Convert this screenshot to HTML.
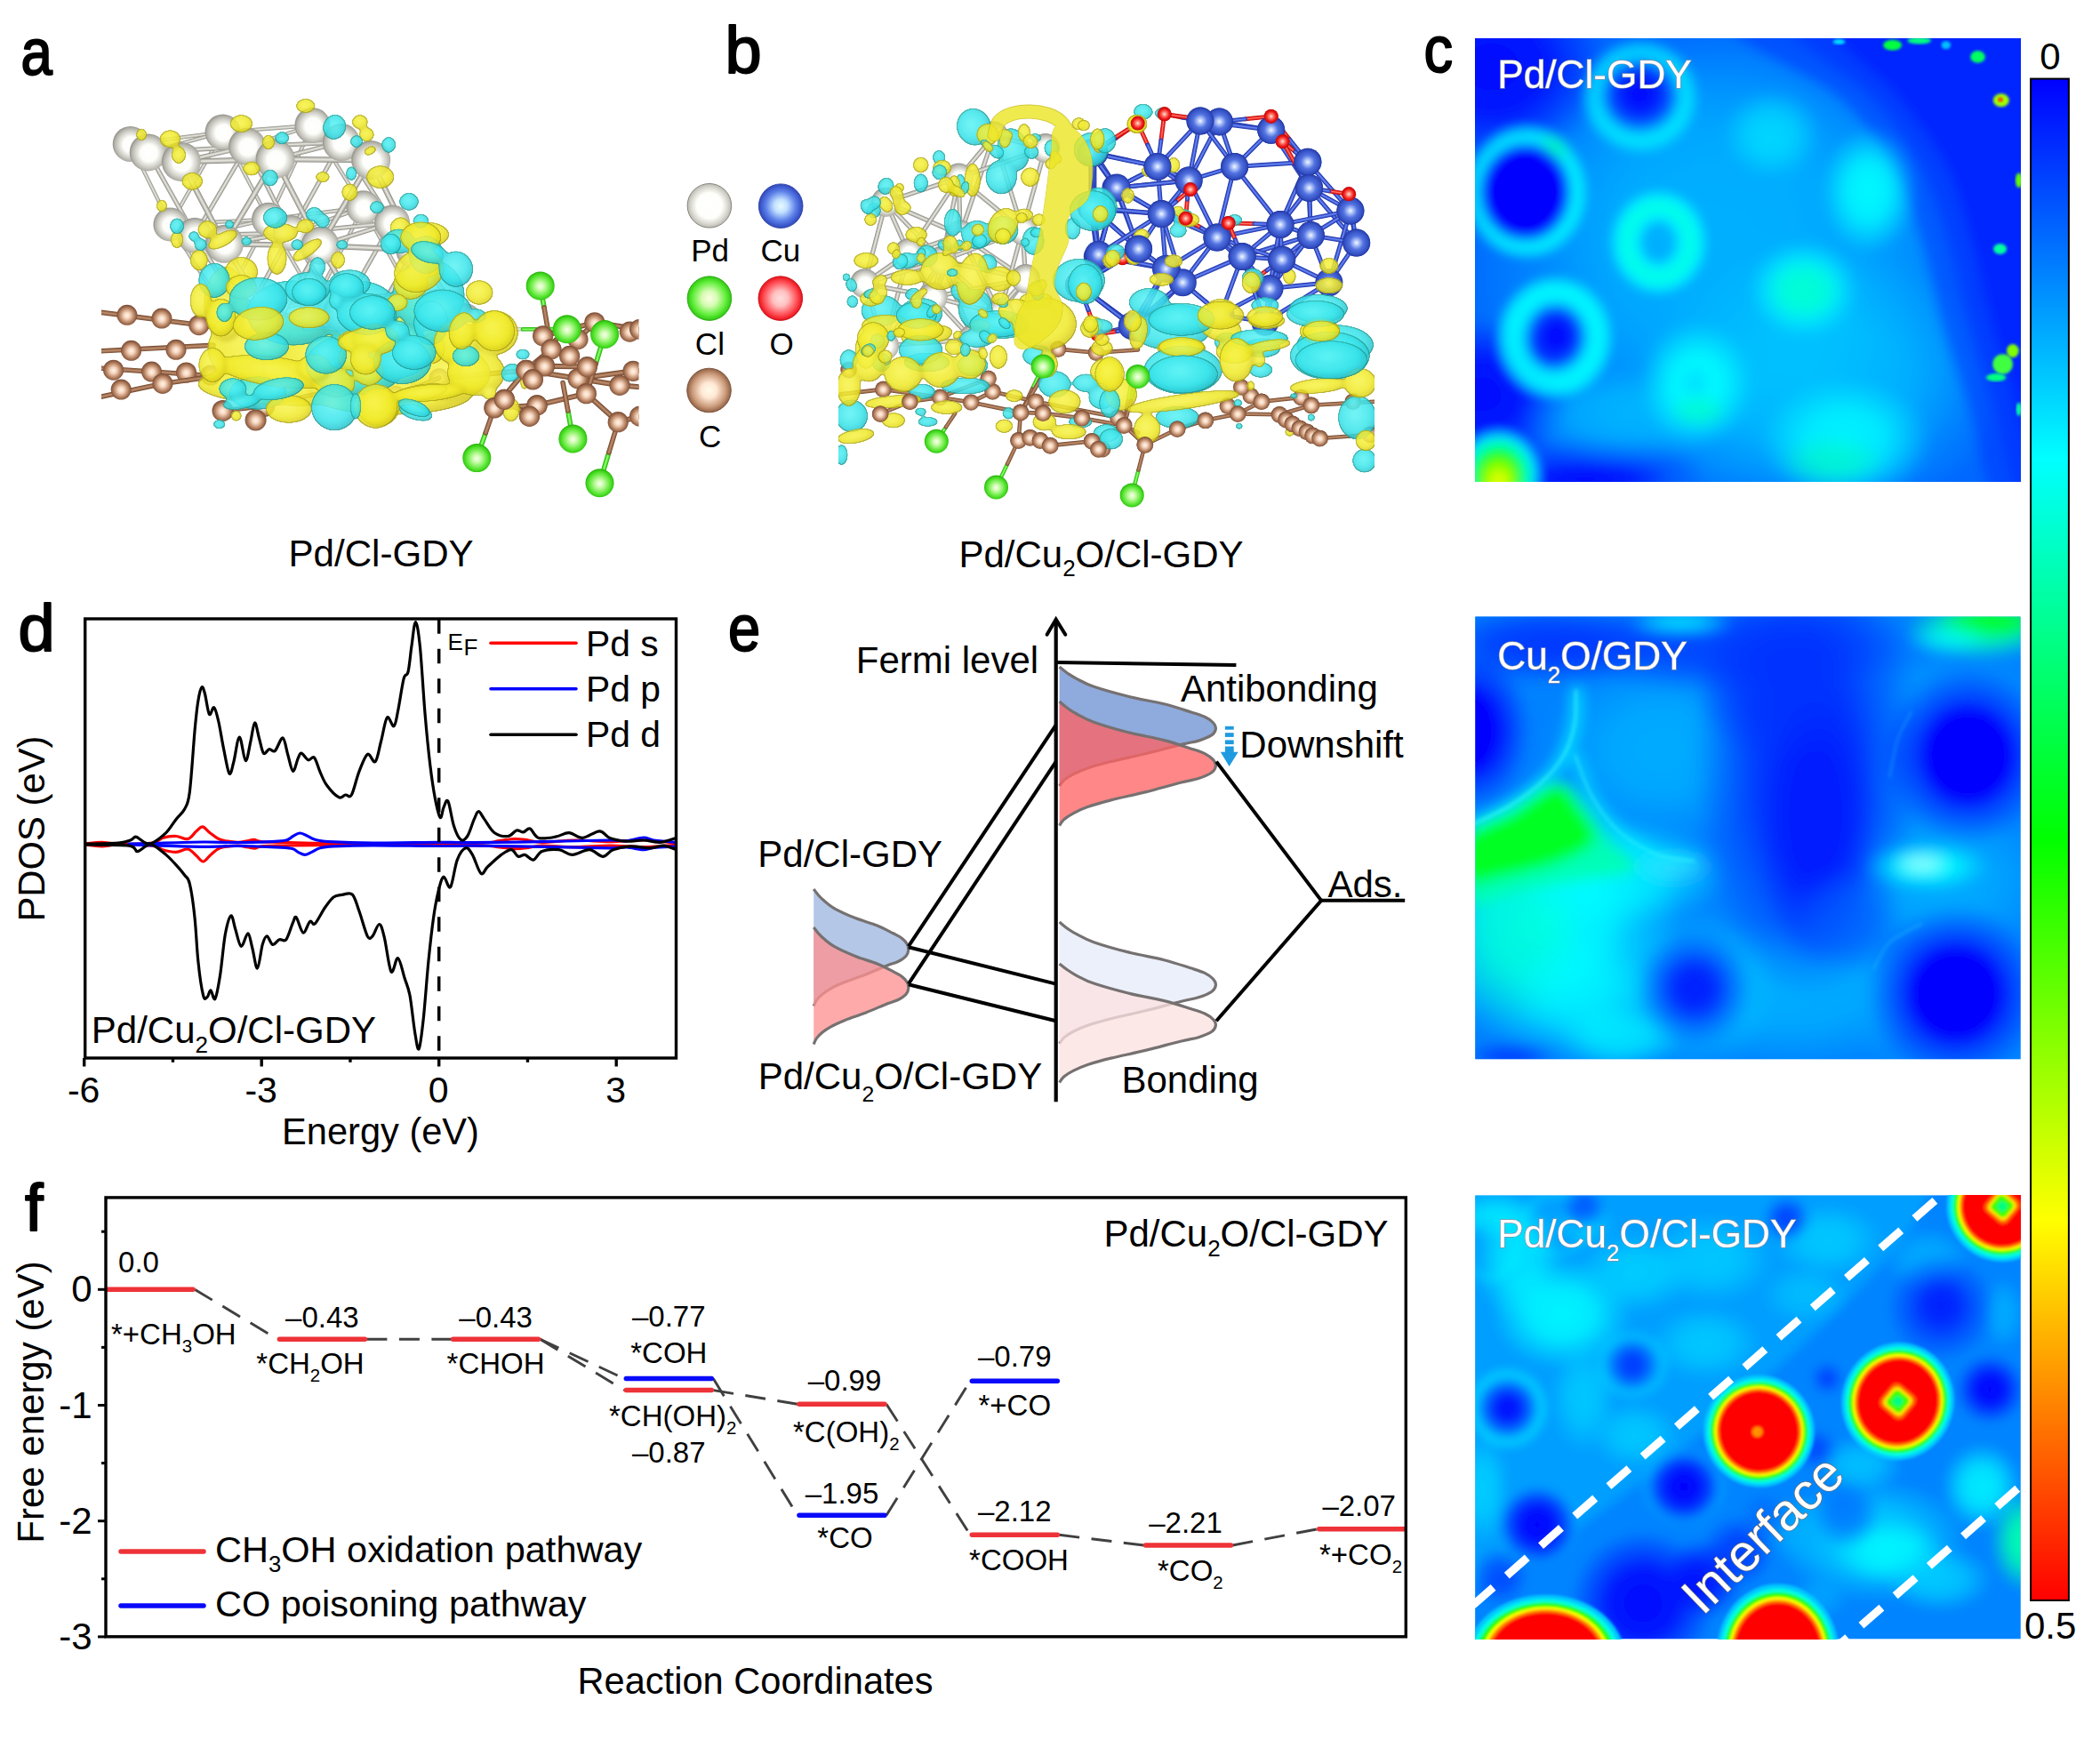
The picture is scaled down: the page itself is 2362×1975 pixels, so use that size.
<!DOCTYPE html>
<html><head><meta charset="utf-8"><title>figure</title>
<style>html,body{margin:0;padding:0;background:#fff}svg{display:block}text{font-family:"Liberation Sans",sans-serif}</style>
</head><body>
<svg width="2362" height="1975" viewBox="0 0 2362 1975">
<rect width="2362" height="1975" fill="#fff"/>
<g id="misc">
<text transform="translate(23.5,83.5) scale(0.86,1)" font-size="74" stroke="#000" stroke-width="2" stroke-linejoin="round">a</text>
<text transform="translate(815.5,82) scale(1,1)" font-size="74" stroke="#000" stroke-width="2" stroke-linejoin="round">b</text>
<text transform="translate(1601.6,80.8) scale(0.88,1)" font-size="74" stroke="#000" stroke-width="2" stroke-linejoin="round">c</text>
<text transform="translate(20.5,732.3) scale(1,1)" font-size="74" stroke="#000" stroke-width="2" stroke-linejoin="round">d</text>
<text transform="translate(819,732) scale(0.88,1)" font-size="74" stroke="#000" stroke-width="2" stroke-linejoin="round">e</text>
<text transform="translate(28,1384) scale(1,1)" font-size="74" stroke="#000" stroke-width="2" stroke-linejoin="round">f</text>
<text x="428.6" y="637.4" font-size="42.1" text-anchor="middle" font-weight="normal" fill="#000" >Pd/Cl-GDY</text>
<text x="1078.4" y="637.5" font-size="42" text-anchor="start" font-weight="normal" fill="#000" >Pd/Cu<tspan dy="10.9" font-size="26.04">2</tspan><tspan dy="-10.9">O/Cl-GDY</tspan></text>
<defs>
<radialGradient id="gPd" cx="0.5" cy="0.5" r="0.5"><stop offset="0" stop-color="#fff"/><stop offset="0.58" stop-color="#fefefb"/><stop offset="0.8" stop-color="#deded6"/><stop offset="1" stop-color="#babab2"/></radialGradient>
<radialGradient id="gCu" cx="0.5" cy="0.5" r="0.5"><stop offset="0" stop-color="#e8fbff"/><stop offset="0.3" stop-color="#c2e0ff"/><stop offset="0.68" stop-color="#5c80e8"/><stop offset="0.9" stop-color="#3c58cc"/><stop offset="1" stop-color="#3048b4"/></radialGradient>
<radialGradient id="gCl" cx="0.5" cy="0.5" r="0.5"><stop offset="0" stop-color="#fbffe4"/><stop offset="0.35" stop-color="#d6fcb2"/><stop offset="0.75" stop-color="#62ee3c"/><stop offset="0.95" stop-color="#38d018"/><stop offset="1" stop-color="#2cb810"/></radialGradient>
<radialGradient id="gO" cx="0.5" cy="0.5" r="0.5"><stop offset="0" stop-color="#ffdede"/><stop offset="0.35" stop-color="#ffc0c0"/><stop offset="0.75" stop-color="#ff5058"/><stop offset="0.95" stop-color="#ee1c24"/><stop offset="1" stop-color="#d41018"/></radialGradient>
<radialGradient id="gC" cx="0.5" cy="0.5" r="0.5"><stop offset="0" stop-color="#fffbea"/><stop offset="0.35" stop-color="#ffe8d4"/><stop offset="0.75" stop-color="#cc9c7c"/><stop offset="0.95" stop-color="#9c6c50"/><stop offset="1" stop-color="#865a40"/></radialGradient>
</defs>
<circle cx="797.9" cy="231.3" r="24.8" fill="url(#gPd)" stroke="#7c7c74" stroke-width="0.9"/>
<circle cx="878.2" cy="231.7" r="24.8" fill="url(#gCu)" stroke="#2c40a8" stroke-width="0.9"/>
<circle cx="797.9" cy="335.6" r="24.8" fill="url(#gCl)" stroke="#2aa810" stroke-width="0.9"/>
<circle cx="877.8" cy="335.6" r="24.8" fill="url(#gO)" stroke="#c81018" stroke-width="0.9"/>
<circle cx="797.5" cy="439" r="24.8" fill="url(#gC)" stroke="#7a5038" stroke-width="0.9"/>
<text x="798.6" y="294.3" font-size="35" text-anchor="middle" font-weight="normal" fill="#000" >Pd</text>
<text x="877.8" y="294.3" font-size="35" text-anchor="middle" font-weight="normal" fill="#000" >Cu</text>
<text x="798.4" y="399.1" font-size="35" text-anchor="middle" font-weight="normal" fill="#000" >Cl</text>
<text x="879.0" y="399.1" font-size="35" text-anchor="middle" font-weight="normal" fill="#000" >O</text>
<text x="798.6" y="502.5" font-size="35" text-anchor="middle" font-weight="normal" fill="#000" >C</text>
<defs><linearGradient id="jet" x1="0" y1="0" x2="0" y2="1"><stop offset="0" stop-color="#0000ff"/><stop offset="0.25" stop-color="#00ffff"/><stop offset="0.5" stop-color="#00ff00"/><stop offset="0.75" stop-color="#ffff00"/><stop offset="1" stop-color="#ff0000"/></linearGradient></defs>
<rect x="2284.1" y="88.6" width="42.8" height="1711.4" fill="url(#jet)" stroke="#000" stroke-width="2"/>
<text x="2305.9" y="77.6" font-size="42" text-anchor="middle" font-weight="normal" fill="#000" >0</text>
<text x="2277.0" y="1842.8" font-size="42" text-anchor="start" font-weight="normal" fill="#000" >0.5</text>
</g>
<g id="molA">
<defs>
<radialGradient id="aPd" cx="0.52" cy="0.52" r="0.5"><stop offset="0" stop-color="#ffffff"/><stop offset="0.45" stop-color="#fdfdfa"/><stop offset="0.72" stop-color="#d6d6cf"/><stop offset="0.92" stop-color="#b4b4ac"/><stop offset="1" stop-color="#9c9c95"/></radialGradient>
<radialGradient id="aC" cx="0.5" cy="0.52" r="0.5"><stop offset="0" stop-color="#fff4ea"/><stop offset="0.3" stop-color="#f6d6bf"/><stop offset="0.7" stop-color="#b98565"/><stop offset="1" stop-color="#7d4f36"/></radialGradient>
<radialGradient id="aCl" cx="0.5" cy="0.52" r="0.5"><stop offset="0" stop-color="#fbfff0"/><stop offset="0.3" stop-color="#c4fba4"/><stop offset="0.72" stop-color="#5ee838"/><stop offset="0.92" stop-color="#3ad018"/><stop offset="1" stop-color="#2cb40e"/></radialGradient>
<radialGradient id="aCu" cx="0.5" cy="0.5" r="0.5"><stop offset="0" stop-color="#f4f8ff"/><stop offset="0.18" stop-color="#b4c8fa"/><stop offset="0.5" stop-color="#5272e0"/><stop offset="0.85" stop-color="#3450c4"/><stop offset="1" stop-color="#2238a4"/></radialGradient>
<radialGradient id="aO" cx="0.5" cy="0.5" r="0.5"><stop offset="0" stop-color="#ffe8e0"/><stop offset="0.3" stop-color="#ff8070"/><stop offset="0.7" stop-color="#f01818"/><stop offset="1" stop-color="#c00808"/></radialGradient>
<radialGradient id="bY" cx="0.45" cy="0.42" r="0.6"><stop offset="0" stop-color="#f8f450"/><stop offset="0.7" stop-color="#f0ea28"/><stop offset="1" stop-color="#d4c818"/></radialGradient>
<radialGradient id="bC" cx="0.45" cy="0.42" r="0.6"><stop offset="0" stop-color="#60f4f6"/><stop offset="0.7" stop-color="#38e4ea"/><stop offset="1" stop-color="#28bcc8"/></radialGradient>
</defs>
<clipPath id="cpA"><rect x="114" y="100" width="604.5" height="470"/></clipPath><g clip-path="url(#cpA)">
<line x1="110.0" y1="350.8" x2="240.0" y2="367.5" stroke="#7a4e34" stroke-width="5.6" stroke-linecap="round"/><line x1="110.0" y1="350.8" x2="240.0" y2="367.5" stroke="#9a6a4c" stroke-width="3.8" stroke-linecap="round"/><line x1="110.0" y1="350.8" x2="240.0" y2="367.5" stroke="#b98a6a" stroke-width="1.7" stroke-linecap="round"/>
<circle cx="142.9" cy="354.3" r="11.5" fill="url(#aC)"/>
<circle cx="181.9" cy="358.1" r="11.5" fill="url(#aC)"/>
<circle cx="223.8" cy="365.7" r="11.5" fill="url(#aC)"/>
<line x1="110.0" y1="395.0" x2="240.0" y2="388.3" stroke="#7a4e34" stroke-width="5.6" stroke-linecap="round"/><line x1="110.0" y1="395.0" x2="240.0" y2="388.3" stroke="#9a6a4c" stroke-width="3.8" stroke-linecap="round"/><line x1="110.0" y1="395.0" x2="240.0" y2="388.3" stroke="#b98a6a" stroke-width="1.7" stroke-linecap="round"/>
<circle cx="147.6" cy="394.3" r="11.5" fill="url(#aC)"/>
<circle cx="198.0" cy="393.3" r="11.5" fill="url(#aC)"/>
<line x1="110.0" y1="414.0" x2="245.0" y2="423.0" stroke="#7a4e34" stroke-width="5.6" stroke-linecap="round"/><line x1="110.0" y1="414.0" x2="245.0" y2="423.0" stroke="#9a6a4c" stroke-width="3.8" stroke-linecap="round"/><line x1="110.0" y1="414.0" x2="245.0" y2="423.0" stroke="#b98a6a" stroke-width="1.7" stroke-linecap="round"/>
<circle cx="127.6" cy="416.2" r="11.5" fill="url(#aC)"/>
<circle cx="170.5" cy="418.1" r="11.5" fill="url(#aC)"/>
<circle cx="209.5" cy="419.0" r="11.5" fill="url(#aC)"/>
<circle cx="237.0" cy="422.0" r="11.5" fill="url(#aC)"/>
<line x1="110.0" y1="447.0" x2="183.0" y2="431.4" stroke="#7a4e34" stroke-width="5.6" stroke-linecap="round"/><line x1="110.0" y1="447.0" x2="183.0" y2="431.4" stroke="#9a6a4c" stroke-width="3.8" stroke-linecap="round"/><line x1="110.0" y1="447.0" x2="183.0" y2="431.4" stroke="#b98a6a" stroke-width="1.7" stroke-linecap="round"/>
<line x1="183.0" y1="431.4" x2="240.0" y2="423.5" stroke="#7a4e34" stroke-width="5.6" stroke-linecap="round"/><line x1="183.0" y1="431.4" x2="240.0" y2="423.5" stroke="#9a6a4c" stroke-width="3.8" stroke-linecap="round"/><line x1="183.0" y1="431.4" x2="240.0" y2="423.5" stroke="#b98a6a" stroke-width="1.7" stroke-linecap="round"/>
<circle cx="136.2" cy="438.1" r="11.5" fill="url(#aC)"/>
<circle cx="182.9" cy="431.4" r="11.5" fill="url(#aC)"/>
<line x1="250.0" y1="345.0" x2="355.0" y2="338.0" stroke="#96968e" stroke-width="4.4" stroke-linecap="round"/><line x1="250.0" y1="345.0" x2="355.0" y2="338.0" stroke="#bcbcb4" stroke-width="3.0" stroke-linecap="round"/><line x1="250.0" y1="345.0" x2="355.0" y2="338.0" stroke="#e2e2da" stroke-width="1.3" stroke-linecap="round"/>
<line x1="355.0" y1="338.0" x2="462.0" y2="330.0" stroke="#96968e" stroke-width="4.4" stroke-linecap="round"/><line x1="355.0" y1="338.0" x2="462.0" y2="330.0" stroke="#bcbcb4" stroke-width="3.0" stroke-linecap="round"/><line x1="355.0" y1="338.0" x2="462.0" y2="330.0" stroke="#e2e2da" stroke-width="1.3" stroke-linecap="round"/>
<line x1="276.0" y1="356.0" x2="383.0" y2="352.0" stroke="#96968e" stroke-width="5.2" stroke-linecap="round"/><line x1="276.0" y1="356.0" x2="383.0" y2="352.0" stroke="#bcbcb4" stroke-width="3.5" stroke-linecap="round"/><line x1="276.0" y1="356.0" x2="383.0" y2="352.0" stroke="#e2e2da" stroke-width="1.6" stroke-linecap="round"/>
<line x1="383.0" y1="352.0" x2="492.0" y2="345.0" stroke="#96968e" stroke-width="5.2" stroke-linecap="round"/><line x1="383.0" y1="352.0" x2="492.0" y2="345.0" stroke="#bcbcb4" stroke-width="3.5" stroke-linecap="round"/><line x1="383.0" y1="352.0" x2="492.0" y2="345.0" stroke="#e2e2da" stroke-width="1.6" stroke-linecap="round"/>
<line x1="309.0" y1="368.7" x2="414.5" y2="370.7" stroke="#96968e" stroke-width="6.4" stroke-linecap="round"/><line x1="309.0" y1="368.7" x2="414.5" y2="370.7" stroke="#bcbcb4" stroke-width="4.4" stroke-linecap="round"/><line x1="309.0" y1="368.7" x2="414.5" y2="370.7" stroke="#e2e2da" stroke-width="1.9" stroke-linecap="round"/>
<line x1="414.5" y1="370.7" x2="522.0" y2="362.0" stroke="#96968e" stroke-width="6.4" stroke-linecap="round"/><line x1="414.5" y1="370.7" x2="522.0" y2="362.0" stroke="#bcbcb4" stroke-width="4.4" stroke-linecap="round"/><line x1="414.5" y1="370.7" x2="522.0" y2="362.0" stroke="#e2e2da" stroke-width="1.9" stroke-linecap="round"/>
<line x1="250.0" y1="345.0" x2="276.0" y2="356.0" stroke="#96968e" stroke-width="4.4" stroke-linecap="round"/><line x1="250.0" y1="345.0" x2="276.0" y2="356.0" stroke="#bcbcb4" stroke-width="3.0" stroke-linecap="round"/><line x1="250.0" y1="345.0" x2="276.0" y2="356.0" stroke="#e2e2da" stroke-width="1.3" stroke-linecap="round"/>
<line x1="276.0" y1="356.0" x2="309.0" y2="368.7" stroke="#96968e" stroke-width="5.2" stroke-linecap="round"/><line x1="276.0" y1="356.0" x2="309.0" y2="368.7" stroke="#bcbcb4" stroke-width="3.5" stroke-linecap="round"/><line x1="276.0" y1="356.0" x2="309.0" y2="368.7" stroke="#e2e2da" stroke-width="1.6" stroke-linecap="round"/>
<line x1="355.0" y1="338.0" x2="383.0" y2="352.0" stroke="#96968e" stroke-width="4.4" stroke-linecap="round"/><line x1="355.0" y1="338.0" x2="383.0" y2="352.0" stroke="#bcbcb4" stroke-width="3.0" stroke-linecap="round"/><line x1="355.0" y1="338.0" x2="383.0" y2="352.0" stroke="#e2e2da" stroke-width="1.3" stroke-linecap="round"/>
<line x1="383.0" y1="352.0" x2="414.5" y2="370.7" stroke="#96968e" stroke-width="5.2" stroke-linecap="round"/><line x1="383.0" y1="352.0" x2="414.5" y2="370.7" stroke="#bcbcb4" stroke-width="3.5" stroke-linecap="round"/><line x1="383.0" y1="352.0" x2="414.5" y2="370.7" stroke="#e2e2da" stroke-width="1.6" stroke-linecap="round"/>
<line x1="462.0" y1="330.0" x2="492.0" y2="345.0" stroke="#96968e" stroke-width="4.4" stroke-linecap="round"/><line x1="462.0" y1="330.0" x2="492.0" y2="345.0" stroke="#bcbcb4" stroke-width="3.0" stroke-linecap="round"/><line x1="462.0" y1="330.0" x2="492.0" y2="345.0" stroke="#e2e2da" stroke-width="1.3" stroke-linecap="round"/>
<line x1="492.0" y1="345.0" x2="522.0" y2="362.0" stroke="#96968e" stroke-width="5.2" stroke-linecap="round"/><line x1="492.0" y1="345.0" x2="522.0" y2="362.0" stroke="#bcbcb4" stroke-width="3.5" stroke-linecap="round"/><line x1="492.0" y1="345.0" x2="522.0" y2="362.0" stroke="#e2e2da" stroke-width="1.6" stroke-linecap="round"/>
<line x1="276.0" y1="356.0" x2="355.0" y2="338.0" stroke="#96968e" stroke-width="4.4" stroke-linecap="round"/><line x1="276.0" y1="356.0" x2="355.0" y2="338.0" stroke="#bcbcb4" stroke-width="3.0" stroke-linecap="round"/><line x1="276.0" y1="356.0" x2="355.0" y2="338.0" stroke="#e2e2da" stroke-width="1.3" stroke-linecap="round"/>
<line x1="309.0" y1="368.7" x2="383.0" y2="352.0" stroke="#96968e" stroke-width="5.2" stroke-linecap="round"/><line x1="309.0" y1="368.7" x2="383.0" y2="352.0" stroke="#bcbcb4" stroke-width="3.5" stroke-linecap="round"/><line x1="309.0" y1="368.7" x2="383.0" y2="352.0" stroke="#e2e2da" stroke-width="1.6" stroke-linecap="round"/>
<line x1="383.0" y1="352.0" x2="462.0" y2="330.0" stroke="#96968e" stroke-width="4.4" stroke-linecap="round"/><line x1="383.0" y1="352.0" x2="462.0" y2="330.0" stroke="#bcbcb4" stroke-width="3.0" stroke-linecap="round"/><line x1="383.0" y1="352.0" x2="462.0" y2="330.0" stroke="#e2e2da" stroke-width="1.3" stroke-linecap="round"/>
<line x1="414.5" y1="370.7" x2="492.0" y2="345.0" stroke="#96968e" stroke-width="5.2" stroke-linecap="round"/><line x1="414.5" y1="370.7" x2="492.0" y2="345.0" stroke="#bcbcb4" stroke-width="3.5" stroke-linecap="round"/><line x1="414.5" y1="370.7" x2="492.0" y2="345.0" stroke="#e2e2da" stroke-width="1.6" stroke-linecap="round"/>
<line x1="191.4" y1="252.4" x2="250.0" y2="345.0" stroke="#96968e" stroke-width="4.4" stroke-linecap="round"/><line x1="191.4" y1="252.4" x2="250.0" y2="345.0" stroke="#bcbcb4" stroke-width="3.0" stroke-linecap="round"/><line x1="191.4" y1="252.4" x2="250.0" y2="345.0" stroke="#e2e2da" stroke-width="1.3" stroke-linecap="round"/>
<line x1="302.0" y1="246.7" x2="355.0" y2="338.0" stroke="#96968e" stroke-width="4.4" stroke-linecap="round"/><line x1="302.0" y1="246.7" x2="355.0" y2="338.0" stroke="#bcbcb4" stroke-width="3.0" stroke-linecap="round"/><line x1="302.0" y1="246.7" x2="355.0" y2="338.0" stroke="#e2e2da" stroke-width="1.3" stroke-linecap="round"/>
<line x1="302.0" y1="246.7" x2="250.0" y2="345.0" stroke="#96968e" stroke-width="4.4" stroke-linecap="round"/><line x1="302.0" y1="246.7" x2="250.0" y2="345.0" stroke="#bcbcb4" stroke-width="3.0" stroke-linecap="round"/><line x1="302.0" y1="246.7" x2="250.0" y2="345.0" stroke="#e2e2da" stroke-width="1.3" stroke-linecap="round"/>
<line x1="408.6" y1="233.3" x2="462.0" y2="330.0" stroke="#96968e" stroke-width="4.4" stroke-linecap="round"/><line x1="408.6" y1="233.3" x2="462.0" y2="330.0" stroke="#bcbcb4" stroke-width="3.0" stroke-linecap="round"/><line x1="408.6" y1="233.3" x2="462.0" y2="330.0" stroke="#e2e2da" stroke-width="1.3" stroke-linecap="round"/>
<line x1="408.6" y1="233.3" x2="355.0" y2="338.0" stroke="#96968e" stroke-width="4.4" stroke-linecap="round"/><line x1="408.6" y1="233.3" x2="355.0" y2="338.0" stroke="#bcbcb4" stroke-width="3.0" stroke-linecap="round"/><line x1="408.6" y1="233.3" x2="355.0" y2="338.0" stroke="#e2e2da" stroke-width="1.3" stroke-linecap="round"/>
<line x1="219.0" y1="264.8" x2="276.0" y2="356.0" stroke="#96968e" stroke-width="5.2" stroke-linecap="round"/><line x1="219.0" y1="264.8" x2="276.0" y2="356.0" stroke="#bcbcb4" stroke-width="3.5" stroke-linecap="round"/><line x1="219.0" y1="264.8" x2="276.0" y2="356.0" stroke="#e2e2da" stroke-width="1.6" stroke-linecap="round"/>
<line x1="327.0" y1="262.0" x2="383.0" y2="352.0" stroke="#96968e" stroke-width="5.2" stroke-linecap="round"/><line x1="327.0" y1="262.0" x2="383.0" y2="352.0" stroke="#bcbcb4" stroke-width="3.5" stroke-linecap="round"/><line x1="327.0" y1="262.0" x2="383.0" y2="352.0" stroke="#e2e2da" stroke-width="1.6" stroke-linecap="round"/>
<line x1="327.0" y1="262.0" x2="276.0" y2="356.0" stroke="#96968e" stroke-width="5.2" stroke-linecap="round"/><line x1="327.0" y1="262.0" x2="276.0" y2="356.0" stroke="#bcbcb4" stroke-width="3.5" stroke-linecap="round"/><line x1="327.0" y1="262.0" x2="276.0" y2="356.0" stroke="#e2e2da" stroke-width="1.6" stroke-linecap="round"/>
<line x1="441.0" y1="250.5" x2="492.0" y2="345.0" stroke="#96968e" stroke-width="5.2" stroke-linecap="round"/><line x1="441.0" y1="250.5" x2="492.0" y2="345.0" stroke="#bcbcb4" stroke-width="3.5" stroke-linecap="round"/><line x1="441.0" y1="250.5" x2="492.0" y2="345.0" stroke="#e2e2da" stroke-width="1.6" stroke-linecap="round"/>
<line x1="441.0" y1="250.5" x2="383.0" y2="352.0" stroke="#96968e" stroke-width="5.2" stroke-linecap="round"/><line x1="441.0" y1="250.5" x2="383.0" y2="352.0" stroke="#bcbcb4" stroke-width="3.5" stroke-linecap="round"/><line x1="441.0" y1="250.5" x2="383.0" y2="352.0" stroke="#e2e2da" stroke-width="1.6" stroke-linecap="round"/>
<line x1="252.4" y1="274.3" x2="309.0" y2="368.7" stroke="#96968e" stroke-width="6.4" stroke-linecap="round"/><line x1="252.4" y1="274.3" x2="309.0" y2="368.7" stroke="#bcbcb4" stroke-width="4.4" stroke-linecap="round"/><line x1="252.4" y1="274.3" x2="309.0" y2="368.7" stroke="#e2e2da" stroke-width="1.9" stroke-linecap="round"/>
<line x1="360.0" y1="276.2" x2="414.5" y2="370.7" stroke="#96968e" stroke-width="6.4" stroke-linecap="round"/><line x1="360.0" y1="276.2" x2="414.5" y2="370.7" stroke="#bcbcb4" stroke-width="4.4" stroke-linecap="round"/><line x1="360.0" y1="276.2" x2="414.5" y2="370.7" stroke="#e2e2da" stroke-width="1.9" stroke-linecap="round"/>
<line x1="360.0" y1="276.2" x2="309.0" y2="368.7" stroke="#96968e" stroke-width="6.4" stroke-linecap="round"/><line x1="360.0" y1="276.2" x2="309.0" y2="368.7" stroke="#bcbcb4" stroke-width="4.4" stroke-linecap="round"/><line x1="360.0" y1="276.2" x2="309.0" y2="368.7" stroke="#e2e2da" stroke-width="1.9" stroke-linecap="round"/>
<line x1="466.7" y1="281.0" x2="522.0" y2="362.0" stroke="#96968e" stroke-width="6.4" stroke-linecap="round"/><line x1="466.7" y1="281.0" x2="522.0" y2="362.0" stroke="#bcbcb4" stroke-width="4.4" stroke-linecap="round"/><line x1="466.7" y1="281.0" x2="522.0" y2="362.0" stroke="#e2e2da" stroke-width="1.9" stroke-linecap="round"/>
<line x1="466.7" y1="281.0" x2="414.5" y2="370.7" stroke="#96968e" stroke-width="6.4" stroke-linecap="round"/><line x1="466.7" y1="281.0" x2="414.5" y2="370.7" stroke="#bcbcb4" stroke-width="4.4" stroke-linecap="round"/><line x1="466.7" y1="281.0" x2="414.5" y2="370.7" stroke="#e2e2da" stroke-width="1.9" stroke-linecap="round"/>
<line x1="191.4" y1="252.4" x2="302.0" y2="246.7" stroke="#96968e" stroke-width="4.4" stroke-linecap="round"/><line x1="191.4" y1="252.4" x2="302.0" y2="246.7" stroke="#bcbcb4" stroke-width="3.0" stroke-linecap="round"/><line x1="191.4" y1="252.4" x2="302.0" y2="246.7" stroke="#e2e2da" stroke-width="1.3" stroke-linecap="round"/>
<line x1="302.0" y1="246.7" x2="408.6" y2="233.3" stroke="#96968e" stroke-width="4.4" stroke-linecap="round"/><line x1="302.0" y1="246.7" x2="408.6" y2="233.3" stroke="#bcbcb4" stroke-width="3.0" stroke-linecap="round"/><line x1="302.0" y1="246.7" x2="408.6" y2="233.3" stroke="#e2e2da" stroke-width="1.3" stroke-linecap="round"/>
<line x1="219.0" y1="264.8" x2="327.0" y2="262.0" stroke="#96968e" stroke-width="5.2" stroke-linecap="round"/><line x1="219.0" y1="264.8" x2="327.0" y2="262.0" stroke="#bcbcb4" stroke-width="3.5" stroke-linecap="round"/><line x1="219.0" y1="264.8" x2="327.0" y2="262.0" stroke="#e2e2da" stroke-width="1.6" stroke-linecap="round"/>
<line x1="327.0" y1="262.0" x2="441.0" y2="250.5" stroke="#96968e" stroke-width="5.2" stroke-linecap="round"/><line x1="327.0" y1="262.0" x2="441.0" y2="250.5" stroke="#bcbcb4" stroke-width="3.5" stroke-linecap="round"/><line x1="327.0" y1="262.0" x2="441.0" y2="250.5" stroke="#e2e2da" stroke-width="1.6" stroke-linecap="round"/>
<line x1="252.4" y1="274.3" x2="360.0" y2="276.2" stroke="#96968e" stroke-width="6.4" stroke-linecap="round"/><line x1="252.4" y1="274.3" x2="360.0" y2="276.2" stroke="#bcbcb4" stroke-width="4.4" stroke-linecap="round"/><line x1="252.4" y1="274.3" x2="360.0" y2="276.2" stroke="#e2e2da" stroke-width="1.9" stroke-linecap="round"/>
<line x1="360.0" y1="276.2" x2="466.7" y2="281.0" stroke="#96968e" stroke-width="6.4" stroke-linecap="round"/><line x1="360.0" y1="276.2" x2="466.7" y2="281.0" stroke="#bcbcb4" stroke-width="4.4" stroke-linecap="round"/><line x1="360.0" y1="276.2" x2="466.7" y2="281.0" stroke="#e2e2da" stroke-width="1.9" stroke-linecap="round"/>
<line x1="191.4" y1="252.4" x2="219.0" y2="264.8" stroke="#96968e" stroke-width="4.4" stroke-linecap="round"/><line x1="191.4" y1="252.4" x2="219.0" y2="264.8" stroke="#bcbcb4" stroke-width="3.0" stroke-linecap="round"/><line x1="191.4" y1="252.4" x2="219.0" y2="264.8" stroke="#e2e2da" stroke-width="1.3" stroke-linecap="round"/>
<line x1="219.0" y1="264.8" x2="252.4" y2="274.3" stroke="#96968e" stroke-width="5.2" stroke-linecap="round"/><line x1="219.0" y1="264.8" x2="252.4" y2="274.3" stroke="#bcbcb4" stroke-width="3.5" stroke-linecap="round"/><line x1="219.0" y1="264.8" x2="252.4" y2="274.3" stroke="#e2e2da" stroke-width="1.6" stroke-linecap="round"/>
<line x1="302.0" y1="246.7" x2="327.0" y2="262.0" stroke="#96968e" stroke-width="4.4" stroke-linecap="round"/><line x1="302.0" y1="246.7" x2="327.0" y2="262.0" stroke="#bcbcb4" stroke-width="3.0" stroke-linecap="round"/><line x1="302.0" y1="246.7" x2="327.0" y2="262.0" stroke="#e2e2da" stroke-width="1.3" stroke-linecap="round"/>
<line x1="327.0" y1="262.0" x2="360.0" y2="276.2" stroke="#96968e" stroke-width="5.2" stroke-linecap="round"/><line x1="327.0" y1="262.0" x2="360.0" y2="276.2" stroke="#bcbcb4" stroke-width="3.5" stroke-linecap="round"/><line x1="327.0" y1="262.0" x2="360.0" y2="276.2" stroke="#e2e2da" stroke-width="1.6" stroke-linecap="round"/>
<line x1="408.6" y1="233.3" x2="441.0" y2="250.5" stroke="#96968e" stroke-width="4.4" stroke-linecap="round"/><line x1="408.6" y1="233.3" x2="441.0" y2="250.5" stroke="#bcbcb4" stroke-width="3.0" stroke-linecap="round"/><line x1="408.6" y1="233.3" x2="441.0" y2="250.5" stroke="#e2e2da" stroke-width="1.3" stroke-linecap="round"/>
<line x1="441.0" y1="250.5" x2="466.7" y2="281.0" stroke="#96968e" stroke-width="5.2" stroke-linecap="round"/><line x1="441.0" y1="250.5" x2="466.7" y2="281.0" stroke="#bcbcb4" stroke-width="3.5" stroke-linecap="round"/><line x1="441.0" y1="250.5" x2="466.7" y2="281.0" stroke="#e2e2da" stroke-width="1.6" stroke-linecap="round"/>
<line x1="219.0" y1="264.8" x2="302.0" y2="246.7" stroke="#96968e" stroke-width="4.4" stroke-linecap="round"/><line x1="219.0" y1="264.8" x2="302.0" y2="246.7" stroke="#bcbcb4" stroke-width="3.0" stroke-linecap="round"/><line x1="219.0" y1="264.8" x2="302.0" y2="246.7" stroke="#e2e2da" stroke-width="1.3" stroke-linecap="round"/>
<line x1="252.4" y1="274.3" x2="327.0" y2="262.0" stroke="#96968e" stroke-width="5.2" stroke-linecap="round"/><line x1="252.4" y1="274.3" x2="327.0" y2="262.0" stroke="#bcbcb4" stroke-width="3.5" stroke-linecap="round"/><line x1="252.4" y1="274.3" x2="327.0" y2="262.0" stroke="#e2e2da" stroke-width="1.6" stroke-linecap="round"/>
<line x1="327.0" y1="262.0" x2="408.6" y2="233.3" stroke="#96968e" stroke-width="4.4" stroke-linecap="round"/><line x1="327.0" y1="262.0" x2="408.6" y2="233.3" stroke="#bcbcb4" stroke-width="3.0" stroke-linecap="round"/><line x1="327.0" y1="262.0" x2="408.6" y2="233.3" stroke="#e2e2da" stroke-width="1.3" stroke-linecap="round"/>
<line x1="360.0" y1="276.2" x2="441.0" y2="250.5" stroke="#96968e" stroke-width="5.2" stroke-linecap="round"/><line x1="360.0" y1="276.2" x2="441.0" y2="250.5" stroke="#bcbcb4" stroke-width="3.5" stroke-linecap="round"/><line x1="360.0" y1="276.2" x2="441.0" y2="250.5" stroke="#e2e2da" stroke-width="1.6" stroke-linecap="round"/>
<line x1="146.7" y1="161.9" x2="191.4" y2="252.4" stroke="#96968e" stroke-width="4.4" stroke-linecap="round"/><line x1="146.7" y1="161.9" x2="191.4" y2="252.4" stroke="#bcbcb4" stroke-width="3.0" stroke-linecap="round"/><line x1="146.7" y1="161.9" x2="191.4" y2="252.4" stroke="#e2e2da" stroke-width="1.3" stroke-linecap="round"/>
<line x1="250.5" y1="148.6" x2="302.0" y2="246.7" stroke="#96968e" stroke-width="4.4" stroke-linecap="round"/><line x1="250.5" y1="148.6" x2="302.0" y2="246.7" stroke="#bcbcb4" stroke-width="3.0" stroke-linecap="round"/><line x1="250.5" y1="148.6" x2="302.0" y2="246.7" stroke="#e2e2da" stroke-width="1.3" stroke-linecap="round"/>
<line x1="250.5" y1="148.6" x2="191.4" y2="252.4" stroke="#96968e" stroke-width="4.4" stroke-linecap="round"/><line x1="250.5" y1="148.6" x2="191.4" y2="252.4" stroke="#bcbcb4" stroke-width="3.0" stroke-linecap="round"/><line x1="250.5" y1="148.6" x2="191.4" y2="252.4" stroke="#e2e2da" stroke-width="1.3" stroke-linecap="round"/>
<line x1="351.4" y1="141.0" x2="408.6" y2="233.3" stroke="#96968e" stroke-width="4.4" stroke-linecap="round"/><line x1="351.4" y1="141.0" x2="408.6" y2="233.3" stroke="#bcbcb4" stroke-width="3.0" stroke-linecap="round"/><line x1="351.4" y1="141.0" x2="408.6" y2="233.3" stroke="#e2e2da" stroke-width="1.3" stroke-linecap="round"/>
<line x1="351.4" y1="141.0" x2="302.0" y2="246.7" stroke="#96968e" stroke-width="4.4" stroke-linecap="round"/><line x1="351.4" y1="141.0" x2="302.0" y2="246.7" stroke="#bcbcb4" stroke-width="3.0" stroke-linecap="round"/><line x1="351.4" y1="141.0" x2="302.0" y2="246.7" stroke="#e2e2da" stroke-width="1.3" stroke-linecap="round"/>
<line x1="166.7" y1="171.4" x2="219.0" y2="264.8" stroke="#96968e" stroke-width="5.2" stroke-linecap="round"/><line x1="166.7" y1="171.4" x2="219.0" y2="264.8" stroke="#bcbcb4" stroke-width="3.5" stroke-linecap="round"/><line x1="166.7" y1="171.4" x2="219.0" y2="264.8" stroke="#e2e2da" stroke-width="1.6" stroke-linecap="round"/>
<line x1="278.0" y1="164.8" x2="327.0" y2="262.0" stroke="#96968e" stroke-width="5.2" stroke-linecap="round"/><line x1="278.0" y1="164.8" x2="327.0" y2="262.0" stroke="#bcbcb4" stroke-width="3.5" stroke-linecap="round"/><line x1="278.0" y1="164.8" x2="327.0" y2="262.0" stroke="#e2e2da" stroke-width="1.6" stroke-linecap="round"/>
<line x1="278.0" y1="164.8" x2="219.0" y2="264.8" stroke="#96968e" stroke-width="5.2" stroke-linecap="round"/><line x1="278.0" y1="164.8" x2="219.0" y2="264.8" stroke="#bcbcb4" stroke-width="3.5" stroke-linecap="round"/><line x1="278.0" y1="164.8" x2="219.0" y2="264.8" stroke="#e2e2da" stroke-width="1.6" stroke-linecap="round"/>
<line x1="383.8" y1="160.0" x2="441.0" y2="250.5" stroke="#96968e" stroke-width="5.2" stroke-linecap="round"/><line x1="383.8" y1="160.0" x2="441.0" y2="250.5" stroke="#bcbcb4" stroke-width="3.5" stroke-linecap="round"/><line x1="383.8" y1="160.0" x2="441.0" y2="250.5" stroke="#e2e2da" stroke-width="1.6" stroke-linecap="round"/>
<line x1="383.8" y1="160.0" x2="327.0" y2="262.0" stroke="#96968e" stroke-width="5.2" stroke-linecap="round"/><line x1="383.8" y1="160.0" x2="327.0" y2="262.0" stroke="#bcbcb4" stroke-width="3.5" stroke-linecap="round"/><line x1="383.8" y1="160.0" x2="327.0" y2="262.0" stroke="#e2e2da" stroke-width="1.6" stroke-linecap="round"/>
<line x1="203.8" y1="181.9" x2="252.4" y2="274.3" stroke="#96968e" stroke-width="6.4" stroke-linecap="round"/><line x1="203.8" y1="181.9" x2="252.4" y2="274.3" stroke="#bcbcb4" stroke-width="4.4" stroke-linecap="round"/><line x1="203.8" y1="181.9" x2="252.4" y2="274.3" stroke="#e2e2da" stroke-width="1.9" stroke-linecap="round"/>
<line x1="309.5" y1="179.0" x2="360.0" y2="276.2" stroke="#96968e" stroke-width="6.4" stroke-linecap="round"/><line x1="309.5" y1="179.0" x2="360.0" y2="276.2" stroke="#bcbcb4" stroke-width="4.4" stroke-linecap="round"/><line x1="309.5" y1="179.0" x2="360.0" y2="276.2" stroke="#e2e2da" stroke-width="1.9" stroke-linecap="round"/>
<line x1="309.5" y1="179.0" x2="252.4" y2="274.3" stroke="#96968e" stroke-width="6.4" stroke-linecap="round"/><line x1="309.5" y1="179.0" x2="252.4" y2="274.3" stroke="#bcbcb4" stroke-width="4.4" stroke-linecap="round"/><line x1="309.5" y1="179.0" x2="252.4" y2="274.3" stroke="#e2e2da" stroke-width="1.9" stroke-linecap="round"/>
<line x1="417.2" y1="180.0" x2="466.7" y2="281.0" stroke="#96968e" stroke-width="6.4" stroke-linecap="round"/><line x1="417.2" y1="180.0" x2="466.7" y2="281.0" stroke="#bcbcb4" stroke-width="4.4" stroke-linecap="round"/><line x1="417.2" y1="180.0" x2="466.7" y2="281.0" stroke="#e2e2da" stroke-width="1.9" stroke-linecap="round"/>
<line x1="417.2" y1="180.0" x2="360.0" y2="276.2" stroke="#96968e" stroke-width="6.4" stroke-linecap="round"/><line x1="417.2" y1="180.0" x2="360.0" y2="276.2" stroke="#bcbcb4" stroke-width="4.4" stroke-linecap="round"/><line x1="417.2" y1="180.0" x2="360.0" y2="276.2" stroke="#e2e2da" stroke-width="1.9" stroke-linecap="round"/>
<line x1="146.7" y1="161.9" x2="250.5" y2="148.6" stroke="#96968e" stroke-width="4.4" stroke-linecap="round"/><line x1="146.7" y1="161.9" x2="250.5" y2="148.6" stroke="#bcbcb4" stroke-width="3.0" stroke-linecap="round"/><line x1="146.7" y1="161.9" x2="250.5" y2="148.6" stroke="#e2e2da" stroke-width="1.3" stroke-linecap="round"/>
<line x1="250.5" y1="148.6" x2="351.4" y2="141.0" stroke="#96968e" stroke-width="4.4" stroke-linecap="round"/><line x1="250.5" y1="148.6" x2="351.4" y2="141.0" stroke="#bcbcb4" stroke-width="3.0" stroke-linecap="round"/><line x1="250.5" y1="148.6" x2="351.4" y2="141.0" stroke="#e2e2da" stroke-width="1.3" stroke-linecap="round"/>
<line x1="166.7" y1="171.4" x2="278.0" y2="164.8" stroke="#96968e" stroke-width="5.2" stroke-linecap="round"/><line x1="166.7" y1="171.4" x2="278.0" y2="164.8" stroke="#bcbcb4" stroke-width="3.5" stroke-linecap="round"/><line x1="166.7" y1="171.4" x2="278.0" y2="164.8" stroke="#e2e2da" stroke-width="1.6" stroke-linecap="round"/>
<line x1="278.0" y1="164.8" x2="383.8" y2="160.0" stroke="#96968e" stroke-width="5.2" stroke-linecap="round"/><line x1="278.0" y1="164.8" x2="383.8" y2="160.0" stroke="#bcbcb4" stroke-width="3.5" stroke-linecap="round"/><line x1="278.0" y1="164.8" x2="383.8" y2="160.0" stroke="#e2e2da" stroke-width="1.6" stroke-linecap="round"/>
<line x1="203.8" y1="181.9" x2="309.5" y2="179.0" stroke="#96968e" stroke-width="6.4" stroke-linecap="round"/><line x1="203.8" y1="181.9" x2="309.5" y2="179.0" stroke="#bcbcb4" stroke-width="4.4" stroke-linecap="round"/><line x1="203.8" y1="181.9" x2="309.5" y2="179.0" stroke="#e2e2da" stroke-width="1.9" stroke-linecap="round"/>
<line x1="309.5" y1="179.0" x2="417.2" y2="180.0" stroke="#96968e" stroke-width="6.4" stroke-linecap="round"/><line x1="309.5" y1="179.0" x2="417.2" y2="180.0" stroke="#bcbcb4" stroke-width="4.4" stroke-linecap="round"/><line x1="309.5" y1="179.0" x2="417.2" y2="180.0" stroke="#e2e2da" stroke-width="1.9" stroke-linecap="round"/>
<line x1="146.7" y1="161.9" x2="166.7" y2="171.4" stroke="#96968e" stroke-width="4.4" stroke-linecap="round"/><line x1="146.7" y1="161.9" x2="166.7" y2="171.4" stroke="#bcbcb4" stroke-width="3.0" stroke-linecap="round"/><line x1="146.7" y1="161.9" x2="166.7" y2="171.4" stroke="#e2e2da" stroke-width="1.3" stroke-linecap="round"/>
<line x1="166.7" y1="171.4" x2="203.8" y2="181.9" stroke="#96968e" stroke-width="5.2" stroke-linecap="round"/><line x1="166.7" y1="171.4" x2="203.8" y2="181.9" stroke="#bcbcb4" stroke-width="3.5" stroke-linecap="round"/><line x1="166.7" y1="171.4" x2="203.8" y2="181.9" stroke="#e2e2da" stroke-width="1.6" stroke-linecap="round"/>
<line x1="250.5" y1="148.6" x2="278.0" y2="164.8" stroke="#96968e" stroke-width="4.4" stroke-linecap="round"/><line x1="250.5" y1="148.6" x2="278.0" y2="164.8" stroke="#bcbcb4" stroke-width="3.0" stroke-linecap="round"/><line x1="250.5" y1="148.6" x2="278.0" y2="164.8" stroke="#e2e2da" stroke-width="1.3" stroke-linecap="round"/>
<line x1="278.0" y1="164.8" x2="309.5" y2="179.0" stroke="#96968e" stroke-width="5.2" stroke-linecap="round"/><line x1="278.0" y1="164.8" x2="309.5" y2="179.0" stroke="#bcbcb4" stroke-width="3.5" stroke-linecap="round"/><line x1="278.0" y1="164.8" x2="309.5" y2="179.0" stroke="#e2e2da" stroke-width="1.6" stroke-linecap="round"/>
<line x1="351.4" y1="141.0" x2="383.8" y2="160.0" stroke="#96968e" stroke-width="4.4" stroke-linecap="round"/><line x1="351.4" y1="141.0" x2="383.8" y2="160.0" stroke="#bcbcb4" stroke-width="3.0" stroke-linecap="round"/><line x1="351.4" y1="141.0" x2="383.8" y2="160.0" stroke="#e2e2da" stroke-width="1.3" stroke-linecap="round"/>
<line x1="383.8" y1="160.0" x2="417.2" y2="180.0" stroke="#96968e" stroke-width="5.2" stroke-linecap="round"/><line x1="383.8" y1="160.0" x2="417.2" y2="180.0" stroke="#bcbcb4" stroke-width="3.5" stroke-linecap="round"/><line x1="383.8" y1="160.0" x2="417.2" y2="180.0" stroke="#e2e2da" stroke-width="1.6" stroke-linecap="round"/>
<line x1="166.7" y1="171.4" x2="250.5" y2="148.6" stroke="#96968e" stroke-width="4.4" stroke-linecap="round"/><line x1="166.7" y1="171.4" x2="250.5" y2="148.6" stroke="#bcbcb4" stroke-width="3.0" stroke-linecap="round"/><line x1="166.7" y1="171.4" x2="250.5" y2="148.6" stroke="#e2e2da" stroke-width="1.3" stroke-linecap="round"/>
<line x1="203.8" y1="181.9" x2="278.0" y2="164.8" stroke="#96968e" stroke-width="5.2" stroke-linecap="round"/><line x1="203.8" y1="181.9" x2="278.0" y2="164.8" stroke="#bcbcb4" stroke-width="3.5" stroke-linecap="round"/><line x1="203.8" y1="181.9" x2="278.0" y2="164.8" stroke="#e2e2da" stroke-width="1.6" stroke-linecap="round"/>
<line x1="278.0" y1="164.8" x2="351.4" y2="141.0" stroke="#96968e" stroke-width="4.4" stroke-linecap="round"/><line x1="278.0" y1="164.8" x2="351.4" y2="141.0" stroke="#bcbcb4" stroke-width="3.0" stroke-linecap="round"/><line x1="278.0" y1="164.8" x2="351.4" y2="141.0" stroke="#e2e2da" stroke-width="1.3" stroke-linecap="round"/>
<line x1="309.5" y1="179.0" x2="383.8" y2="160.0" stroke="#96968e" stroke-width="5.2" stroke-linecap="round"/><line x1="309.5" y1="179.0" x2="383.8" y2="160.0" stroke="#bcbcb4" stroke-width="3.5" stroke-linecap="round"/><line x1="309.5" y1="179.0" x2="383.8" y2="160.0" stroke="#e2e2da" stroke-width="1.6" stroke-linecap="round"/>
<circle cx="250.0" cy="345.0" r="19.0" fill="url(#aPd)"/>
<circle cx="355.0" cy="338.0" r="19.0" fill="url(#aPd)"/>
<circle cx="462.0" cy="330.0" r="19.0" fill="url(#aPd)"/>
<circle cx="276.0" cy="356.0" r="20.0" fill="url(#aPd)"/>
<circle cx="383.0" cy="352.0" r="20.0" fill="url(#aPd)"/>
<circle cx="492.0" cy="345.0" r="20.0" fill="url(#aPd)"/>
<circle cx="309.0" cy="368.7" r="21.0" fill="url(#aPd)"/>
<circle cx="414.5" cy="370.7" r="21.0" fill="url(#aPd)"/>
<circle cx="522.0" cy="362.0" r="21.0" fill="url(#aPd)"/>
<circle cx="191.4" cy="252.4" r="19.0" fill="url(#aPd)"/>
<circle cx="302.0" cy="246.7" r="19.0" fill="url(#aPd)"/>
<circle cx="408.6" cy="233.3" r="19.0" fill="url(#aPd)"/>
<circle cx="219.0" cy="264.8" r="20.0" fill="url(#aPd)"/>
<circle cx="327.0" cy="262.0" r="20.0" fill="url(#aPd)"/>
<circle cx="441.0" cy="250.5" r="20.0" fill="url(#aPd)"/>
<circle cx="252.4" cy="274.3" r="21.5" fill="url(#aPd)"/>
<circle cx="360.0" cy="276.2" r="21.5" fill="url(#aPd)"/>
<circle cx="466.7" cy="281.0" r="21.5" fill="url(#aPd)"/>
<circle cx="146.7" cy="161.9" r="20.0" fill="url(#aPd)"/>
<circle cx="250.5" cy="148.6" r="20.0" fill="url(#aPd)"/>
<circle cx="351.4" cy="141.0" r="20.0" fill="url(#aPd)"/>
<circle cx="166.7" cy="171.4" r="21.0" fill="url(#aPd)"/>
<circle cx="278.0" cy="164.8" r="21.0" fill="url(#aPd)"/>
<circle cx="383.8" cy="160.0" r="21.0" fill="url(#aPd)"/>
<circle cx="203.8" cy="181.9" r="22.0" fill="url(#aPd)"/>
<circle cx="309.5" cy="179.0" r="22.0" fill="url(#aPd)"/>
<circle cx="417.2" cy="180.0" r="22.0" fill="url(#aPd)"/>
<line x1="446.1" y1="447.4" x2="494.0" y2="425.8" stroke="#7a4e34" stroke-width="6.0" stroke-linecap="round"/><line x1="446.1" y1="447.4" x2="494.0" y2="425.8" stroke="#9a6a4c" stroke-width="4.1" stroke-linecap="round"/><line x1="446.1" y1="447.4" x2="494.0" y2="425.8" stroke="#b98a6a" stroke-width="1.8" stroke-linecap="round"/>
<line x1="494.0" y1="425.8" x2="591.8" y2="416.4" stroke="#7a4e34" stroke-width="6.0" stroke-linecap="round"/><line x1="494.0" y1="425.8" x2="591.8" y2="416.4" stroke="#9a6a4c" stroke-width="4.1" stroke-linecap="round"/><line x1="494.0" y1="425.8" x2="591.8" y2="416.4" stroke="#b98a6a" stroke-width="1.8" stroke-linecap="round"/>
<line x1="591.8" y1="416.4" x2="620.0" y2="392.9" stroke="#7a4e34" stroke-width="6.0" stroke-linecap="round"/><line x1="591.8" y1="416.4" x2="620.0" y2="392.9" stroke="#9a6a4c" stroke-width="4.1" stroke-linecap="round"/><line x1="591.8" y1="416.4" x2="620.0" y2="392.9" stroke="#b98a6a" stroke-width="1.8" stroke-linecap="round"/>
<line x1="620.0" y1="392.9" x2="610.6" y2="377.8" stroke="#7a4e34" stroke-width="6.0" stroke-linecap="round"/><line x1="620.0" y1="392.9" x2="610.6" y2="377.8" stroke="#9a6a4c" stroke-width="4.1" stroke-linecap="round"/><line x1="620.0" y1="392.9" x2="610.6" y2="377.8" stroke="#b98a6a" stroke-width="1.8" stroke-linecap="round"/>
<line x1="610.6" y1="377.8" x2="668.8" y2="362.8" stroke="#7a4e34" stroke-width="6.0" stroke-linecap="round"/><line x1="610.6" y1="377.8" x2="668.8" y2="362.8" stroke="#9a6a4c" stroke-width="4.1" stroke-linecap="round"/><line x1="610.6" y1="377.8" x2="668.8" y2="362.8" stroke="#b98a6a" stroke-width="1.8" stroke-linecap="round"/>
<line x1="668.8" y1="362.8" x2="719.6" y2="370.3" stroke="#7a4e34" stroke-width="6.0" stroke-linecap="round"/><line x1="668.8" y1="362.8" x2="719.6" y2="370.3" stroke="#9a6a4c" stroke-width="4.1" stroke-linecap="round"/><line x1="668.8" y1="362.8" x2="719.6" y2="370.3" stroke="#b98a6a" stroke-width="1.8" stroke-linecap="round"/>
<line x1="591.8" y1="416.4" x2="650.0" y2="425.8" stroke="#7a4e34" stroke-width="6.0" stroke-linecap="round"/><line x1="591.8" y1="416.4" x2="650.0" y2="425.8" stroke="#9a6a4c" stroke-width="4.1" stroke-linecap="round"/><line x1="591.8" y1="416.4" x2="650.0" y2="425.8" stroke="#b98a6a" stroke-width="1.8" stroke-linecap="round"/>
<line x1="650.0" y1="425.8" x2="712.1" y2="417.3" stroke="#7a4e34" stroke-width="6.0" stroke-linecap="round"/><line x1="650.0" y1="425.8" x2="712.1" y2="417.3" stroke="#9a6a4c" stroke-width="4.1" stroke-linecap="round"/><line x1="650.0" y1="425.8" x2="712.1" y2="417.3" stroke="#b98a6a" stroke-width="1.8" stroke-linecap="round"/>
<line x1="712.1" y1="417.3" x2="729.0" y2="416.4" stroke="#7a4e34" stroke-width="6.0" stroke-linecap="round"/><line x1="712.1" y1="417.3" x2="729.0" y2="416.4" stroke="#9a6a4c" stroke-width="4.1" stroke-linecap="round"/><line x1="712.1" y1="417.3" x2="729.0" y2="416.4" stroke="#b98a6a" stroke-width="1.8" stroke-linecap="round"/>
<line x1="650.0" y1="425.8" x2="697.0" y2="433.3" stroke="#7a4e34" stroke-width="6.0" stroke-linecap="round"/><line x1="650.0" y1="425.8" x2="697.0" y2="433.3" stroke="#9a6a4c" stroke-width="4.1" stroke-linecap="round"/><line x1="650.0" y1="425.8" x2="697.0" y2="433.3" stroke="#b98a6a" stroke-width="1.8" stroke-linecap="round"/>
<line x1="697.0" y1="433.3" x2="729.0" y2="436.1" stroke="#7a4e34" stroke-width="6.0" stroke-linecap="round"/><line x1="697.0" y1="433.3" x2="729.0" y2="436.1" stroke="#9a6a4c" stroke-width="4.1" stroke-linecap="round"/><line x1="697.0" y1="433.3" x2="729.0" y2="436.1" stroke="#b98a6a" stroke-width="1.8" stroke-linecap="round"/>
<line x1="612.4" y1="411.7" x2="660.4" y2="412.6" stroke="#7a4e34" stroke-width="6.0" stroke-linecap="round"/><line x1="612.4" y1="411.7" x2="660.4" y2="412.6" stroke="#9a6a4c" stroke-width="4.1" stroke-linecap="round"/><line x1="612.4" y1="411.7" x2="660.4" y2="412.6" stroke="#b98a6a" stroke-width="1.8" stroke-linecap="round"/>
<line x1="591.8" y1="416.4" x2="556.0" y2="458.7" stroke="#7a4e34" stroke-width="6.0" stroke-linecap="round"/><line x1="591.8" y1="416.4" x2="556.0" y2="458.7" stroke="#9a6a4c" stroke-width="4.1" stroke-linecap="round"/><line x1="591.8" y1="416.4" x2="556.0" y2="458.7" stroke="#b98a6a" stroke-width="1.8" stroke-linecap="round"/>
<line x1="556.0" y1="458.7" x2="604.0" y2="455.9" stroke="#7a4e34" stroke-width="6.0" stroke-linecap="round"/><line x1="556.0" y1="458.7" x2="604.0" y2="455.9" stroke="#9a6a4c" stroke-width="4.1" stroke-linecap="round"/><line x1="556.0" y1="458.7" x2="604.0" y2="455.9" stroke="#b98a6a" stroke-width="1.8" stroke-linecap="round"/>
<line x1="604.0" y1="455.9" x2="659.4" y2="442.7" stroke="#7a4e34" stroke-width="6.0" stroke-linecap="round"/><line x1="604.0" y1="455.9" x2="659.4" y2="442.7" stroke="#9a6a4c" stroke-width="4.1" stroke-linecap="round"/><line x1="604.0" y1="455.9" x2="659.4" y2="442.7" stroke="#b98a6a" stroke-width="1.8" stroke-linecap="round"/>
<line x1="659.4" y1="442.7" x2="695.2" y2="474.7" stroke="#7a4e34" stroke-width="6.0" stroke-linecap="round"/><line x1="659.4" y1="442.7" x2="695.2" y2="474.7" stroke="#9a6a4c" stroke-width="4.1" stroke-linecap="round"/><line x1="659.4" y1="442.7" x2="695.2" y2="474.7" stroke="#b98a6a" stroke-width="1.8" stroke-linecap="round"/>
<line x1="695.2" y1="474.7" x2="729.0" y2="466.2" stroke="#7a4e34" stroke-width="6.0" stroke-linecap="round"/><line x1="695.2" y1="474.7" x2="729.0" y2="466.2" stroke="#9a6a4c" stroke-width="4.1" stroke-linecap="round"/><line x1="695.2" y1="474.7" x2="729.0" y2="466.2" stroke="#b98a6a" stroke-width="1.8" stroke-linecap="round"/>
<line x1="567.3" y1="449.3" x2="595.5" y2="468.1" stroke="#7a4e34" stroke-width="6.0" stroke-linecap="round"/><line x1="567.3" y1="449.3" x2="595.5" y2="468.1" stroke="#9a6a4c" stroke-width="4.1" stroke-linecap="round"/><line x1="567.3" y1="449.3" x2="595.5" y2="468.1" stroke="#b98a6a" stroke-width="1.8" stroke-linecap="round"/>
<line x1="659.4" y1="442.7" x2="650.0" y2="425.8" stroke="#7a4e34" stroke-width="6.0" stroke-linecap="round"/><line x1="659.4" y1="442.7" x2="650.0" y2="425.8" stroke="#9a6a4c" stroke-width="4.1" stroke-linecap="round"/><line x1="659.4" y1="442.7" x2="650.0" y2="425.8" stroke="#b98a6a" stroke-width="1.8" stroke-linecap="round"/>
<line x1="640.6" y1="400.4" x2="620.0" y2="392.9" stroke="#7a4e34" stroke-width="6.0" stroke-linecap="round"/><line x1="640.6" y1="400.4" x2="620.0" y2="392.9" stroke="#9a6a4c" stroke-width="4.1" stroke-linecap="round"/><line x1="640.6" y1="400.4" x2="620.0" y2="392.9" stroke="#b98a6a" stroke-width="1.8" stroke-linecap="round"/>
<line x1="640.6" y1="400.4" x2="650.0" y2="381.6" stroke="#7a4e34" stroke-width="6.0" stroke-linecap="round"/><line x1="640.6" y1="400.4" x2="650.0" y2="381.6" stroke="#9a6a4c" stroke-width="4.1" stroke-linecap="round"/><line x1="640.6" y1="400.4" x2="650.0" y2="381.6" stroke="#b98a6a" stroke-width="1.8" stroke-linecap="round"/>
<line x1="650.0" y1="381.6" x2="668.8" y2="362.8" stroke="#7a4e34" stroke-width="6.0" stroke-linecap="round"/><line x1="650.0" y1="381.6" x2="668.8" y2="362.8" stroke="#9a6a4c" stroke-width="4.1" stroke-linecap="round"/><line x1="650.0" y1="381.6" x2="668.8" y2="362.8" stroke="#b98a6a" stroke-width="1.8" stroke-linecap="round"/>
<line x1="599.3" y1="426.7" x2="612.4" y2="411.7" stroke="#7a4e34" stroke-width="6.0" stroke-linecap="round"/><line x1="599.3" y1="426.7" x2="612.4" y2="411.7" stroke="#9a6a4c" stroke-width="4.1" stroke-linecap="round"/><line x1="599.3" y1="426.7" x2="612.4" y2="411.7" stroke="#b98a6a" stroke-width="1.8" stroke-linecap="round"/>
<line x1="446.1" y1="447.4" x2="400.0" y2="430.5" stroke="#7a4e34" stroke-width="6.0" stroke-linecap="round"/><line x1="446.1" y1="447.4" x2="400.0" y2="430.5" stroke="#9a6a4c" stroke-width="4.1" stroke-linecap="round"/><line x1="446.1" y1="447.4" x2="400.0" y2="430.5" stroke="#b98a6a" stroke-width="1.8" stroke-linecap="round"/>
<line x1="607.7" y1="321.4" x2="612.0" y2="345.9" stroke="#28b810" stroke-width="5.6" stroke-linecap="round"/><line x1="607.7" y1="321.4" x2="612.0" y2="345.9" stroke="#48e028" stroke-width="3.8" stroke-linecap="round"/><line x1="607.7" y1="321.4" x2="612.0" y2="345.9" stroke="#90f870" stroke-width="1.7" stroke-linecap="round"/><line x1="612.0" y1="345.9" x2="616.2" y2="370.3" stroke="#7a4e34" stroke-width="5.6" stroke-linecap="round"/><line x1="612.0" y1="345.9" x2="616.2" y2="370.3" stroke="#9a6a4c" stroke-width="3.8" stroke-linecap="round"/><line x1="612.0" y1="345.9" x2="616.2" y2="370.3" stroke="#b98a6a" stroke-width="1.7" stroke-linecap="round"/>
<line x1="637.8" y1="370.3" x2="625.1" y2="382.5" stroke="#28b810" stroke-width="5.6" stroke-linecap="round"/><line x1="637.8" y1="370.3" x2="625.1" y2="382.5" stroke="#48e028" stroke-width="3.8" stroke-linecap="round"/><line x1="637.8" y1="370.3" x2="625.1" y2="382.5" stroke="#90f870" stroke-width="1.7" stroke-linecap="round"/><line x1="625.1" y1="382.5" x2="612.4" y2="394.8" stroke="#7a4e34" stroke-width="5.6" stroke-linecap="round"/><line x1="625.1" y1="382.5" x2="612.4" y2="394.8" stroke="#9a6a4c" stroke-width="3.8" stroke-linecap="round"/><line x1="625.1" y1="382.5" x2="612.4" y2="394.8" stroke="#b98a6a" stroke-width="1.7" stroke-linecap="round"/>
<line x1="680.1" y1="376.0" x2="670.2" y2="408.9" stroke="#28b810" stroke-width="5.6" stroke-linecap="round"/><line x1="680.1" y1="376.0" x2="670.2" y2="408.9" stroke="#48e028" stroke-width="3.8" stroke-linecap="round"/><line x1="680.1" y1="376.0" x2="670.2" y2="408.9" stroke="#90f870" stroke-width="1.7" stroke-linecap="round"/><line x1="670.2" y1="408.9" x2="660.4" y2="441.8" stroke="#7a4e34" stroke-width="5.6" stroke-linecap="round"/><line x1="670.2" y1="408.9" x2="660.4" y2="441.8" stroke="#9a6a4c" stroke-width="3.8" stroke-linecap="round"/><line x1="670.2" y1="408.9" x2="660.4" y2="441.8" stroke="#b98a6a" stroke-width="1.7" stroke-linecap="round"/>
<line x1="644.4" y1="493.5" x2="638.8" y2="462.0" stroke="#28b810" stroke-width="5.6" stroke-linecap="round"/><line x1="644.4" y1="493.5" x2="638.8" y2="462.0" stroke="#48e028" stroke-width="3.8" stroke-linecap="round"/><line x1="644.4" y1="493.5" x2="638.8" y2="462.0" stroke="#90f870" stroke-width="1.7" stroke-linecap="round"/><line x1="638.8" y1="462.0" x2="633.1" y2="430.5" stroke="#7a4e34" stroke-width="5.6" stroke-linecap="round"/><line x1="638.8" y1="462.0" x2="633.1" y2="430.5" stroke="#9a6a4c" stroke-width="3.8" stroke-linecap="round"/><line x1="638.8" y1="462.0" x2="633.1" y2="430.5" stroke="#b98a6a" stroke-width="1.7" stroke-linecap="round"/>
<line x1="536.3" y1="515.1" x2="546.2" y2="486.9" stroke="#28b810" stroke-width="5.6" stroke-linecap="round"/><line x1="536.3" y1="515.1" x2="546.2" y2="486.9" stroke="#48e028" stroke-width="3.8" stroke-linecap="round"/><line x1="536.3" y1="515.1" x2="546.2" y2="486.9" stroke="#90f870" stroke-width="1.7" stroke-linecap="round"/><line x1="546.2" y1="486.9" x2="556.0" y2="458.7" stroke="#7a4e34" stroke-width="5.6" stroke-linecap="round"/><line x1="546.2" y1="486.9" x2="556.0" y2="458.7" stroke="#9a6a4c" stroke-width="3.8" stroke-linecap="round"/><line x1="546.2" y1="486.9" x2="556.0" y2="458.7" stroke="#b98a6a" stroke-width="1.7" stroke-linecap="round"/>
<line x1="674.5" y1="543.3" x2="684.8" y2="509.0" stroke="#28b810" stroke-width="5.6" stroke-linecap="round"/><line x1="674.5" y1="543.3" x2="684.8" y2="509.0" stroke="#48e028" stroke-width="3.8" stroke-linecap="round"/><line x1="674.5" y1="543.3" x2="684.8" y2="509.0" stroke="#90f870" stroke-width="1.7" stroke-linecap="round"/><line x1="684.8" y1="509.0" x2="695.2" y2="474.7" stroke="#7a4e34" stroke-width="5.6" stroke-linecap="round"/><line x1="684.8" y1="509.0" x2="695.2" y2="474.7" stroke="#9a6a4c" stroke-width="3.8" stroke-linecap="round"/><line x1="684.8" y1="509.0" x2="695.2" y2="474.7" stroke="#b98a6a" stroke-width="1.7" stroke-linecap="round"/>
<line x1="522.2" y1="370.3" x2="588.0" y2="370.3" stroke="#b0b0a8" stroke-width="4.4" stroke-linecap="round"/><line x1="522.2" y1="370.3" x2="588.0" y2="370.3" stroke="#d8d8d0" stroke-width="3.0" stroke-linecap="round"/><line x1="522.2" y1="370.3" x2="588.0" y2="370.3" stroke="#f0f0ea" stroke-width="1.3" stroke-linecap="round"/>
<line x1="588.0" y1="370.3" x2="637.8" y2="370.3" stroke="#28b810" stroke-width="4.4" stroke-linecap="round"/><line x1="588.0" y1="370.3" x2="637.8" y2="370.3" stroke="#48e028" stroke-width="3.0" stroke-linecap="round"/><line x1="588.0" y1="370.3" x2="637.8" y2="370.3" stroke="#90f870" stroke-width="1.3" stroke-linecap="round"/>
<circle cx="668.8" cy="362.8" r="11.6" fill="url(#aC)"/>
<circle cx="708.3" cy="373.1" r="11.6" fill="url(#aC)"/>
<circle cx="610.6" cy="377.8" r="11.6" fill="url(#aC)"/>
<circle cx="650.0" cy="381.6" r="11.6" fill="url(#aC)"/>
<circle cx="620.0" cy="392.9" r="11.6" fill="url(#aC)"/>
<circle cx="640.6" cy="400.4" r="11.6" fill="url(#aC)"/>
<circle cx="591.8" cy="416.4" r="11.6" fill="url(#aC)"/>
<circle cx="612.4" cy="411.7" r="11.6" fill="url(#aC)"/>
<circle cx="650.0" cy="425.8" r="11.6" fill="url(#aC)"/>
<circle cx="660.4" cy="412.6" r="11.6" fill="url(#aC)"/>
<circle cx="712.1" cy="417.3" r="11.6" fill="url(#aC)"/>
<circle cx="697.0" cy="433.3" r="11.6" fill="url(#aC)"/>
<circle cx="599.3" cy="426.7" r="11.6" fill="url(#aC)"/>
<circle cx="659.4" cy="442.7" r="11.6" fill="url(#aC)"/>
<circle cx="556.0" cy="458.7" r="11.6" fill="url(#aC)"/>
<circle cx="567.3" cy="449.3" r="11.6" fill="url(#aC)"/>
<circle cx="604.0" cy="455.9" r="11.6" fill="url(#aC)"/>
<circle cx="595.5" cy="468.1" r="11.6" fill="url(#aC)"/>
<circle cx="695.2" cy="474.7" r="11.6" fill="url(#aC)"/>
<circle cx="494.0" cy="425.8" r="11.6" fill="url(#aC)"/>
<circle cx="446.1" cy="447.4" r="11.6" fill="url(#aC)"/>
<circle cx="719.6" cy="370.3" r="11.6" fill="url(#aC)"/>
<circle cx="719.6" cy="468.1" r="11.6" fill="url(#aC)"/>
<line x1="250.5" y1="462.0" x2="297.0" y2="457.0" stroke="#7a4e34" stroke-width="5.2" stroke-linecap="round"/><line x1="250.5" y1="462.0" x2="297.0" y2="457.0" stroke="#9a6a4c" stroke-width="3.5" stroke-linecap="round"/><line x1="250.5" y1="462.0" x2="297.0" y2="457.0" stroke="#b98a6a" stroke-width="1.6" stroke-linecap="round"/>
<line x1="297.0" y1="457.0" x2="398.0" y2="433.0" stroke="#7a4e34" stroke-width="5.2" stroke-linecap="round"/><line x1="297.0" y1="457.0" x2="398.0" y2="433.0" stroke="#9a6a4c" stroke-width="3.5" stroke-linecap="round"/><line x1="297.0" y1="457.0" x2="398.0" y2="433.0" stroke="#b98a6a" stroke-width="1.6" stroke-linecap="round"/>
<line x1="398.0" y1="433.0" x2="444.8" y2="445.7" stroke="#7a4e34" stroke-width="5.2" stroke-linecap="round"/><line x1="398.0" y1="433.0" x2="444.8" y2="445.7" stroke="#9a6a4c" stroke-width="3.5" stroke-linecap="round"/><line x1="398.0" y1="433.0" x2="444.8" y2="445.7" stroke="#b98a6a" stroke-width="1.6" stroke-linecap="round"/>
<line x1="444.8" y1="445.7" x2="494.0" y2="425.0" stroke="#7a4e34" stroke-width="5.2" stroke-linecap="round"/><line x1="444.8" y1="445.7" x2="494.0" y2="425.0" stroke="#9a6a4c" stroke-width="3.5" stroke-linecap="round"/><line x1="444.8" y1="445.7" x2="494.0" y2="425.0" stroke="#b98a6a" stroke-width="1.6" stroke-linecap="round"/>
<line x1="297.0" y1="457.0" x2="297.0" y2="395.0" stroke="#96968e" stroke-width="3.5" stroke-linecap="round"/><line x1="297.0" y1="457.0" x2="297.0" y2="395.0" stroke="#bcbcb4" stroke-width="2.4" stroke-linecap="round"/><line x1="297.0" y1="457.0" x2="297.0" y2="395.0" stroke="#e2e2da" stroke-width="1.1" stroke-linecap="round"/>
<circle cx="250.5" cy="462.0" r="12.0" fill="url(#aC)"/>
<circle cx="297.0" cy="457.0" r="12.0" fill="url(#aC)"/>
<circle cx="287.6" cy="472.4" r="12.0" fill="url(#aC)"/>
<circle cx="398.0" cy="433.0" r="12.0" fill="url(#aC)"/>
<circle cx="444.8" cy="445.7" r="12.0" fill="url(#aC)"/>
<filter id="gooA" x="-5%" y="-5%" width="110%" height="110%" color-interpolation-filters="sRGB"><feGaussianBlur stdDeviation="2.0" result="b"/><feColorMatrix in="b" mode="matrix" values="1 0 0 0 0  0 1 0 0 0  0 0 1 0 0  0 0 0 14 -5.5" result="g"/><feMorphology in="g" operator="erode" radius="1.1" result="e"/><feComposite in="g" in2="e" operator="out" result="rim"/><feColorMatrix in="rim" type="matrix" values="0.78 0 0 0 0  0 0.78 0 0 0  0 0 0.72 0 0  0 0 0 1 0" result="rimd"/><feGaussianBlur in="rimd" stdDeviation="0.5" result="rimb"/><feMerge><feMergeNode in="g"/><feMergeNode in="rimb"/></feMerge></filter>
<g filter="url(#gooA)" opacity="0.86"><ellipse cx="292.0" cy="392.0" rx="58.0" ry="42.0" fill="url(#bY)" stroke="#c8bc10" stroke-width="0.8" stroke-opacity="0.6" opacity="1"/><ellipse cx="335.0" cy="432.0" rx="112.0" ry="24.0" fill="url(#bY)" stroke="#c8bc10" stroke-width="0.8" stroke-opacity="0.6" opacity="1"/><ellipse cx="440.0" cy="442.0" rx="92.0" ry="24.0" fill="url(#bY)" stroke="#c8bc10" stroke-width="0.8" stroke-opacity="0.6" opacity="1"/><ellipse cx="254.0" cy="342.0" rx="24.0" ry="42.0" fill="url(#bY)" stroke="#c8bc10" stroke-width="0.8" stroke-opacity="0.6" opacity="1"/><ellipse cx="472.0" cy="372.0" rx="52.0" ry="40.0" fill="url(#bY)" stroke="#c8bc10" stroke-width="0.8" stroke-opacity="0.6" opacity="1"/><ellipse cx="505.0" cy="420.0" rx="46.0" ry="30.0" fill="url(#bY)" stroke="#c8bc10" stroke-width="0.8" stroke-opacity="0.6" opacity="1"/><ellipse cx="360.0" cy="400.0" rx="40.0" ry="30.0" fill="url(#bY)" stroke="#c8bc10" stroke-width="0.8" stroke-opacity="0.6" opacity="1"/></g>
<g filter="url(#gooA)" opacity="0.86"><ellipse cx="330.0" cy="352.0" rx="52.0" ry="36.0" fill="url(#bC)" stroke="#20b0bc" stroke-width="0.8" stroke-opacity="0.6" opacity="1"/><ellipse cx="402.0" cy="350.0" rx="46.0" ry="34.0" fill="url(#bC)" stroke="#20b0bc" stroke-width="0.8" stroke-opacity="0.6" opacity="1"/><ellipse cx="400.0" cy="410.0" rx="56.0" ry="34.0" fill="url(#bC)" stroke="#20b0bc" stroke-width="0.8" stroke-opacity="0.6" opacity="1"/><ellipse cx="482.0" cy="332.0" rx="40.0" ry="40.0" fill="url(#bC)" stroke="#20b0bc" stroke-width="0.8" stroke-opacity="0.6" opacity="1"/><ellipse cx="290.0" cy="442.0" rx="32.0" ry="18.0" fill="url(#bC)" stroke="#20b0bc" stroke-width="0.8" stroke-opacity="0.6" opacity="1"/><ellipse cx="445.0" cy="395.0" rx="40.0" ry="30.0" fill="url(#bC)" stroke="#20b0bc" stroke-width="0.8" stroke-opacity="0.6" opacity="1"/></g>
<g filter="url(#gooA)" opacity="0.86"><ellipse cx="343.8" cy="119.0" rx="10.5" ry="7.6" fill="url(#bY)" stroke="#c8bc10" stroke-width="0.8" stroke-opacity="0.6" opacity="1"/><ellipse cx="271.4" cy="139.1" rx="12.4" ry="9.5" fill="url(#bY)" stroke="#c8bc10" stroke-width="0.8" stroke-opacity="0.6" opacity="1"/><ellipse cx="159.1" cy="151.4" rx="5.7" ry="6.7" fill="url(#bY)" stroke="#c8bc10" stroke-width="0.8" stroke-opacity="0.6" opacity="1"/><ellipse cx="191.4" cy="156.2" rx="11.4" ry="9.5" fill="url(#bY)" stroke="#c8bc10" stroke-width="0.8" stroke-opacity="0.6" opacity="1"/><ellipse cx="201.0" cy="174.3" rx="7.6" ry="9.5" fill="url(#bY)" stroke="#c8bc10" stroke-width="0.8" stroke-opacity="0.6" opacity="1"/><ellipse cx="301.9" cy="160.0" rx="6.7" ry="8.0" fill="url(#bY)" stroke="#c8bc10" stroke-width="0.8" stroke-opacity="0.6" opacity="1"/><ellipse cx="404.8" cy="137.1" rx="8.6" ry="7.6" fill="url(#bY)" stroke="#c8bc10" stroke-width="0.8" stroke-opacity="0.6" opacity="1"/><ellipse cx="412.4" cy="151.4" rx="8.0" ry="7.6" fill="url(#bY)" stroke="#c8bc10" stroke-width="0.8" stroke-opacity="0.6" opacity="1"/><ellipse cx="416.2" cy="169.5" rx="7.2" ry="4.2" fill="url(#bY)" stroke="#c8bc10" stroke-width="0.8" stroke-opacity="0.6" opacity="1" transform="rotate(-25 416.2 169.5)"/><ellipse cx="427.7" cy="199.1" rx="15.2" ry="12.4" fill="url(#bY)" stroke="#c8bc10" stroke-width="0.8" stroke-opacity="0.6" opacity="1"/><ellipse cx="216.2" cy="203.8" rx="11.4" ry="9.5" fill="url(#bY)" stroke="#c8bc10" stroke-width="0.8" stroke-opacity="0.6" opacity="1"/><ellipse cx="393.4" cy="216.2" rx="8.6" ry="9.5" fill="url(#bY)" stroke="#c8bc10" stroke-width="0.8" stroke-opacity="0.6" opacity="1"/><ellipse cx="181.9" cy="231.4" rx="5.7" ry="6.7" fill="url(#bY)" stroke="#c8bc10" stroke-width="0.8" stroke-opacity="0.6" opacity="1"/><ellipse cx="233.3" cy="258.1" rx="10.5" ry="9.5" fill="url(#bY)" stroke="#c8bc10" stroke-width="0.8" stroke-opacity="0.6" opacity="1"/><ellipse cx="199.1" cy="269.5" rx="6.7" ry="9.5" fill="url(#bY)" stroke="#c8bc10" stroke-width="0.8" stroke-opacity="0.6" opacity="1"/><ellipse cx="250.5" cy="269.5" rx="18.1" ry="7.2" fill="url(#bY)" stroke="#c8bc10" stroke-width="0.8" stroke-opacity="0.6" opacity="1" transform="rotate(-28 250.5 269.5)"/><ellipse cx="315.3" cy="261.9" rx="19.1" ry="10.5" fill="url(#bY)" stroke="#c8bc10" stroke-width="0.8" stroke-opacity="0.6" opacity="1"/><ellipse cx="343.8" cy="254.3" rx="9.5" ry="7.6" fill="url(#bY)" stroke="#c8bc10" stroke-width="0.8" stroke-opacity="0.6" opacity="1"/><ellipse cx="311.5" cy="290.5" rx="10.5" ry="18.1" fill="url(#bY)" stroke="#c8bc10" stroke-width="0.8" stroke-opacity="0.6" opacity="1"/><ellipse cx="345.7" cy="281.0" rx="19.1" ry="6.7" fill="url(#bY)" stroke="#c8bc10" stroke-width="0.8" stroke-opacity="0.6" opacity="1" transform="rotate(-35 345.7 281.0)"/><ellipse cx="271.4" cy="305.7" rx="18.1" ry="16.2" fill="url(#bY)" stroke="#c8bc10" stroke-width="0.8" stroke-opacity="0.6" opacity="1"/><ellipse cx="380.0" cy="292.4" rx="7.6" ry="9.5" fill="url(#bY)" stroke="#c8bc10" stroke-width="0.8" stroke-opacity="0.6" opacity="1"/><ellipse cx="461.9" cy="319.1" rx="19.1" ry="17.1" fill="url(#bY)" stroke="#c8bc10" stroke-width="0.8" stroke-opacity="0.6" opacity="1"/><ellipse cx="479.1" cy="298.1" rx="18.1" ry="13.3" fill="url(#bY)" stroke="#c8bc10" stroke-width="0.8" stroke-opacity="0.6" opacity="1"/><ellipse cx="481.0" cy="263.8" rx="23.8" ry="13.3" fill="url(#bY)" stroke="#c8bc10" stroke-width="0.8" stroke-opacity="0.6" opacity="1"/><ellipse cx="450.5" cy="256.2" rx="11.4" ry="11.4" fill="url(#bY)" stroke="#c8bc10" stroke-width="0.8" stroke-opacity="0.6" opacity="1"/><ellipse cx="362.9" cy="199.1" rx="7.6" ry="5.7" fill="url(#bY)" stroke="#c8bc10" stroke-width="0.8" stroke-opacity="0.6" opacity="1"/><ellipse cx="282.9" cy="189.5" rx="9.5" ry="7.6" fill="url(#bY)" stroke="#c8bc10" stroke-width="0.8" stroke-opacity="0.6" opacity="1"/><ellipse cx="223.8" cy="292.4" rx="9.5" ry="11.4" fill="url(#bY)" stroke="#c8bc10" stroke-width="0.8" stroke-opacity="0.6" opacity="1"/></g>
<g filter="url(#gooA)" opacity="0.86"><ellipse cx="376.2" cy="142.9" rx="12.4" ry="13.7" fill="url(#bC)" stroke="#20b0bc" stroke-width="0.8" stroke-opacity="0.6" opacity="1" transform="rotate(20 376.2 142.9)"/><ellipse cx="317.2" cy="155.2" rx="7.6" ry="6.7" fill="url(#bC)" stroke="#20b0bc" stroke-width="0.8" stroke-opacity="0.6" opacity="1"/><ellipse cx="401.0" cy="159.1" rx="6.7" ry="6.7" fill="url(#bC)" stroke="#20b0bc" stroke-width="0.8" stroke-opacity="0.6" opacity="1"/><ellipse cx="437.2" cy="162.9" rx="7.6" ry="8.6" fill="url(#bC)" stroke="#20b0bc" stroke-width="0.8" stroke-opacity="0.6" opacity="1"/><ellipse cx="303.8" cy="200.0" rx="8.6" ry="9.1" fill="url(#bC)" stroke="#20b0bc" stroke-width="0.8" stroke-opacity="0.6" opacity="1"/><ellipse cx="395.3" cy="195.2" rx="5.7" ry="7.6" fill="url(#bC)" stroke="#20b0bc" stroke-width="0.8" stroke-opacity="0.6" opacity="1"/><ellipse cx="460.0" cy="226.7" rx="10.5" ry="9.5" fill="url(#bC)" stroke="#20b0bc" stroke-width="0.8" stroke-opacity="0.6" opacity="1"/><ellipse cx="423.9" cy="233.3" rx="7.6" ry="6.7" fill="url(#bC)" stroke="#20b0bc" stroke-width="0.8" stroke-opacity="0.6" opacity="1"/><ellipse cx="309.6" cy="244.8" rx="13.3" ry="11.4" fill="url(#bC)" stroke="#20b0bc" stroke-width="0.8" stroke-opacity="0.6" opacity="1"/><ellipse cx="353.4" cy="241.0" rx="9.5" ry="7.6" fill="url(#bC)" stroke="#20b0bc" stroke-width="0.8" stroke-opacity="0.6" opacity="1"/><ellipse cx="362.9" cy="248.6" rx="7.6" ry="7.6" fill="url(#bC)" stroke="#20b0bc" stroke-width="0.8" stroke-opacity="0.6" opacity="1"/><ellipse cx="199.1" cy="254.3" rx="7.6" ry="8.6" fill="url(#bC)" stroke="#20b0bc" stroke-width="0.8" stroke-opacity="0.6" opacity="1"/><ellipse cx="218.1" cy="265.7" rx="5.7" ry="5.3" fill="url(#bC)" stroke="#20b0bc" stroke-width="0.8" stroke-opacity="0.6" opacity="1"/><ellipse cx="225.7" cy="275.3" rx="6.7" ry="6.7" fill="url(#bC)" stroke="#20b0bc" stroke-width="0.8" stroke-opacity="0.6" opacity="1"/><ellipse cx="258.1" cy="252.4" rx="4.8" ry="4.8" fill="url(#bC)" stroke="#20b0bc" stroke-width="0.8" stroke-opacity="0.6" opacity="1"/><ellipse cx="334.3" cy="275.3" rx="6.7" ry="5.7" fill="url(#bC)" stroke="#20b0bc" stroke-width="0.8" stroke-opacity="0.6" opacity="1"/><ellipse cx="384.8" cy="275.3" rx="6.7" ry="4.8" fill="url(#bC)" stroke="#20b0bc" stroke-width="0.8" stroke-opacity="0.6" opacity="1"/><ellipse cx="357.2" cy="300.0" rx="8.6" ry="10.5" fill="url(#bC)" stroke="#20b0bc" stroke-width="0.8" stroke-opacity="0.6" opacity="1"/><ellipse cx="277.2" cy="271.4" rx="5.7" ry="4.8" fill="url(#bC)" stroke="#20b0bc" stroke-width="0.8" stroke-opacity="0.6" opacity="1"/><ellipse cx="473.4" cy="248.6" rx="8.6" ry="7.6" fill="url(#bC)" stroke="#20b0bc" stroke-width="0.8" stroke-opacity="0.6" opacity="1"/><ellipse cx="448.6" cy="271.4" rx="17.1" ry="13.3" fill="url(#bC)" stroke="#20b0bc" stroke-width="0.8" stroke-opacity="0.6" opacity="1"/><ellipse cx="479.1" cy="286.7" rx="19.1" ry="21.0" fill="url(#bC)" stroke="#20b0bc" stroke-width="0.8" stroke-opacity="0.6" opacity="1"/><ellipse cx="241.0" cy="315.3" rx="17.1" ry="19.1" fill="url(#bC)" stroke="#20b0bc" stroke-width="0.8" stroke-opacity="0.6" opacity="1"/><ellipse cx="345.7" cy="324.8" rx="24.8" ry="18.1" fill="url(#bC)" stroke="#20b0bc" stroke-width="0.8" stroke-opacity="0.6" opacity="1"/><ellipse cx="393.4" cy="319.1" rx="22.9" ry="15.2" fill="url(#bC)" stroke="#20b0bc" stroke-width="0.8" stroke-opacity="0.6" opacity="1"/></g>
<g filter="url(#gooA)" opacity="0.86"><ellipse cx="225.7" cy="338.1" rx="11.4" ry="19.1" fill="url(#bY)" stroke="#c8bc10" stroke-width="0.8" stroke-opacity="0.6" opacity="1"/><ellipse cx="248.6" cy="357.1" rx="16.2" ry="21.0" fill="url(#bY)" stroke="#c8bc10" stroke-width="0.8" stroke-opacity="0.6" opacity="1"/><ellipse cx="271.4" cy="322.9" rx="17.1" ry="13.3" fill="url(#bY)" stroke="#c8bc10" stroke-width="0.8" stroke-opacity="0.6" opacity="1"/><ellipse cx="309.6" cy="418.1" rx="64.8" ry="16.2" fill="url(#bY)" stroke="#c8bc10" stroke-width="0.8" stroke-opacity="0.6" opacity="1" transform="rotate(8 309.6 418.1)"/><ellipse cx="374.3" cy="429.5" rx="24.8" ry="16.2" fill="url(#bY)" stroke="#c8bc10" stroke-width="0.8" stroke-opacity="0.6" opacity="1" transform="rotate(15 374.3 429.5)"/><ellipse cx="412.4" cy="381.9" rx="33.3" ry="14.3" fill="url(#bY)" stroke="#c8bc10" stroke-width="0.8" stroke-opacity="0.6" opacity="1" transform="rotate(-5 412.4 381.9)"/><ellipse cx="397.2" cy="402.9" rx="17.1" ry="13.3" fill="url(#bY)" stroke="#c8bc10" stroke-width="0.8" stroke-opacity="0.6" opacity="1"/><ellipse cx="324.8" cy="460.0" rx="25.7" ry="15.2" fill="url(#bY)" stroke="#c8bc10" stroke-width="0.8" stroke-opacity="0.6" opacity="1"/><ellipse cx="425.8" cy="458.1" rx="22.9" ry="21.0" fill="url(#bY)" stroke="#c8bc10" stroke-width="0.8" stroke-opacity="0.6" opacity="1"/><ellipse cx="471.5" cy="441.9" rx="32.4" ry="8.6" fill="url(#bY)" stroke="#c8bc10" stroke-width="0.8" stroke-opacity="0.6" opacity="1" transform="rotate(-10 471.5 441.9)"/><ellipse cx="239.1" cy="410.5" rx="15.2" ry="19.1" fill="url(#bY)" stroke="#c8bc10" stroke-width="0.8" stroke-opacity="0.6" opacity="1"/><ellipse cx="265.7" cy="467.6" rx="5.7" ry="5.7" fill="url(#bY)" stroke="#c8bc10" stroke-width="0.8" stroke-opacity="0.6" opacity="1"/><ellipse cx="486.7" cy="391.4" rx="13.3" ry="17.1" fill="url(#bY)" stroke="#c8bc10" stroke-width="0.8" stroke-opacity="0.6" opacity="1"/><ellipse cx="414.3" cy="418.1" rx="17.1" ry="15.2" fill="url(#bY)" stroke="#c8bc10" stroke-width="0.8" stroke-opacity="0.6" opacity="1"/><ellipse cx="347.6" cy="357.1" rx="22.9" ry="11.4" fill="url(#bY)" stroke="#c8bc10" stroke-width="0.8" stroke-opacity="0.6" opacity="1"/><ellipse cx="353.4" cy="414.3" rx="19.1" ry="15.2" fill="url(#bY)" stroke="#c8bc10" stroke-width="0.8" stroke-opacity="0.6" opacity="1"/></g>
<g filter="url(#gooA)" opacity="0.86"><ellipse cx="290.5" cy="336.2" rx="32.4" ry="23.8" fill="url(#bC)" stroke="#20b0bc" stroke-width="0.8" stroke-opacity="0.6" opacity="1"/><ellipse cx="412.4" cy="353.3" rx="33.3" ry="22.9" fill="url(#bC)" stroke="#20b0bc" stroke-width="0.8" stroke-opacity="0.6" opacity="1"/><ellipse cx="484.8" cy="362.9" rx="19.1" ry="24.8" fill="url(#bC)" stroke="#20b0bc" stroke-width="0.8" stroke-opacity="0.6" opacity="1"/><ellipse cx="347.6" cy="328.6" rx="19.1" ry="15.2" fill="url(#bC)" stroke="#20b0bc" stroke-width="0.8" stroke-opacity="0.6" opacity="1"/><ellipse cx="389.6" cy="322.9" rx="19.1" ry="15.2" fill="url(#bC)" stroke="#20b0bc" stroke-width="0.8" stroke-opacity="0.6" opacity="1"/><ellipse cx="300.0" cy="389.5" rx="24.8" ry="15.2" fill="url(#bC)" stroke="#20b0bc" stroke-width="0.8" stroke-opacity="0.6" opacity="1"/><ellipse cx="366.7" cy="399.1" rx="22.9" ry="21.0" fill="url(#bC)" stroke="#20b0bc" stroke-width="0.8" stroke-opacity="0.6" opacity="1"/><ellipse cx="452.4" cy="406.7" rx="32.4" ry="24.8" fill="url(#bC)" stroke="#20b0bc" stroke-width="0.8" stroke-opacity="0.6" opacity="1"/><ellipse cx="376.2" cy="458.1" rx="25.7" ry="25.7" fill="url(#bC)" stroke="#20b0bc" stroke-width="0.8" stroke-opacity="0.6" opacity="1"/><ellipse cx="313.4" cy="437.2" rx="28.6" ry="11.4" fill="url(#bC)" stroke="#20b0bc" stroke-width="0.8" stroke-opacity="0.6" opacity="1" transform="rotate(-10 313.4 437.2)"/><ellipse cx="261.9" cy="437.2" rx="15.2" ry="11.4" fill="url(#bC)" stroke="#20b0bc" stroke-width="0.8" stroke-opacity="0.6" opacity="1"/><ellipse cx="271.4" cy="452.4" rx="21.0" ry="7.2" fill="url(#bC)" stroke="#20b0bc" stroke-width="0.8" stroke-opacity="0.6" opacity="1" transform="rotate(-10 271.4 452.4)"/><ellipse cx="467.7" cy="463.8" rx="19.1" ry="8.0" fill="url(#bC)" stroke="#20b0bc" stroke-width="0.8" stroke-opacity="0.6" opacity="1" transform="rotate(15 467.7 463.8)"/><ellipse cx="246.7" cy="477.2" rx="6.7" ry="4.8" fill="url(#bC)" stroke="#20b0bc" stroke-width="0.8" stroke-opacity="0.6" opacity="1"/><ellipse cx="252.4" cy="351.4" rx="8.6" ry="10.5" fill="url(#bC)" stroke="#20b0bc" stroke-width="0.8" stroke-opacity="0.6" opacity="1"/><ellipse cx="378.1" cy="338.1" rx="7.6" ry="9.5" fill="url(#bC)" stroke="#20b0bc" stroke-width="0.8" stroke-opacity="0.6" opacity="1"/></g>
<g filter="url(#gooA)" opacity="0.86"><ellipse cx="290.5" cy="363.8" rx="28.6" ry="18.1" fill="url(#bY)" stroke="#c8bc10" stroke-width="0.8" stroke-opacity="0.6" opacity="1" transform="rotate(-8 290.5 363.8)"/><ellipse cx="412.4" cy="382.9" rx="32.4" ry="13.3" fill="url(#bY)" stroke="#c8bc10" stroke-width="0.8" stroke-opacity="0.6" opacity="1" transform="rotate(-5 412.4 382.9)"/><ellipse cx="473.3" cy="266.9" rx="22.6" ry="16.9" fill="url(#bY)" stroke="#c8bc10" stroke-width="0.8" stroke-opacity="0.6" opacity="1"/><ellipse cx="471.4" cy="304.5" rx="28.2" ry="23.5" fill="url(#bY)" stroke="#c8bc10" stroke-width="0.8" stroke-opacity="0.6" opacity="1" transform="rotate(-20 471.4 304.5)"/><ellipse cx="539.1" cy="329.0" rx="15.0" ry="13.2" fill="url(#bY)" stroke="#c8bc10" stroke-width="0.8" stroke-opacity="0.6" opacity="1"/><ellipse cx="422.6" cy="381.6" rx="26.3" ry="16.9" fill="url(#bY)" stroke="#c8bc10" stroke-width="0.8" stroke-opacity="0.6" opacity="1"/><ellipse cx="556.0" cy="374.1" rx="26.3" ry="24.4" fill="url(#bY)" stroke="#c8bc10" stroke-width="0.8" stroke-opacity="0.6" opacity="1"/><ellipse cx="512.8" cy="385.4" rx="24.4" ry="24.4" fill="url(#bY)" stroke="#c8bc10" stroke-width="0.8" stroke-opacity="0.6" opacity="1"/><ellipse cx="535.4" cy="419.2" rx="32.0" ry="25.4" fill="url(#bY)" stroke="#c8bc10" stroke-width="0.8" stroke-opacity="0.6" opacity="1"/><ellipse cx="422.6" cy="456.8" rx="24.4" ry="24.4" fill="url(#bY)" stroke="#c8bc10" stroke-width="0.8" stroke-opacity="0.6" opacity="1"/><ellipse cx="411.3" cy="404.2" rx="16.9" ry="16.9" fill="url(#bY)" stroke="#c8bc10" stroke-width="0.8" stroke-opacity="0.6" opacity="1"/><ellipse cx="482.7" cy="441.8" rx="41.4" ry="9.0" fill="url(#bY)" stroke="#c8bc10" stroke-width="0.8" stroke-opacity="0.6" opacity="1" transform="rotate(-5 482.7 441.8)"/><ellipse cx="550.4" cy="441.8" rx="7.5" ry="7.5" fill="url(#bY)" stroke="#c8bc10" stroke-width="0.8" stroke-opacity="0.6" opacity="1"/><ellipse cx="574.8" cy="460.6" rx="9.4" ry="13.2" fill="url(#bY)" stroke="#c8bc10" stroke-width="0.8" stroke-opacity="0.6" opacity="1"/><ellipse cx="589.9" cy="430.5" rx="4.1" ry="7.5" fill="url(#bY)" stroke="#c8bc10" stroke-width="0.8" stroke-opacity="0.6" opacity="1"/><ellipse cx="447.0" cy="340.2" rx="11.3" ry="9.4" fill="url(#bY)" stroke="#c8bc10" stroke-width="0.8" stroke-opacity="0.6" opacity="1"/></g>
<g filter="url(#gooA)" opacity="0.86"><ellipse cx="439.5" cy="274.4" rx="11.3" ry="11.3" fill="url(#bC)" stroke="#20b0bc" stroke-width="0.8" stroke-opacity="0.6" opacity="1"/><ellipse cx="482.7" cy="283.8" rx="20.7" ry="11.3" fill="url(#bC)" stroke="#20b0bc" stroke-width="0.8" stroke-opacity="0.6" opacity="1" transform="rotate(15 482.7 283.8)"/><ellipse cx="512.8" cy="302.6" rx="18.8" ry="19.7" fill="url(#bC)" stroke="#20b0bc" stroke-width="0.8" stroke-opacity="0.6" opacity="1"/><ellipse cx="418.8" cy="351.5" rx="25.4" ry="18.8" fill="url(#bC)" stroke="#20b0bc" stroke-width="0.8" stroke-opacity="0.6" opacity="1"/><ellipse cx="497.8" cy="349.6" rx="32.0" ry="23.5" fill="url(#bC)" stroke="#20b0bc" stroke-width="0.8" stroke-opacity="0.6" opacity="1"/><ellipse cx="465.8" cy="396.6" rx="24.4" ry="18.8" fill="url(#bC)" stroke="#20b0bc" stroke-width="0.8" stroke-opacity="0.6" opacity="1"/><ellipse cx="447.0" cy="372.2" rx="13.2" ry="11.3" fill="url(#bC)" stroke="#20b0bc" stroke-width="0.8" stroke-opacity="0.6" opacity="1"/><ellipse cx="524.1" cy="400.4" rx="15.0" ry="11.3" fill="url(#bC)" stroke="#20b0bc" stroke-width="0.8" stroke-opacity="0.6" opacity="1"/><ellipse cx="574.8" cy="419.2" rx="11.3" ry="9.4" fill="url(#bC)" stroke="#20b0bc" stroke-width="0.8" stroke-opacity="0.6" opacity="1" transform="rotate(-30 574.8 419.2)"/><ellipse cx="588.0" cy="398.5" rx="7.5" ry="5.6" fill="url(#bC)" stroke="#20b0bc" stroke-width="0.8" stroke-opacity="0.6" opacity="1"/><ellipse cx="465.8" cy="458.7" rx="18.8" ry="7.9" fill="url(#bC)" stroke="#20b0bc" stroke-width="0.8" stroke-opacity="0.6" opacity="1" transform="rotate(20 465.8 458.7)"/><ellipse cx="400.0" cy="456.8" rx="5.6" ry="15.0" fill="url(#bC)" stroke="#20b0bc" stroke-width="0.8" stroke-opacity="0.6" opacity="1"/><ellipse cx="535.4" cy="355.3" rx="11.3" ry="7.5" fill="url(#bC)" stroke="#20b0bc" stroke-width="0.8" stroke-opacity="0.6" opacity="1"/></g>
<g filter="url(#gooA)" opacity="0.86"><ellipse cx="520.3" cy="372.2" rx="15.0" ry="20.7" fill="url(#bY)" stroke="#c8bc10" stroke-width="0.8" stroke-opacity="0.6" opacity="1" transform="rotate(10 520.3 372.2)"/><ellipse cx="556.0" cy="372.2" rx="22.6" ry="22.6" fill="url(#bY)" stroke="#c8bc10" stroke-width="0.8" stroke-opacity="0.6" opacity="1"/></g>
<circle cx="591.8" cy="416.4" r="11.6" fill="url(#aC)"/>
<circle cx="612.4" cy="411.7" r="11.6" fill="url(#aC)"/>
<circle cx="599.3" cy="426.7" r="11.6" fill="url(#aC)"/>
<circle cx="556.0" cy="458.7" r="11.6" fill="url(#aC)"/>
<circle cx="567.3" cy="449.3" r="11.6" fill="url(#aC)"/>
<circle cx="604.0" cy="455.9" r="11.6" fill="url(#aC)"/>
<circle cx="595.5" cy="468.1" r="11.6" fill="url(#aC)"/>
<circle cx="607.7" cy="321.4" r="16.0" fill="url(#aCl)"/>
<circle cx="637.8" cy="370.3" r="16.0" fill="url(#aCl)"/>
<circle cx="680.1" cy="376.0" r="16.0" fill="url(#aCl)"/>
<circle cx="644.4" cy="493.5" r="16.0" fill="url(#aCl)"/>
<circle cx="536.3" cy="515.1" r="16.0" fill="url(#aCl)"/>
<circle cx="674.5" cy="543.3" r="16.0" fill="url(#aCl)"/>
</g></g>
<g id="molB">
<clipPath id="cpB"><rect x="943.5" y="100" width="602.5" height="432.5"/></clipPath>
<clipPath id="cpB2"><rect x="943.5" y="100" width="602.5" height="480"/></clipPath>
<filter id="goo" x="-5%" y="-5%" width="110%" height="110%" color-interpolation-filters="sRGB"><feGaussianBlur stdDeviation="2.0" result="b"/><feColorMatrix in="b" mode="matrix" values="1 0 0 0 0  0 1 0 0 0  0 0 1 0 0  0 0 0 14 -5.5" result="g"/><feMorphology in="g" operator="erode" radius="1.1" result="e"/><feComposite in="g" in2="e" operator="out" result="rim"/><feColorMatrix in="rim" type="matrix" values="0.78 0 0 0 0  0 0.78 0 0 0  0 0 0.72 0 0  0 0 0 1 0" result="rimd"/><feGaussianBlur in="rimd" stdDeviation="0.5" result="rimb"/><feMerge><feMergeNode in="g"/><feMergeNode in="rimb"/></feMerge></filter>
<g clip-path="url(#cpB2)">
<line x1="1053.3" y1="496.2" x2="1063.9" y2="480.4" stroke="#28b810" stroke-width="4.4" stroke-linecap="round"/><line x1="1053.3" y1="496.2" x2="1063.9" y2="480.4" stroke="#48e028" stroke-width="3.0" stroke-linecap="round"/><line x1="1053.3" y1="496.2" x2="1063.9" y2="480.4" stroke="#90f870" stroke-width="1.3" stroke-linecap="round"/><line x1="1063.9" y1="480.4" x2="1074.4" y2="464.7" stroke="#7a4e34" stroke-width="4.4" stroke-linecap="round"/><line x1="1063.9" y1="480.4" x2="1074.4" y2="464.7" stroke="#9a6a4c" stroke-width="3.0" stroke-linecap="round"/><line x1="1063.9" y1="480.4" x2="1074.4" y2="464.7" stroke="#b98a6a" stroke-width="1.3" stroke-linecap="round"/><line x1="1120.5" y1="548.0" x2="1133.1" y2="521.7" stroke="#28b810" stroke-width="4.4" stroke-linecap="round"/><line x1="1120.5" y1="548.0" x2="1133.1" y2="521.7" stroke="#48e028" stroke-width="3.0" stroke-linecap="round"/><line x1="1120.5" y1="548.0" x2="1133.1" y2="521.7" stroke="#90f870" stroke-width="1.3" stroke-linecap="round"/><line x1="1133.1" y1="521.7" x2="1145.6" y2="495.4" stroke="#7a4e34" stroke-width="4.4" stroke-linecap="round"/><line x1="1133.1" y1="521.7" x2="1145.6" y2="495.4" stroke="#9a6a4c" stroke-width="3.0" stroke-linecap="round"/><line x1="1133.1" y1="521.7" x2="1145.6" y2="495.4" stroke="#b98a6a" stroke-width="1.3" stroke-linecap="round"/><line x1="1173.1" y1="412.0" x2="1161.0" y2="437.5" stroke="#28b810" stroke-width="4.4" stroke-linecap="round"/><line x1="1173.1" y1="412.0" x2="1161.0" y2="437.5" stroke="#48e028" stroke-width="3.0" stroke-linecap="round"/><line x1="1173.1" y1="412.0" x2="1161.0" y2="437.5" stroke="#90f870" stroke-width="1.3" stroke-linecap="round"/><line x1="1161.0" y1="437.5" x2="1148.9" y2="463.0" stroke="#7a4e34" stroke-width="4.4" stroke-linecap="round"/><line x1="1161.0" y1="437.5" x2="1148.9" y2="463.0" stroke="#9a6a4c" stroke-width="3.0" stroke-linecap="round"/><line x1="1161.0" y1="437.5" x2="1148.9" y2="463.0" stroke="#b98a6a" stroke-width="1.3" stroke-linecap="round"/><line x1="1273.5" y1="424.2" x2="1268.7" y2="451.3" stroke="#28b810" stroke-width="4.4" stroke-linecap="round"/><line x1="1273.5" y1="424.2" x2="1268.7" y2="451.3" stroke="#48e028" stroke-width="3.0" stroke-linecap="round"/><line x1="1273.5" y1="424.2" x2="1268.7" y2="451.3" stroke="#90f870" stroke-width="1.3" stroke-linecap="round"/><line x1="1268.7" y1="451.3" x2="1263.8" y2="478.4" stroke="#7a4e34" stroke-width="4.4" stroke-linecap="round"/><line x1="1268.7" y1="451.3" x2="1263.8" y2="478.4" stroke="#9a6a4c" stroke-width="3.0" stroke-linecap="round"/><line x1="1268.7" y1="451.3" x2="1263.8" y2="478.4" stroke="#b98a6a" stroke-width="1.3" stroke-linecap="round"/><line x1="1273.2" y1="556.9" x2="1280.5" y2="528.6" stroke="#28b810" stroke-width="4.4" stroke-linecap="round"/><line x1="1273.2" y1="556.9" x2="1280.5" y2="528.6" stroke="#48e028" stroke-width="3.0" stroke-linecap="round"/><line x1="1273.2" y1="556.9" x2="1280.5" y2="528.6" stroke="#90f870" stroke-width="1.3" stroke-linecap="round"/><line x1="1280.5" y1="528.6" x2="1287.8" y2="500.3" stroke="#7a4e34" stroke-width="4.4" stroke-linecap="round"/><line x1="1280.5" y1="528.6" x2="1287.8" y2="500.3" stroke="#9a6a4c" stroke-width="3.0" stroke-linecap="round"/><line x1="1280.5" y1="528.6" x2="1287.8" y2="500.3" stroke="#b98a6a" stroke-width="1.3" stroke-linecap="round"/><line x1="1279.7" y1="423.4" x2="1272.0" y2="450.9" stroke="#28b810" stroke-width="4.4" stroke-linecap="round"/><line x1="1279.7" y1="423.4" x2="1272.0" y2="450.9" stroke="#48e028" stroke-width="3.0" stroke-linecap="round"/><line x1="1279.7" y1="423.4" x2="1272.0" y2="450.9" stroke="#90f870" stroke-width="1.3" stroke-linecap="round"/><line x1="1272.0" y1="450.9" x2="1264.3" y2="478.4" stroke="#7a4e34" stroke-width="4.4" stroke-linecap="round"/><line x1="1272.0" y1="450.9" x2="1264.3" y2="478.4" stroke="#9a6a4c" stroke-width="3.0" stroke-linecap="round"/><line x1="1272.0" y1="450.9" x2="1264.3" y2="478.4" stroke="#b98a6a" stroke-width="1.3" stroke-linecap="round"/>
<g clip-path="url(#cpB)"><line x1="1117.7" y1="153.0" x2="1175.8" y2="166.6" stroke="#96968e" stroke-width="5.2" stroke-linecap="round"/><line x1="1117.7" y1="153.0" x2="1175.8" y2="166.6" stroke="#bcbcb4" stroke-width="3.5" stroke-linecap="round"/><line x1="1117.7" y1="153.0" x2="1175.8" y2="166.6" stroke="#e2e2da" stroke-width="1.6" stroke-linecap="round"/><line x1="1117.7" y1="153.0" x2="1078.4" y2="199.9" stroke="#96968e" stroke-width="5.2" stroke-linecap="round"/><line x1="1117.7" y1="153.0" x2="1078.4" y2="199.9" stroke="#bcbcb4" stroke-width="3.5" stroke-linecap="round"/><line x1="1117.7" y1="153.0" x2="1078.4" y2="199.9" stroke="#e2e2da" stroke-width="1.6" stroke-linecap="round"/><line x1="1117.7" y1="153.0" x2="1080.1" y2="264.0" stroke="#96968e" stroke-width="5.2" stroke-linecap="round"/><line x1="1117.7" y1="153.0" x2="1080.1" y2="264.0" stroke="#bcbcb4" stroke-width="3.5" stroke-linecap="round"/><line x1="1117.7" y1="153.0" x2="1080.1" y2="264.0" stroke="#e2e2da" stroke-width="1.6" stroke-linecap="round"/><line x1="1117.7" y1="153.0" x2="1150.1" y2="258.9" stroke="#96968e" stroke-width="5.2" stroke-linecap="round"/><line x1="1117.7" y1="153.0" x2="1150.1" y2="258.9" stroke="#bcbcb4" stroke-width="3.5" stroke-linecap="round"/><line x1="1117.7" y1="153.0" x2="1150.1" y2="258.9" stroke="#e2e2da" stroke-width="1.6" stroke-linecap="round"/><line x1="1175.8" y1="166.6" x2="1078.4" y2="199.9" stroke="#96968e" stroke-width="5.2" stroke-linecap="round"/><line x1="1175.8" y1="166.6" x2="1078.4" y2="199.9" stroke="#bcbcb4" stroke-width="3.5" stroke-linecap="round"/><line x1="1175.8" y1="166.6" x2="1078.4" y2="199.9" stroke="#e2e2da" stroke-width="1.6" stroke-linecap="round"/><line x1="1175.8" y1="166.6" x2="1150.1" y2="258.9" stroke="#96968e" stroke-width="5.2" stroke-linecap="round"/><line x1="1175.8" y1="166.6" x2="1150.1" y2="258.9" stroke="#bcbcb4" stroke-width="3.5" stroke-linecap="round"/><line x1="1175.8" y1="166.6" x2="1150.1" y2="258.9" stroke="#e2e2da" stroke-width="1.6" stroke-linecap="round"/><line x1="996.4" y1="227.3" x2="1078.4" y2="199.9" stroke="#96968e" stroke-width="5.2" stroke-linecap="round"/><line x1="996.4" y1="227.3" x2="1078.4" y2="199.9" stroke="#bcbcb4" stroke-width="3.5" stroke-linecap="round"/><line x1="996.4" y1="227.3" x2="1078.4" y2="199.9" stroke="#e2e2da" stroke-width="1.6" stroke-linecap="round"/><line x1="996.4" y1="227.3" x2="1080.1" y2="264.0" stroke="#96968e" stroke-width="5.2" stroke-linecap="round"/><line x1="996.4" y1="227.3" x2="1080.1" y2="264.0" stroke="#bcbcb4" stroke-width="3.5" stroke-linecap="round"/><line x1="996.4" y1="227.3" x2="1080.1" y2="264.0" stroke="#e2e2da" stroke-width="1.6" stroke-linecap="round"/><line x1="996.4" y1="227.3" x2="1022.0" y2="284.5" stroke="#96968e" stroke-width="5.2" stroke-linecap="round"/><line x1="996.4" y1="227.3" x2="1022.0" y2="284.5" stroke="#bcbcb4" stroke-width="3.5" stroke-linecap="round"/><line x1="996.4" y1="227.3" x2="1022.0" y2="284.5" stroke="#e2e2da" stroke-width="1.6" stroke-linecap="round"/><line x1="996.4" y1="227.3" x2="1059.6" y2="293.1" stroke="#96968e" stroke-width="5.2" stroke-linecap="round"/><line x1="996.4" y1="227.3" x2="1059.6" y2="293.1" stroke="#bcbcb4" stroke-width="3.5" stroke-linecap="round"/><line x1="996.4" y1="227.3" x2="1059.6" y2="293.1" stroke="#e2e2da" stroke-width="1.6" stroke-linecap="round"/><line x1="996.4" y1="227.3" x2="972.5" y2="318.7" stroke="#96968e" stroke-width="5.2" stroke-linecap="round"/><line x1="996.4" y1="227.3" x2="972.5" y2="318.7" stroke="#bcbcb4" stroke-width="3.5" stroke-linecap="round"/><line x1="996.4" y1="227.3" x2="972.5" y2="318.7" stroke="#e2e2da" stroke-width="1.6" stroke-linecap="round"/><line x1="1078.4" y1="199.9" x2="1080.1" y2="264.0" stroke="#96968e" stroke-width="5.2" stroke-linecap="round"/><line x1="1078.4" y1="199.9" x2="1080.1" y2="264.0" stroke="#bcbcb4" stroke-width="3.5" stroke-linecap="round"/><line x1="1078.4" y1="199.9" x2="1080.1" y2="264.0" stroke="#e2e2da" stroke-width="1.6" stroke-linecap="round"/><line x1="1078.4" y1="199.9" x2="1022.0" y2="284.5" stroke="#96968e" stroke-width="5.2" stroke-linecap="round"/><line x1="1078.4" y1="199.9" x2="1022.0" y2="284.5" stroke="#bcbcb4" stroke-width="3.5" stroke-linecap="round"/><line x1="1078.4" y1="199.9" x2="1022.0" y2="284.5" stroke="#e2e2da" stroke-width="1.6" stroke-linecap="round"/><line x1="1078.4" y1="199.9" x2="1059.6" y2="293.1" stroke="#96968e" stroke-width="5.2" stroke-linecap="round"/><line x1="1078.4" y1="199.9" x2="1059.6" y2="293.1" stroke="#bcbcb4" stroke-width="3.5" stroke-linecap="round"/><line x1="1078.4" y1="199.9" x2="1059.6" y2="293.1" stroke="#e2e2da" stroke-width="1.6" stroke-linecap="round"/><line x1="1078.4" y1="199.9" x2="1150.1" y2="258.9" stroke="#96968e" stroke-width="5.2" stroke-linecap="round"/><line x1="1078.4" y1="199.9" x2="1150.1" y2="258.9" stroke="#bcbcb4" stroke-width="3.5" stroke-linecap="round"/><line x1="1078.4" y1="199.9" x2="1150.1" y2="258.9" stroke="#e2e2da" stroke-width="1.6" stroke-linecap="round"/><line x1="1080.1" y1="264.0" x2="1022.0" y2="284.5" stroke="#96968e" stroke-width="5.2" stroke-linecap="round"/><line x1="1080.1" y1="264.0" x2="1022.0" y2="284.5" stroke="#bcbcb4" stroke-width="3.5" stroke-linecap="round"/><line x1="1080.1" y1="264.0" x2="1022.0" y2="284.5" stroke="#e2e2da" stroke-width="1.6" stroke-linecap="round"/><line x1="1080.1" y1="264.0" x2="1059.6" y2="293.1" stroke="#96968e" stroke-width="5.2" stroke-linecap="round"/><line x1="1080.1" y1="264.0" x2="1059.6" y2="293.1" stroke="#bcbcb4" stroke-width="3.5" stroke-linecap="round"/><line x1="1080.1" y1="264.0" x2="1059.6" y2="293.1" stroke="#e2e2da" stroke-width="1.6" stroke-linecap="round"/><line x1="1080.1" y1="264.0" x2="1150.1" y2="258.9" stroke="#96968e" stroke-width="5.2" stroke-linecap="round"/><line x1="1080.1" y1="264.0" x2="1150.1" y2="258.9" stroke="#bcbcb4" stroke-width="3.5" stroke-linecap="round"/><line x1="1080.1" y1="264.0" x2="1150.1" y2="258.9" stroke="#e2e2da" stroke-width="1.6" stroke-linecap="round"/><line x1="1080.1" y1="264.0" x2="1049.3" y2="334.1" stroke="#96968e" stroke-width="5.2" stroke-linecap="round"/><line x1="1080.1" y1="264.0" x2="1049.3" y2="334.1" stroke="#bcbcb4" stroke-width="3.5" stroke-linecap="round"/><line x1="1080.1" y1="264.0" x2="1049.3" y2="334.1" stroke="#e2e2da" stroke-width="1.6" stroke-linecap="round"/><line x1="1080.1" y1="264.0" x2="1124.5" y2="352.9" stroke="#96968e" stroke-width="5.2" stroke-linecap="round"/><line x1="1080.1" y1="264.0" x2="1124.5" y2="352.9" stroke="#bcbcb4" stroke-width="3.5" stroke-linecap="round"/><line x1="1080.1" y1="264.0" x2="1124.5" y2="352.9" stroke="#e2e2da" stroke-width="1.6" stroke-linecap="round"/><line x1="1080.1" y1="264.0" x2="1153.6" y2="313.6" stroke="#96968e" stroke-width="5.2" stroke-linecap="round"/><line x1="1080.1" y1="264.0" x2="1153.6" y2="313.6" stroke="#bcbcb4" stroke-width="3.5" stroke-linecap="round"/><line x1="1080.1" y1="264.0" x2="1153.6" y2="313.6" stroke="#e2e2da" stroke-width="1.6" stroke-linecap="round"/><line x1="1022.0" y1="284.5" x2="1059.6" y2="293.1" stroke="#96968e" stroke-width="5.2" stroke-linecap="round"/><line x1="1022.0" y1="284.5" x2="1059.6" y2="293.1" stroke="#bcbcb4" stroke-width="3.5" stroke-linecap="round"/><line x1="1022.0" y1="284.5" x2="1059.6" y2="293.1" stroke="#e2e2da" stroke-width="1.6" stroke-linecap="round"/><line x1="1022.0" y1="284.5" x2="972.5" y2="318.7" stroke="#96968e" stroke-width="5.2" stroke-linecap="round"/><line x1="1022.0" y1="284.5" x2="972.5" y2="318.7" stroke="#bcbcb4" stroke-width="3.5" stroke-linecap="round"/><line x1="1022.0" y1="284.5" x2="972.5" y2="318.7" stroke="#e2e2da" stroke-width="1.6" stroke-linecap="round"/><line x1="1022.0" y1="284.5" x2="1049.3" y2="334.1" stroke="#96968e" stroke-width="5.2" stroke-linecap="round"/><line x1="1022.0" y1="284.5" x2="1049.3" y2="334.1" stroke="#bcbcb4" stroke-width="3.5" stroke-linecap="round"/><line x1="1022.0" y1="284.5" x2="1049.3" y2="334.1" stroke="#e2e2da" stroke-width="1.6" stroke-linecap="round"/><line x1="1022.0" y1="284.5" x2="994.7" y2="388.7" stroke="#96968e" stroke-width="5.2" stroke-linecap="round"/><line x1="1022.0" y1="284.5" x2="994.7" y2="388.7" stroke="#bcbcb4" stroke-width="3.5" stroke-linecap="round"/><line x1="1022.0" y1="284.5" x2="994.7" y2="388.7" stroke="#e2e2da" stroke-width="1.6" stroke-linecap="round"/><line x1="1059.6" y1="293.1" x2="1150.1" y2="258.9" stroke="#96968e" stroke-width="5.2" stroke-linecap="round"/><line x1="1059.6" y1="293.1" x2="1150.1" y2="258.9" stroke="#bcbcb4" stroke-width="3.5" stroke-linecap="round"/><line x1="1059.6" y1="293.1" x2="1150.1" y2="258.9" stroke="#e2e2da" stroke-width="1.6" stroke-linecap="round"/><line x1="1059.6" y1="293.1" x2="972.5" y2="318.7" stroke="#96968e" stroke-width="5.2" stroke-linecap="round"/><line x1="1059.6" y1="293.1" x2="972.5" y2="318.7" stroke="#bcbcb4" stroke-width="3.5" stroke-linecap="round"/><line x1="1059.6" y1="293.1" x2="972.5" y2="318.7" stroke="#e2e2da" stroke-width="1.6" stroke-linecap="round"/><line x1="1059.6" y1="293.1" x2="1049.3" y2="334.1" stroke="#96968e" stroke-width="5.2" stroke-linecap="round"/><line x1="1059.6" y1="293.1" x2="1049.3" y2="334.1" stroke="#bcbcb4" stroke-width="3.5" stroke-linecap="round"/><line x1="1059.6" y1="293.1" x2="1049.3" y2="334.1" stroke="#e2e2da" stroke-width="1.6" stroke-linecap="round"/><line x1="1059.6" y1="293.1" x2="1124.5" y2="352.9" stroke="#96968e" stroke-width="5.2" stroke-linecap="round"/><line x1="1059.6" y1="293.1" x2="1124.5" y2="352.9" stroke="#bcbcb4" stroke-width="3.5" stroke-linecap="round"/><line x1="1059.6" y1="293.1" x2="1124.5" y2="352.9" stroke="#e2e2da" stroke-width="1.6" stroke-linecap="round"/><line x1="1059.6" y1="293.1" x2="994.7" y2="388.7" stroke="#96968e" stroke-width="5.2" stroke-linecap="round"/><line x1="1059.6" y1="293.1" x2="994.7" y2="388.7" stroke="#bcbcb4" stroke-width="3.5" stroke-linecap="round"/><line x1="1059.6" y1="293.1" x2="994.7" y2="388.7" stroke="#e2e2da" stroke-width="1.6" stroke-linecap="round"/><line x1="1059.6" y1="293.1" x2="1093.8" y2="381.9" stroke="#96968e" stroke-width="5.2" stroke-linecap="round"/><line x1="1059.6" y1="293.1" x2="1093.8" y2="381.9" stroke="#bcbcb4" stroke-width="3.5" stroke-linecap="round"/><line x1="1059.6" y1="293.1" x2="1093.8" y2="381.9" stroke="#e2e2da" stroke-width="1.6" stroke-linecap="round"/><line x1="1059.6" y1="293.1" x2="1153.6" y2="313.6" stroke="#96968e" stroke-width="5.2" stroke-linecap="round"/><line x1="1059.6" y1="293.1" x2="1153.6" y2="313.6" stroke="#bcbcb4" stroke-width="3.5" stroke-linecap="round"/><line x1="1059.6" y1="293.1" x2="1153.6" y2="313.6" stroke="#e2e2da" stroke-width="1.6" stroke-linecap="round"/><line x1="1150.1" y1="258.9" x2="1124.5" y2="352.9" stroke="#96968e" stroke-width="5.2" stroke-linecap="round"/><line x1="1150.1" y1="258.9" x2="1124.5" y2="352.9" stroke="#bcbcb4" stroke-width="3.5" stroke-linecap="round"/><line x1="1150.1" y1="258.9" x2="1124.5" y2="352.9" stroke="#e2e2da" stroke-width="1.6" stroke-linecap="round"/><line x1="1150.1" y1="258.9" x2="1153.6" y2="313.6" stroke="#96968e" stroke-width="5.2" stroke-linecap="round"/><line x1="1150.1" y1="258.9" x2="1153.6" y2="313.6" stroke="#bcbcb4" stroke-width="3.5" stroke-linecap="round"/><line x1="1150.1" y1="258.9" x2="1153.6" y2="313.6" stroke="#e2e2da" stroke-width="1.6" stroke-linecap="round"/><line x1="972.5" y1="318.7" x2="1049.3" y2="334.1" stroke="#96968e" stroke-width="5.2" stroke-linecap="round"/><line x1="972.5" y1="318.7" x2="1049.3" y2="334.1" stroke="#bcbcb4" stroke-width="3.5" stroke-linecap="round"/><line x1="972.5" y1="318.7" x2="1049.3" y2="334.1" stroke="#e2e2da" stroke-width="1.6" stroke-linecap="round"/><line x1="972.5" y1="318.7" x2="994.7" y2="388.7" stroke="#96968e" stroke-width="5.2" stroke-linecap="round"/><line x1="972.5" y1="318.7" x2="994.7" y2="388.7" stroke="#bcbcb4" stroke-width="3.5" stroke-linecap="round"/><line x1="972.5" y1="318.7" x2="994.7" y2="388.7" stroke="#e2e2da" stroke-width="1.6" stroke-linecap="round"/><line x1="1049.3" y1="334.1" x2="1124.5" y2="352.9" stroke="#96968e" stroke-width="5.2" stroke-linecap="round"/><line x1="1049.3" y1="334.1" x2="1124.5" y2="352.9" stroke="#bcbcb4" stroke-width="3.5" stroke-linecap="round"/><line x1="1049.3" y1="334.1" x2="1124.5" y2="352.9" stroke="#e2e2da" stroke-width="1.6" stroke-linecap="round"/><line x1="1049.3" y1="334.1" x2="994.7" y2="388.7" stroke="#96968e" stroke-width="5.2" stroke-linecap="round"/><line x1="1049.3" y1="334.1" x2="994.7" y2="388.7" stroke="#bcbcb4" stroke-width="3.5" stroke-linecap="round"/><line x1="1049.3" y1="334.1" x2="994.7" y2="388.7" stroke="#e2e2da" stroke-width="1.6" stroke-linecap="round"/><line x1="1049.3" y1="334.1" x2="1093.8" y2="381.9" stroke="#96968e" stroke-width="5.2" stroke-linecap="round"/><line x1="1049.3" y1="334.1" x2="1093.8" y2="381.9" stroke="#bcbcb4" stroke-width="3.5" stroke-linecap="round"/><line x1="1049.3" y1="334.1" x2="1093.8" y2="381.9" stroke="#e2e2da" stroke-width="1.6" stroke-linecap="round"/><line x1="1049.3" y1="334.1" x2="1153.6" y2="313.6" stroke="#96968e" stroke-width="5.2" stroke-linecap="round"/><line x1="1049.3" y1="334.1" x2="1153.6" y2="313.6" stroke="#bcbcb4" stroke-width="3.5" stroke-linecap="round"/><line x1="1049.3" y1="334.1" x2="1153.6" y2="313.6" stroke="#e2e2da" stroke-width="1.6" stroke-linecap="round"/><line x1="1124.5" y1="352.9" x2="1093.8" y2="381.9" stroke="#96968e" stroke-width="5.2" stroke-linecap="round"/><line x1="1124.5" y1="352.9" x2="1093.8" y2="381.9" stroke="#bcbcb4" stroke-width="3.5" stroke-linecap="round"/><line x1="1124.5" y1="352.9" x2="1093.8" y2="381.9" stroke="#e2e2da" stroke-width="1.6" stroke-linecap="round"/><line x1="1124.5" y1="352.9" x2="1153.6" y2="313.6" stroke="#96968e" stroke-width="5.2" stroke-linecap="round"/><line x1="1124.5" y1="352.9" x2="1153.6" y2="313.6" stroke="#bcbcb4" stroke-width="3.5" stroke-linecap="round"/><line x1="1124.5" y1="352.9" x2="1153.6" y2="313.6" stroke="#e2e2da" stroke-width="1.6" stroke-linecap="round"/><line x1="994.7" y1="388.7" x2="1093.8" y2="381.9" stroke="#96968e" stroke-width="5.2" stroke-linecap="round"/><line x1="994.7" y1="388.7" x2="1093.8" y2="381.9" stroke="#bcbcb4" stroke-width="3.5" stroke-linecap="round"/><line x1="994.7" y1="388.7" x2="1093.8" y2="381.9" stroke="#e2e2da" stroke-width="1.6" stroke-linecap="round"/><line x1="1093.8" y1="381.9" x2="1153.6" y2="313.6" stroke="#96968e" stroke-width="5.2" stroke-linecap="round"/><line x1="1093.8" y1="381.9" x2="1153.6" y2="313.6" stroke="#bcbcb4" stroke-width="3.5" stroke-linecap="round"/><line x1="1093.8" y1="381.9" x2="1153.6" y2="313.6" stroke="#e2e2da" stroke-width="1.6" stroke-linecap="round"/><circle cx="1117.7" cy="153.0" r="16.5" fill="url(#aPd)"/><circle cx="1175.8" cy="166.6" r="16.5" fill="url(#aPd)"/><circle cx="996.4" cy="227.3" r="16.5" fill="url(#aPd)"/><circle cx="1078.4" cy="199.9" r="16.5" fill="url(#aPd)"/><circle cx="1080.1" cy="264.0" r="16.5" fill="url(#aPd)"/><circle cx="1022.0" cy="284.5" r="16.5" fill="url(#aPd)"/><circle cx="1059.6" cy="293.1" r="16.5" fill="url(#aPd)"/><circle cx="1150.1" cy="258.9" r="16.5" fill="url(#aPd)"/><circle cx="972.5" cy="318.7" r="16.5" fill="url(#aPd)"/><circle cx="1049.3" cy="334.1" r="16.5" fill="url(#aPd)"/><circle cx="1124.5" cy="352.9" r="16.5" fill="url(#aPd)"/><circle cx="994.7" cy="388.7" r="16.5" fill="url(#aPd)"/><circle cx="1093.8" cy="381.9" r="16.5" fill="url(#aPd)"/><circle cx="1153.6" cy="313.6" r="16.5" fill="url(#aPd)"/><line x1="1371.4" y1="136.9" x2="1350.0" y2="136.0" stroke="#2438a8" stroke-width="5.0" stroke-linecap="round"/><line x1="1371.4" y1="136.9" x2="1350.0" y2="136.0" stroke="#3a54d0" stroke-width="3.4" stroke-linecap="round"/><line x1="1371.4" y1="136.9" x2="1350.0" y2="136.0" stroke="#6684f0" stroke-width="1.5" stroke-linecap="round"/><line x1="1371.4" y1="136.9" x2="1429.7" y2="146.3" stroke="#2438a8" stroke-width="5.0" stroke-linecap="round"/><line x1="1371.4" y1="136.9" x2="1429.7" y2="146.3" stroke="#3a54d0" stroke-width="3.4" stroke-linecap="round"/><line x1="1371.4" y1="136.9" x2="1429.7" y2="146.3" stroke="#6684f0" stroke-width="1.5" stroke-linecap="round"/><line x1="1371.4" y1="136.9" x2="1388.6" y2="187.4" stroke="#2438a8" stroke-width="5.0" stroke-linecap="round"/><line x1="1371.4" y1="136.9" x2="1388.6" y2="187.4" stroke="#3a54d0" stroke-width="3.4" stroke-linecap="round"/><line x1="1371.4" y1="136.9" x2="1388.6" y2="187.4" stroke="#6684f0" stroke-width="1.5" stroke-linecap="round"/><line x1="1371.4" y1="136.9" x2="1337.1" y2="202.9" stroke="#2438a8" stroke-width="5.0" stroke-linecap="round"/><line x1="1371.4" y1="136.9" x2="1337.1" y2="202.9" stroke="#3a54d0" stroke-width="3.4" stroke-linecap="round"/><line x1="1371.4" y1="136.9" x2="1337.1" y2="202.9" stroke="#6684f0" stroke-width="1.5" stroke-linecap="round"/><line x1="1350.0" y1="136.0" x2="1429.7" y2="146.3" stroke="#2438a8" stroke-width="5.0" stroke-linecap="round"/><line x1="1350.0" y1="136.0" x2="1429.7" y2="146.3" stroke="#3a54d0" stroke-width="3.4" stroke-linecap="round"/><line x1="1350.0" y1="136.0" x2="1429.7" y2="146.3" stroke="#6684f0" stroke-width="1.5" stroke-linecap="round"/><line x1="1350.0" y1="136.0" x2="1388.6" y2="187.4" stroke="#2438a8" stroke-width="5.0" stroke-linecap="round"/><line x1="1350.0" y1="136.0" x2="1388.6" y2="187.4" stroke="#3a54d0" stroke-width="3.4" stroke-linecap="round"/><line x1="1350.0" y1="136.0" x2="1388.6" y2="187.4" stroke="#6684f0" stroke-width="1.5" stroke-linecap="round"/><line x1="1350.0" y1="136.0" x2="1302.0" y2="187.4" stroke="#2438a8" stroke-width="5.0" stroke-linecap="round"/><line x1="1350.0" y1="136.0" x2="1302.0" y2="187.4" stroke="#3a54d0" stroke-width="3.4" stroke-linecap="round"/><line x1="1350.0" y1="136.0" x2="1302.0" y2="187.4" stroke="#6684f0" stroke-width="1.5" stroke-linecap="round"/><line x1="1350.0" y1="136.0" x2="1337.1" y2="202.9" stroke="#2438a8" stroke-width="5.0" stroke-linecap="round"/><line x1="1350.0" y1="136.0" x2="1337.1" y2="202.9" stroke="#3a54d0" stroke-width="3.4" stroke-linecap="round"/><line x1="1350.0" y1="136.0" x2="1337.1" y2="202.9" stroke="#6684f0" stroke-width="1.5" stroke-linecap="round"/><line x1="1429.7" y1="146.3" x2="1470.9" y2="182.3" stroke="#2438a8" stroke-width="5.0" stroke-linecap="round"/><line x1="1429.7" y1="146.3" x2="1470.9" y2="182.3" stroke="#3a54d0" stroke-width="3.4" stroke-linecap="round"/><line x1="1429.7" y1="146.3" x2="1470.9" y2="182.3" stroke="#6684f0" stroke-width="1.5" stroke-linecap="round"/><line x1="1429.7" y1="146.3" x2="1472.6" y2="211.4" stroke="#2438a8" stroke-width="5.0" stroke-linecap="round"/><line x1="1429.7" y1="146.3" x2="1472.6" y2="211.4" stroke="#3a54d0" stroke-width="3.4" stroke-linecap="round"/><line x1="1429.7" y1="146.3" x2="1472.6" y2="211.4" stroke="#6684f0" stroke-width="1.5" stroke-linecap="round"/><line x1="1429.7" y1="146.3" x2="1388.6" y2="187.4" stroke="#2438a8" stroke-width="5.0" stroke-linecap="round"/><line x1="1429.7" y1="146.3" x2="1388.6" y2="187.4" stroke="#3a54d0" stroke-width="3.4" stroke-linecap="round"/><line x1="1429.7" y1="146.3" x2="1388.6" y2="187.4" stroke="#6684f0" stroke-width="1.5" stroke-linecap="round"/><line x1="1470.9" y1="182.3" x2="1472.6" y2="211.4" stroke="#2438a8" stroke-width="5.0" stroke-linecap="round"/><line x1="1470.9" y1="182.3" x2="1472.6" y2="211.4" stroke="#3a54d0" stroke-width="3.4" stroke-linecap="round"/><line x1="1470.9" y1="182.3" x2="1472.6" y2="211.4" stroke="#6684f0" stroke-width="1.5" stroke-linecap="round"/><line x1="1470.9" y1="182.3" x2="1518.9" y2="237.1" stroke="#2438a8" stroke-width="5.0" stroke-linecap="round"/><line x1="1470.9" y1="182.3" x2="1518.9" y2="237.1" stroke="#3a54d0" stroke-width="3.4" stroke-linecap="round"/><line x1="1470.9" y1="182.3" x2="1518.9" y2="237.1" stroke="#6684f0" stroke-width="1.5" stroke-linecap="round"/><line x1="1470.9" y1="182.3" x2="1474.3" y2="264.6" stroke="#2438a8" stroke-width="5.0" stroke-linecap="round"/><line x1="1470.9" y1="182.3" x2="1474.3" y2="264.6" stroke="#3a54d0" stroke-width="3.4" stroke-linecap="round"/><line x1="1470.9" y1="182.3" x2="1474.3" y2="264.6" stroke="#6684f0" stroke-width="1.5" stroke-linecap="round"/><line x1="1470.9" y1="182.3" x2="1440.0" y2="252.6" stroke="#2438a8" stroke-width="5.0" stroke-linecap="round"/><line x1="1470.9" y1="182.3" x2="1440.0" y2="252.6" stroke="#3a54d0" stroke-width="3.4" stroke-linecap="round"/><line x1="1470.9" y1="182.3" x2="1440.0" y2="252.6" stroke="#6684f0" stroke-width="1.5" stroke-linecap="round"/><line x1="1470.9" y1="182.3" x2="1388.6" y2="187.4" stroke="#2438a8" stroke-width="5.0" stroke-linecap="round"/><line x1="1470.9" y1="182.3" x2="1388.6" y2="187.4" stroke="#3a54d0" stroke-width="3.4" stroke-linecap="round"/><line x1="1470.9" y1="182.3" x2="1388.6" y2="187.4" stroke="#6684f0" stroke-width="1.5" stroke-linecap="round"/><line x1="1472.6" y1="211.4" x2="1518.9" y2="237.1" stroke="#2438a8" stroke-width="5.0" stroke-linecap="round"/><line x1="1472.6" y1="211.4" x2="1518.9" y2="237.1" stroke="#3a54d0" stroke-width="3.4" stroke-linecap="round"/><line x1="1472.6" y1="211.4" x2="1518.9" y2="237.1" stroke="#6684f0" stroke-width="1.5" stroke-linecap="round"/><line x1="1472.6" y1="211.4" x2="1525.7" y2="273.1" stroke="#2438a8" stroke-width="5.0" stroke-linecap="round"/><line x1="1472.6" y1="211.4" x2="1525.7" y2="273.1" stroke="#3a54d0" stroke-width="3.4" stroke-linecap="round"/><line x1="1472.6" y1="211.4" x2="1525.7" y2="273.1" stroke="#6684f0" stroke-width="1.5" stroke-linecap="round"/><line x1="1472.6" y1="211.4" x2="1474.3" y2="264.6" stroke="#2438a8" stroke-width="5.0" stroke-linecap="round"/><line x1="1472.6" y1="211.4" x2="1474.3" y2="264.6" stroke="#3a54d0" stroke-width="3.4" stroke-linecap="round"/><line x1="1472.6" y1="211.4" x2="1474.3" y2="264.6" stroke="#6684f0" stroke-width="1.5" stroke-linecap="round"/><line x1="1472.6" y1="211.4" x2="1440.0" y2="252.6" stroke="#2438a8" stroke-width="5.0" stroke-linecap="round"/><line x1="1472.6" y1="211.4" x2="1440.0" y2="252.6" stroke="#3a54d0" stroke-width="3.4" stroke-linecap="round"/><line x1="1472.6" y1="211.4" x2="1440.0" y2="252.6" stroke="#6684f0" stroke-width="1.5" stroke-linecap="round"/><line x1="1518.9" y1="237.1" x2="1525.7" y2="273.1" stroke="#2438a8" stroke-width="5.0" stroke-linecap="round"/><line x1="1518.9" y1="237.1" x2="1525.7" y2="273.1" stroke="#3a54d0" stroke-width="3.4" stroke-linecap="round"/><line x1="1518.9" y1="237.1" x2="1525.7" y2="273.1" stroke="#6684f0" stroke-width="1.5" stroke-linecap="round"/><line x1="1518.9" y1="237.1" x2="1474.3" y2="264.6" stroke="#2438a8" stroke-width="5.0" stroke-linecap="round"/><line x1="1518.9" y1="237.1" x2="1474.3" y2="264.6" stroke="#3a54d0" stroke-width="3.4" stroke-linecap="round"/><line x1="1518.9" y1="237.1" x2="1474.3" y2="264.6" stroke="#6684f0" stroke-width="1.5" stroke-linecap="round"/><line x1="1518.9" y1="237.1" x2="1440.0" y2="252.6" stroke="#2438a8" stroke-width="5.0" stroke-linecap="round"/><line x1="1518.9" y1="237.1" x2="1440.0" y2="252.6" stroke="#3a54d0" stroke-width="3.4" stroke-linecap="round"/><line x1="1518.9" y1="237.1" x2="1440.0" y2="252.6" stroke="#6684f0" stroke-width="1.5" stroke-linecap="round"/><line x1="1518.9" y1="237.1" x2="1494.9" y2="317.7" stroke="#2438a8" stroke-width="5.0" stroke-linecap="round"/><line x1="1518.9" y1="237.1" x2="1494.9" y2="317.7" stroke="#3a54d0" stroke-width="3.4" stroke-linecap="round"/><line x1="1518.9" y1="237.1" x2="1494.9" y2="317.7" stroke="#6684f0" stroke-width="1.5" stroke-linecap="round"/><line x1="1525.7" y1="273.1" x2="1474.3" y2="264.6" stroke="#2438a8" stroke-width="5.0" stroke-linecap="round"/><line x1="1525.7" y1="273.1" x2="1474.3" y2="264.6" stroke="#3a54d0" stroke-width="3.4" stroke-linecap="round"/><line x1="1525.7" y1="273.1" x2="1474.3" y2="264.6" stroke="#6684f0" stroke-width="1.5" stroke-linecap="round"/><line x1="1525.7" y1="273.1" x2="1494.9" y2="317.7" stroke="#2438a8" stroke-width="5.0" stroke-linecap="round"/><line x1="1525.7" y1="273.1" x2="1494.9" y2="317.7" stroke="#3a54d0" stroke-width="3.4" stroke-linecap="round"/><line x1="1525.7" y1="273.1" x2="1494.9" y2="317.7" stroke="#6684f0" stroke-width="1.5" stroke-linecap="round"/><line x1="1474.3" y1="264.6" x2="1440.0" y2="252.6" stroke="#2438a8" stroke-width="5.0" stroke-linecap="round"/><line x1="1474.3" y1="264.6" x2="1440.0" y2="252.6" stroke="#3a54d0" stroke-width="3.4" stroke-linecap="round"/><line x1="1474.3" y1="264.6" x2="1440.0" y2="252.6" stroke="#6684f0" stroke-width="1.5" stroke-linecap="round"/><line x1="1474.3" y1="264.6" x2="1441.7" y2="292.0" stroke="#2438a8" stroke-width="5.0" stroke-linecap="round"/><line x1="1474.3" y1="264.6" x2="1441.7" y2="292.0" stroke="#3a54d0" stroke-width="3.4" stroke-linecap="round"/><line x1="1474.3" y1="264.6" x2="1441.7" y2="292.0" stroke="#6684f0" stroke-width="1.5" stroke-linecap="round"/><line x1="1474.3" y1="264.6" x2="1494.9" y2="317.7" stroke="#2438a8" stroke-width="5.0" stroke-linecap="round"/><line x1="1474.3" y1="264.6" x2="1494.9" y2="317.7" stroke="#3a54d0" stroke-width="3.4" stroke-linecap="round"/><line x1="1474.3" y1="264.6" x2="1494.9" y2="317.7" stroke="#6684f0" stroke-width="1.5" stroke-linecap="round"/><line x1="1474.3" y1="264.6" x2="1428.0" y2="324.6" stroke="#2438a8" stroke-width="5.0" stroke-linecap="round"/><line x1="1474.3" y1="264.6" x2="1428.0" y2="324.6" stroke="#3a54d0" stroke-width="3.4" stroke-linecap="round"/><line x1="1474.3" y1="264.6" x2="1428.0" y2="324.6" stroke="#6684f0" stroke-width="1.5" stroke-linecap="round"/><line x1="1474.3" y1="264.6" x2="1397.1" y2="288.6" stroke="#2438a8" stroke-width="5.0" stroke-linecap="round"/><line x1="1474.3" y1="264.6" x2="1397.1" y2="288.6" stroke="#3a54d0" stroke-width="3.4" stroke-linecap="round"/><line x1="1474.3" y1="264.6" x2="1397.1" y2="288.6" stroke="#6684f0" stroke-width="1.5" stroke-linecap="round"/><line x1="1440.0" y1="252.6" x2="1441.7" y2="292.0" stroke="#2438a8" stroke-width="5.0" stroke-linecap="round"/><line x1="1440.0" y1="252.6" x2="1441.7" y2="292.0" stroke="#3a54d0" stroke-width="3.4" stroke-linecap="round"/><line x1="1440.0" y1="252.6" x2="1441.7" y2="292.0" stroke="#6684f0" stroke-width="1.5" stroke-linecap="round"/><line x1="1440.0" y1="252.6" x2="1388.6" y2="187.4" stroke="#2438a8" stroke-width="5.0" stroke-linecap="round"/><line x1="1440.0" y1="252.6" x2="1388.6" y2="187.4" stroke="#3a54d0" stroke-width="3.4" stroke-linecap="round"/><line x1="1440.0" y1="252.6" x2="1388.6" y2="187.4" stroke="#6684f0" stroke-width="1.5" stroke-linecap="round"/><line x1="1440.0" y1="252.6" x2="1368.9" y2="267.1" stroke="#2438a8" stroke-width="5.0" stroke-linecap="round"/><line x1="1440.0" y1="252.6" x2="1368.9" y2="267.1" stroke="#3a54d0" stroke-width="3.4" stroke-linecap="round"/><line x1="1440.0" y1="252.6" x2="1368.9" y2="267.1" stroke="#6684f0" stroke-width="1.5" stroke-linecap="round"/><line x1="1440.0" y1="252.6" x2="1428.0" y2="324.6" stroke="#2438a8" stroke-width="5.0" stroke-linecap="round"/><line x1="1440.0" y1="252.6" x2="1428.0" y2="324.6" stroke="#3a54d0" stroke-width="3.4" stroke-linecap="round"/><line x1="1440.0" y1="252.6" x2="1428.0" y2="324.6" stroke="#6684f0" stroke-width="1.5" stroke-linecap="round"/><line x1="1440.0" y1="252.6" x2="1397.1" y2="288.6" stroke="#2438a8" stroke-width="5.0" stroke-linecap="round"/><line x1="1440.0" y1="252.6" x2="1397.1" y2="288.6" stroke="#3a54d0" stroke-width="3.4" stroke-linecap="round"/><line x1="1440.0" y1="252.6" x2="1397.1" y2="288.6" stroke="#6684f0" stroke-width="1.5" stroke-linecap="round"/><line x1="1441.7" y1="292.0" x2="1494.9" y2="317.7" stroke="#2438a8" stroke-width="5.0" stroke-linecap="round"/><line x1="1441.7" y1="292.0" x2="1494.9" y2="317.7" stroke="#3a54d0" stroke-width="3.4" stroke-linecap="round"/><line x1="1441.7" y1="292.0" x2="1494.9" y2="317.7" stroke="#6684f0" stroke-width="1.5" stroke-linecap="round"/><line x1="1441.7" y1="292.0" x2="1368.9" y2="267.1" stroke="#2438a8" stroke-width="5.0" stroke-linecap="round"/><line x1="1441.7" y1="292.0" x2="1368.9" y2="267.1" stroke="#3a54d0" stroke-width="3.4" stroke-linecap="round"/><line x1="1441.7" y1="292.0" x2="1368.9" y2="267.1" stroke="#6684f0" stroke-width="1.5" stroke-linecap="round"/><line x1="1441.7" y1="292.0" x2="1422.9" y2="362.3" stroke="#2438a8" stroke-width="5.0" stroke-linecap="round"/><line x1="1441.7" y1="292.0" x2="1422.9" y2="362.3" stroke="#3a54d0" stroke-width="3.4" stroke-linecap="round"/><line x1="1441.7" y1="292.0" x2="1422.9" y2="362.3" stroke="#6684f0" stroke-width="1.5" stroke-linecap="round"/><line x1="1441.7" y1="292.0" x2="1428.0" y2="324.6" stroke="#2438a8" stroke-width="5.0" stroke-linecap="round"/><line x1="1441.7" y1="292.0" x2="1428.0" y2="324.6" stroke="#3a54d0" stroke-width="3.4" stroke-linecap="round"/><line x1="1441.7" y1="292.0" x2="1428.0" y2="324.6" stroke="#6684f0" stroke-width="1.5" stroke-linecap="round"/><line x1="1441.7" y1="292.0" x2="1397.1" y2="288.6" stroke="#2438a8" stroke-width="5.0" stroke-linecap="round"/><line x1="1441.7" y1="292.0" x2="1397.1" y2="288.6" stroke="#3a54d0" stroke-width="3.4" stroke-linecap="round"/><line x1="1441.7" y1="292.0" x2="1397.1" y2="288.6" stroke="#6684f0" stroke-width="1.5" stroke-linecap="round"/><line x1="1494.9" y1="317.7" x2="1422.9" y2="362.3" stroke="#2438a8" stroke-width="5.0" stroke-linecap="round"/><line x1="1494.9" y1="317.7" x2="1422.9" y2="362.3" stroke="#3a54d0" stroke-width="3.4" stroke-linecap="round"/><line x1="1494.9" y1="317.7" x2="1422.9" y2="362.3" stroke="#6684f0" stroke-width="1.5" stroke-linecap="round"/><line x1="1494.9" y1="317.7" x2="1428.0" y2="324.6" stroke="#2438a8" stroke-width="5.0" stroke-linecap="round"/><line x1="1494.9" y1="317.7" x2="1428.0" y2="324.6" stroke="#3a54d0" stroke-width="3.4" stroke-linecap="round"/><line x1="1494.9" y1="317.7" x2="1428.0" y2="324.6" stroke="#6684f0" stroke-width="1.5" stroke-linecap="round"/><line x1="1388.6" y1="187.4" x2="1337.1" y2="202.9" stroke="#2438a8" stroke-width="5.0" stroke-linecap="round"/><line x1="1388.6" y1="187.4" x2="1337.1" y2="202.9" stroke="#3a54d0" stroke-width="3.4" stroke-linecap="round"/><line x1="1388.6" y1="187.4" x2="1337.1" y2="202.9" stroke="#6684f0" stroke-width="1.5" stroke-linecap="round"/><line x1="1388.6" y1="187.4" x2="1368.9" y2="267.1" stroke="#2438a8" stroke-width="5.0" stroke-linecap="round"/><line x1="1388.6" y1="187.4" x2="1368.9" y2="267.1" stroke="#3a54d0" stroke-width="3.4" stroke-linecap="round"/><line x1="1388.6" y1="187.4" x2="1368.9" y2="267.1" stroke="#6684f0" stroke-width="1.5" stroke-linecap="round"/><line x1="1302.0" y1="187.4" x2="1337.1" y2="202.9" stroke="#2438a8" stroke-width="5.0" stroke-linecap="round"/><line x1="1302.0" y1="187.4" x2="1337.1" y2="202.9" stroke="#3a54d0" stroke-width="3.4" stroke-linecap="round"/><line x1="1302.0" y1="187.4" x2="1337.1" y2="202.9" stroke="#6684f0" stroke-width="1.5" stroke-linecap="round"/><line x1="1302.0" y1="187.4" x2="1254.9" y2="211.4" stroke="#2438a8" stroke-width="5.0" stroke-linecap="round"/><line x1="1302.0" y1="187.4" x2="1254.9" y2="211.4" stroke="#3a54d0" stroke-width="3.4" stroke-linecap="round"/><line x1="1302.0" y1="187.4" x2="1254.9" y2="211.4" stroke="#6684f0" stroke-width="1.5" stroke-linecap="round"/><line x1="1302.0" y1="187.4" x2="1230.9" y2="172.0" stroke="#2438a8" stroke-width="5.0" stroke-linecap="round"/><line x1="1302.0" y1="187.4" x2="1230.9" y2="172.0" stroke="#3a54d0" stroke-width="3.4" stroke-linecap="round"/><line x1="1302.0" y1="187.4" x2="1230.9" y2="172.0" stroke="#6684f0" stroke-width="1.5" stroke-linecap="round"/><line x1="1302.0" y1="187.4" x2="1227.0" y2="171.8" stroke="#2438a8" stroke-width="5.0" stroke-linecap="round"/><line x1="1302.0" y1="187.4" x2="1227.0" y2="171.8" stroke="#3a54d0" stroke-width="3.4" stroke-linecap="round"/><line x1="1302.0" y1="187.4" x2="1227.0" y2="171.8" stroke="#6684f0" stroke-width="1.5" stroke-linecap="round"/><line x1="1302.0" y1="187.4" x2="1256.1" y2="211.1" stroke="#2438a8" stroke-width="5.0" stroke-linecap="round"/><line x1="1302.0" y1="187.4" x2="1256.1" y2="211.1" stroke="#3a54d0" stroke-width="3.4" stroke-linecap="round"/><line x1="1302.0" y1="187.4" x2="1256.1" y2="211.1" stroke="#6684f0" stroke-width="1.5" stroke-linecap="round"/><line x1="1302.0" y1="187.4" x2="1306.3" y2="240.6" stroke="#2438a8" stroke-width="5.0" stroke-linecap="round"/><line x1="1302.0" y1="187.4" x2="1306.3" y2="240.6" stroke="#3a54d0" stroke-width="3.4" stroke-linecap="round"/><line x1="1302.0" y1="187.4" x2="1306.3" y2="240.6" stroke="#6684f0" stroke-width="1.5" stroke-linecap="round"/><line x1="1337.1" y1="202.9" x2="1254.9" y2="211.4" stroke="#2438a8" stroke-width="5.0" stroke-linecap="round"/><line x1="1337.1" y1="202.9" x2="1254.9" y2="211.4" stroke="#3a54d0" stroke-width="3.4" stroke-linecap="round"/><line x1="1337.1" y1="202.9" x2="1254.9" y2="211.4" stroke="#6684f0" stroke-width="1.5" stroke-linecap="round"/><line x1="1337.1" y1="202.9" x2="1368.9" y2="267.1" stroke="#2438a8" stroke-width="5.0" stroke-linecap="round"/><line x1="1337.1" y1="202.9" x2="1368.9" y2="267.1" stroke="#3a54d0" stroke-width="3.4" stroke-linecap="round"/><line x1="1337.1" y1="202.9" x2="1368.9" y2="267.1" stroke="#6684f0" stroke-width="1.5" stroke-linecap="round"/><line x1="1337.1" y1="202.9" x2="1256.1" y2="211.1" stroke="#2438a8" stroke-width="5.0" stroke-linecap="round"/><line x1="1337.1" y1="202.9" x2="1256.1" y2="211.1" stroke="#3a54d0" stroke-width="3.4" stroke-linecap="round"/><line x1="1337.1" y1="202.9" x2="1256.1" y2="211.1" stroke="#6684f0" stroke-width="1.5" stroke-linecap="round"/><line x1="1337.1" y1="202.9" x2="1306.3" y2="240.6" stroke="#2438a8" stroke-width="5.0" stroke-linecap="round"/><line x1="1337.1" y1="202.9" x2="1306.3" y2="240.6" stroke="#3a54d0" stroke-width="3.4" stroke-linecap="round"/><line x1="1337.1" y1="202.9" x2="1306.3" y2="240.6" stroke="#6684f0" stroke-width="1.5" stroke-linecap="round"/><line x1="1254.9" y1="211.4" x2="1230.9" y2="235.4" stroke="#2438a8" stroke-width="5.0" stroke-linecap="round"/><line x1="1254.9" y1="211.4" x2="1230.9" y2="235.4" stroke="#3a54d0" stroke-width="3.4" stroke-linecap="round"/><line x1="1254.9" y1="211.4" x2="1230.9" y2="235.4" stroke="#6684f0" stroke-width="1.5" stroke-linecap="round"/><line x1="1254.9" y1="211.4" x2="1280.6" y2="280.0" stroke="#2438a8" stroke-width="5.0" stroke-linecap="round"/><line x1="1254.9" y1="211.4" x2="1280.6" y2="280.0" stroke="#3a54d0" stroke-width="3.4" stroke-linecap="round"/><line x1="1254.9" y1="211.4" x2="1280.6" y2="280.0" stroke="#6684f0" stroke-width="1.5" stroke-linecap="round"/><line x1="1254.9" y1="211.4" x2="1234.3" y2="288.6" stroke="#2438a8" stroke-width="5.0" stroke-linecap="round"/><line x1="1254.9" y1="211.4" x2="1234.3" y2="288.6" stroke="#3a54d0" stroke-width="3.4" stroke-linecap="round"/><line x1="1254.9" y1="211.4" x2="1234.3" y2="288.6" stroke="#6684f0" stroke-width="1.5" stroke-linecap="round"/><line x1="1254.9" y1="211.4" x2="1230.9" y2="172.0" stroke="#2438a8" stroke-width="5.0" stroke-linecap="round"/><line x1="1254.9" y1="211.4" x2="1230.9" y2="172.0" stroke="#3a54d0" stroke-width="3.4" stroke-linecap="round"/><line x1="1254.9" y1="211.4" x2="1230.9" y2="172.0" stroke="#6684f0" stroke-width="1.5" stroke-linecap="round"/><line x1="1254.9" y1="211.4" x2="1227.0" y2="171.8" stroke="#2438a8" stroke-width="5.0" stroke-linecap="round"/><line x1="1254.9" y1="211.4" x2="1227.0" y2="171.8" stroke="#3a54d0" stroke-width="3.4" stroke-linecap="round"/><line x1="1254.9" y1="211.4" x2="1227.0" y2="171.8" stroke="#6684f0" stroke-width="1.5" stroke-linecap="round"/><line x1="1254.9" y1="211.4" x2="1227.0" y2="233.3" stroke="#2438a8" stroke-width="5.0" stroke-linecap="round"/><line x1="1254.9" y1="211.4" x2="1227.0" y2="233.3" stroke="#3a54d0" stroke-width="3.4" stroke-linecap="round"/><line x1="1254.9" y1="211.4" x2="1227.0" y2="233.3" stroke="#6684f0" stroke-width="1.5" stroke-linecap="round"/><line x1="1254.9" y1="211.4" x2="1235.6" y2="286.2" stroke="#2438a8" stroke-width="5.0" stroke-linecap="round"/><line x1="1254.9" y1="211.4" x2="1235.6" y2="286.2" stroke="#3a54d0" stroke-width="3.4" stroke-linecap="round"/><line x1="1254.9" y1="211.4" x2="1235.6" y2="286.2" stroke="#6684f0" stroke-width="1.5" stroke-linecap="round"/><line x1="1254.9" y1="211.4" x2="1306.3" y2="240.6" stroke="#2438a8" stroke-width="5.0" stroke-linecap="round"/><line x1="1254.9" y1="211.4" x2="1306.3" y2="240.6" stroke="#3a54d0" stroke-width="3.4" stroke-linecap="round"/><line x1="1254.9" y1="211.4" x2="1306.3" y2="240.6" stroke="#6684f0" stroke-width="1.5" stroke-linecap="round"/><line x1="1230.9" y1="235.4" x2="1280.6" y2="280.0" stroke="#2438a8" stroke-width="5.0" stroke-linecap="round"/><line x1="1230.9" y1="235.4" x2="1280.6" y2="280.0" stroke="#3a54d0" stroke-width="3.4" stroke-linecap="round"/><line x1="1230.9" y1="235.4" x2="1280.6" y2="280.0" stroke="#6684f0" stroke-width="1.5" stroke-linecap="round"/><line x1="1230.9" y1="235.4" x2="1234.3" y2="288.6" stroke="#2438a8" stroke-width="5.0" stroke-linecap="round"/><line x1="1230.9" y1="235.4" x2="1234.3" y2="288.6" stroke="#3a54d0" stroke-width="3.4" stroke-linecap="round"/><line x1="1230.9" y1="235.4" x2="1234.3" y2="288.6" stroke="#6684f0" stroke-width="1.5" stroke-linecap="round"/><line x1="1230.9" y1="235.4" x2="1230.9" y2="172.0" stroke="#2438a8" stroke-width="5.0" stroke-linecap="round"/><line x1="1230.9" y1="235.4" x2="1230.9" y2="172.0" stroke="#3a54d0" stroke-width="3.4" stroke-linecap="round"/><line x1="1230.9" y1="235.4" x2="1230.9" y2="172.0" stroke="#6684f0" stroke-width="1.5" stroke-linecap="round"/><line x1="1230.9" y1="235.4" x2="1227.0" y2="171.8" stroke="#2438a8" stroke-width="5.0" stroke-linecap="round"/><line x1="1230.9" y1="235.4" x2="1227.0" y2="171.8" stroke="#3a54d0" stroke-width="3.4" stroke-linecap="round"/><line x1="1230.9" y1="235.4" x2="1227.0" y2="171.8" stroke="#6684f0" stroke-width="1.5" stroke-linecap="round"/><line x1="1230.9" y1="235.4" x2="1256.1" y2="211.1" stroke="#2438a8" stroke-width="5.0" stroke-linecap="round"/><line x1="1230.9" y1="235.4" x2="1256.1" y2="211.1" stroke="#3a54d0" stroke-width="3.4" stroke-linecap="round"/><line x1="1230.9" y1="235.4" x2="1256.1" y2="211.1" stroke="#6684f0" stroke-width="1.5" stroke-linecap="round"/><line x1="1230.9" y1="235.4" x2="1235.6" y2="286.2" stroke="#2438a8" stroke-width="5.0" stroke-linecap="round"/><line x1="1230.9" y1="235.4" x2="1235.6" y2="286.2" stroke="#3a54d0" stroke-width="3.4" stroke-linecap="round"/><line x1="1230.9" y1="235.4" x2="1235.6" y2="286.2" stroke="#6684f0" stroke-width="1.5" stroke-linecap="round"/><line x1="1230.9" y1="235.4" x2="1306.3" y2="240.6" stroke="#2438a8" stroke-width="5.0" stroke-linecap="round"/><line x1="1230.9" y1="235.4" x2="1306.3" y2="240.6" stroke="#3a54d0" stroke-width="3.4" stroke-linecap="round"/><line x1="1230.9" y1="235.4" x2="1306.3" y2="240.6" stroke="#6684f0" stroke-width="1.5" stroke-linecap="round"/><line x1="1280.6" y1="280.0" x2="1234.3" y2="288.6" stroke="#2438a8" stroke-width="5.0" stroke-linecap="round"/><line x1="1280.6" y1="280.0" x2="1234.3" y2="288.6" stroke="#3a54d0" stroke-width="3.4" stroke-linecap="round"/><line x1="1280.6" y1="280.0" x2="1234.3" y2="288.6" stroke="#6684f0" stroke-width="1.5" stroke-linecap="round"/><line x1="1280.6" y1="280.0" x2="1330.3" y2="317.7" stroke="#2438a8" stroke-width="5.0" stroke-linecap="round"/><line x1="1280.6" y1="280.0" x2="1330.3" y2="317.7" stroke="#3a54d0" stroke-width="3.4" stroke-linecap="round"/><line x1="1280.6" y1="280.0" x2="1330.3" y2="317.7" stroke="#6684f0" stroke-width="1.5" stroke-linecap="round"/><line x1="1280.6" y1="280.0" x2="1213.7" y2="321.1" stroke="#2438a8" stroke-width="5.0" stroke-linecap="round"/><line x1="1280.6" y1="280.0" x2="1213.7" y2="321.1" stroke="#3a54d0" stroke-width="3.4" stroke-linecap="round"/><line x1="1280.6" y1="280.0" x2="1213.7" y2="321.1" stroke="#6684f0" stroke-width="1.5" stroke-linecap="round"/><line x1="1280.6" y1="280.0" x2="1311.4" y2="302.3" stroke="#2438a8" stroke-width="5.0" stroke-linecap="round"/><line x1="1280.6" y1="280.0" x2="1311.4" y2="302.3" stroke="#3a54d0" stroke-width="3.4" stroke-linecap="round"/><line x1="1280.6" y1="280.0" x2="1311.4" y2="302.3" stroke="#6684f0" stroke-width="1.5" stroke-linecap="round"/><line x1="1280.6" y1="280.0" x2="1213.4" y2="320.4" stroke="#2438a8" stroke-width="5.0" stroke-linecap="round"/><line x1="1280.6" y1="280.0" x2="1213.4" y2="320.4" stroke="#3a54d0" stroke-width="3.4" stroke-linecap="round"/><line x1="1280.6" y1="280.0" x2="1213.4" y2="320.4" stroke="#6684f0" stroke-width="1.5" stroke-linecap="round"/><line x1="1280.6" y1="280.0" x2="1256.1" y2="211.1" stroke="#2438a8" stroke-width="5.0" stroke-linecap="round"/><line x1="1280.6" y1="280.0" x2="1256.1" y2="211.1" stroke="#3a54d0" stroke-width="3.4" stroke-linecap="round"/><line x1="1280.6" y1="280.0" x2="1256.1" y2="211.1" stroke="#6684f0" stroke-width="1.5" stroke-linecap="round"/><line x1="1280.6" y1="280.0" x2="1227.0" y2="233.3" stroke="#2438a8" stroke-width="5.0" stroke-linecap="round"/><line x1="1280.6" y1="280.0" x2="1227.0" y2="233.3" stroke="#3a54d0" stroke-width="3.4" stroke-linecap="round"/><line x1="1280.6" y1="280.0" x2="1227.0" y2="233.3" stroke="#6684f0" stroke-width="1.5" stroke-linecap="round"/><line x1="1280.6" y1="280.0" x2="1235.6" y2="286.2" stroke="#2438a8" stroke-width="5.0" stroke-linecap="round"/><line x1="1280.6" y1="280.0" x2="1235.6" y2="286.2" stroke="#3a54d0" stroke-width="3.4" stroke-linecap="round"/><line x1="1280.6" y1="280.0" x2="1235.6" y2="286.2" stroke="#6684f0" stroke-width="1.5" stroke-linecap="round"/><line x1="1280.6" y1="280.0" x2="1306.3" y2="240.6" stroke="#2438a8" stroke-width="5.0" stroke-linecap="round"/><line x1="1280.6" y1="280.0" x2="1306.3" y2="240.6" stroke="#3a54d0" stroke-width="3.4" stroke-linecap="round"/><line x1="1280.6" y1="280.0" x2="1306.3" y2="240.6" stroke="#6684f0" stroke-width="1.5" stroke-linecap="round"/><line x1="1234.3" y1="288.6" x2="1213.7" y2="321.1" stroke="#2438a8" stroke-width="5.0" stroke-linecap="round"/><line x1="1234.3" y1="288.6" x2="1213.7" y2="321.1" stroke="#3a54d0" stroke-width="3.4" stroke-linecap="round"/><line x1="1234.3" y1="288.6" x2="1213.7" y2="321.1" stroke="#6684f0" stroke-width="1.5" stroke-linecap="round"/><line x1="1234.3" y1="288.6" x2="1311.4" y2="302.3" stroke="#2438a8" stroke-width="5.0" stroke-linecap="round"/><line x1="1234.3" y1="288.6" x2="1311.4" y2="302.3" stroke="#3a54d0" stroke-width="3.4" stroke-linecap="round"/><line x1="1234.3" y1="288.6" x2="1311.4" y2="302.3" stroke="#6684f0" stroke-width="1.5" stroke-linecap="round"/><line x1="1234.3" y1="288.6" x2="1213.4" y2="320.4" stroke="#2438a8" stroke-width="5.0" stroke-linecap="round"/><line x1="1234.3" y1="288.6" x2="1213.4" y2="320.4" stroke="#3a54d0" stroke-width="3.4" stroke-linecap="round"/><line x1="1234.3" y1="288.6" x2="1213.4" y2="320.4" stroke="#6684f0" stroke-width="1.5" stroke-linecap="round"/><line x1="1234.3" y1="288.6" x2="1256.1" y2="211.1" stroke="#2438a8" stroke-width="5.0" stroke-linecap="round"/><line x1="1234.3" y1="288.6" x2="1256.1" y2="211.1" stroke="#3a54d0" stroke-width="3.4" stroke-linecap="round"/><line x1="1234.3" y1="288.6" x2="1256.1" y2="211.1" stroke="#6684f0" stroke-width="1.5" stroke-linecap="round"/><line x1="1234.3" y1="288.6" x2="1227.0" y2="233.3" stroke="#2438a8" stroke-width="5.0" stroke-linecap="round"/><line x1="1234.3" y1="288.6" x2="1227.0" y2="233.3" stroke="#3a54d0" stroke-width="3.4" stroke-linecap="round"/><line x1="1234.3" y1="288.6" x2="1227.0" y2="233.3" stroke="#6684f0" stroke-width="1.5" stroke-linecap="round"/><line x1="1368.9" y1="267.1" x2="1330.3" y2="317.7" stroke="#2438a8" stroke-width="5.0" stroke-linecap="round"/><line x1="1368.9" y1="267.1" x2="1330.3" y2="317.7" stroke="#3a54d0" stroke-width="3.4" stroke-linecap="round"/><line x1="1368.9" y1="267.1" x2="1330.3" y2="317.7" stroke="#6684f0" stroke-width="1.5" stroke-linecap="round"/><line x1="1368.9" y1="267.1" x2="1428.0" y2="324.6" stroke="#2438a8" stroke-width="5.0" stroke-linecap="round"/><line x1="1368.9" y1="267.1" x2="1428.0" y2="324.6" stroke="#3a54d0" stroke-width="3.4" stroke-linecap="round"/><line x1="1368.9" y1="267.1" x2="1428.0" y2="324.6" stroke="#6684f0" stroke-width="1.5" stroke-linecap="round"/><line x1="1368.9" y1="267.1" x2="1311.4" y2="302.3" stroke="#2438a8" stroke-width="5.0" stroke-linecap="round"/><line x1="1368.9" y1="267.1" x2="1311.4" y2="302.3" stroke="#3a54d0" stroke-width="3.4" stroke-linecap="round"/><line x1="1368.9" y1="267.1" x2="1311.4" y2="302.3" stroke="#6684f0" stroke-width="1.5" stroke-linecap="round"/><line x1="1368.9" y1="267.1" x2="1397.1" y2="288.6" stroke="#2438a8" stroke-width="5.0" stroke-linecap="round"/><line x1="1368.9" y1="267.1" x2="1397.1" y2="288.6" stroke="#3a54d0" stroke-width="3.4" stroke-linecap="round"/><line x1="1368.9" y1="267.1" x2="1397.1" y2="288.6" stroke="#6684f0" stroke-width="1.5" stroke-linecap="round"/><line x1="1368.9" y1="267.1" x2="1306.3" y2="240.6" stroke="#2438a8" stroke-width="5.0" stroke-linecap="round"/><line x1="1368.9" y1="267.1" x2="1306.3" y2="240.6" stroke="#3a54d0" stroke-width="3.4" stroke-linecap="round"/><line x1="1368.9" y1="267.1" x2="1306.3" y2="240.6" stroke="#6684f0" stroke-width="1.5" stroke-linecap="round"/><line x1="1330.3" y1="317.7" x2="1278.9" y2="369.1" stroke="#2438a8" stroke-width="5.0" stroke-linecap="round"/><line x1="1330.3" y1="317.7" x2="1278.9" y2="369.1" stroke="#3a54d0" stroke-width="3.4" stroke-linecap="round"/><line x1="1330.3" y1="317.7" x2="1278.9" y2="369.1" stroke="#6684f0" stroke-width="1.5" stroke-linecap="round"/><line x1="1330.3" y1="317.7" x2="1373.1" y2="353.7" stroke="#2438a8" stroke-width="5.0" stroke-linecap="round"/><line x1="1330.3" y1="317.7" x2="1373.1" y2="353.7" stroke="#3a54d0" stroke-width="3.4" stroke-linecap="round"/><line x1="1330.3" y1="317.7" x2="1373.1" y2="353.7" stroke="#6684f0" stroke-width="1.5" stroke-linecap="round"/><line x1="1330.3" y1="317.7" x2="1311.4" y2="302.3" stroke="#2438a8" stroke-width="5.0" stroke-linecap="round"/><line x1="1330.3" y1="317.7" x2="1311.4" y2="302.3" stroke="#3a54d0" stroke-width="3.4" stroke-linecap="round"/><line x1="1330.3" y1="317.7" x2="1311.4" y2="302.3" stroke="#6684f0" stroke-width="1.5" stroke-linecap="round"/><line x1="1330.3" y1="317.7" x2="1273.2" y2="366.5" stroke="#2438a8" stroke-width="5.0" stroke-linecap="round"/><line x1="1330.3" y1="317.7" x2="1273.2" y2="366.5" stroke="#3a54d0" stroke-width="3.4" stroke-linecap="round"/><line x1="1330.3" y1="317.7" x2="1273.2" y2="366.5" stroke="#6684f0" stroke-width="1.5" stroke-linecap="round"/><line x1="1330.3" y1="317.7" x2="1397.1" y2="288.6" stroke="#2438a8" stroke-width="5.0" stroke-linecap="round"/><line x1="1330.3" y1="317.7" x2="1397.1" y2="288.6" stroke="#3a54d0" stroke-width="3.4" stroke-linecap="round"/><line x1="1330.3" y1="317.7" x2="1397.1" y2="288.6" stroke="#6684f0" stroke-width="1.5" stroke-linecap="round"/><line x1="1330.3" y1="317.7" x2="1306.3" y2="240.6" stroke="#2438a8" stroke-width="5.0" stroke-linecap="round"/><line x1="1330.3" y1="317.7" x2="1306.3" y2="240.6" stroke="#3a54d0" stroke-width="3.4" stroke-linecap="round"/><line x1="1330.3" y1="317.7" x2="1306.3" y2="240.6" stroke="#6684f0" stroke-width="1.5" stroke-linecap="round"/><line x1="1213.7" y1="321.1" x2="1278.9" y2="369.1" stroke="#2438a8" stroke-width="5.0" stroke-linecap="round"/><line x1="1213.7" y1="321.1" x2="1278.9" y2="369.1" stroke="#3a54d0" stroke-width="3.4" stroke-linecap="round"/><line x1="1213.7" y1="321.1" x2="1278.9" y2="369.1" stroke="#6684f0" stroke-width="1.5" stroke-linecap="round"/><line x1="1213.7" y1="321.1" x2="1235.6" y2="286.2" stroke="#2438a8" stroke-width="5.0" stroke-linecap="round"/><line x1="1213.7" y1="321.1" x2="1235.6" y2="286.2" stroke="#3a54d0" stroke-width="3.4" stroke-linecap="round"/><line x1="1213.7" y1="321.1" x2="1235.6" y2="286.2" stroke="#6684f0" stroke-width="1.5" stroke-linecap="round"/><line x1="1213.7" y1="321.1" x2="1273.2" y2="366.5" stroke="#2438a8" stroke-width="5.0" stroke-linecap="round"/><line x1="1213.7" y1="321.1" x2="1273.2" y2="366.5" stroke="#3a54d0" stroke-width="3.4" stroke-linecap="round"/><line x1="1213.7" y1="321.1" x2="1273.2" y2="366.5" stroke="#6684f0" stroke-width="1.5" stroke-linecap="round"/><line x1="1278.9" y1="369.1" x2="1311.4" y2="302.3" stroke="#2438a8" stroke-width="5.0" stroke-linecap="round"/><line x1="1278.9" y1="369.1" x2="1311.4" y2="302.3" stroke="#3a54d0" stroke-width="3.4" stroke-linecap="round"/><line x1="1278.9" y1="369.1" x2="1311.4" y2="302.3" stroke="#6684f0" stroke-width="1.5" stroke-linecap="round"/><line x1="1278.9" y1="369.1" x2="1213.4" y2="320.4" stroke="#2438a8" stroke-width="5.0" stroke-linecap="round"/><line x1="1278.9" y1="369.1" x2="1213.4" y2="320.4" stroke="#3a54d0" stroke-width="3.4" stroke-linecap="round"/><line x1="1278.9" y1="369.1" x2="1213.4" y2="320.4" stroke="#6684f0" stroke-width="1.5" stroke-linecap="round"/><line x1="1373.1" y1="353.7" x2="1422.9" y2="362.3" stroke="#2438a8" stroke-width="5.0" stroke-linecap="round"/><line x1="1373.1" y1="353.7" x2="1422.9" y2="362.3" stroke="#3a54d0" stroke-width="3.4" stroke-linecap="round"/><line x1="1373.1" y1="353.7" x2="1422.9" y2="362.3" stroke="#6684f0" stroke-width="1.5" stroke-linecap="round"/><line x1="1373.1" y1="353.7" x2="1428.0" y2="324.6" stroke="#2438a8" stroke-width="5.0" stroke-linecap="round"/><line x1="1373.1" y1="353.7" x2="1428.0" y2="324.6" stroke="#3a54d0" stroke-width="3.4" stroke-linecap="round"/><line x1="1373.1" y1="353.7" x2="1428.0" y2="324.6" stroke="#6684f0" stroke-width="1.5" stroke-linecap="round"/><line x1="1373.1" y1="353.7" x2="1311.4" y2="302.3" stroke="#2438a8" stroke-width="5.0" stroke-linecap="round"/><line x1="1373.1" y1="353.7" x2="1311.4" y2="302.3" stroke="#3a54d0" stroke-width="3.4" stroke-linecap="round"/><line x1="1373.1" y1="353.7" x2="1311.4" y2="302.3" stroke="#6684f0" stroke-width="1.5" stroke-linecap="round"/><line x1="1373.1" y1="353.7" x2="1397.1" y2="288.6" stroke="#2438a8" stroke-width="5.0" stroke-linecap="round"/><line x1="1373.1" y1="353.7" x2="1397.1" y2="288.6" stroke="#3a54d0" stroke-width="3.4" stroke-linecap="round"/><line x1="1373.1" y1="353.7" x2="1397.1" y2="288.6" stroke="#6684f0" stroke-width="1.5" stroke-linecap="round"/><line x1="1422.9" y1="362.3" x2="1428.0" y2="324.6" stroke="#2438a8" stroke-width="5.0" stroke-linecap="round"/><line x1="1422.9" y1="362.3" x2="1428.0" y2="324.6" stroke="#3a54d0" stroke-width="3.4" stroke-linecap="round"/><line x1="1422.9" y1="362.3" x2="1428.0" y2="324.6" stroke="#6684f0" stroke-width="1.5" stroke-linecap="round"/><line x1="1422.9" y1="362.3" x2="1397.1" y2="288.6" stroke="#2438a8" stroke-width="5.0" stroke-linecap="round"/><line x1="1422.9" y1="362.3" x2="1397.1" y2="288.6" stroke="#3a54d0" stroke-width="3.4" stroke-linecap="round"/><line x1="1422.9" y1="362.3" x2="1397.1" y2="288.6" stroke="#6684f0" stroke-width="1.5" stroke-linecap="round"/><line x1="1428.0" y1="324.6" x2="1397.1" y2="288.6" stroke="#2438a8" stroke-width="5.0" stroke-linecap="round"/><line x1="1428.0" y1="324.6" x2="1397.1" y2="288.6" stroke="#3a54d0" stroke-width="3.4" stroke-linecap="round"/><line x1="1428.0" y1="324.6" x2="1397.1" y2="288.6" stroke="#6684f0" stroke-width="1.5" stroke-linecap="round"/><line x1="1311.4" y1="302.3" x2="1235.6" y2="286.2" stroke="#2438a8" stroke-width="5.0" stroke-linecap="round"/><line x1="1311.4" y1="302.3" x2="1235.6" y2="286.2" stroke="#3a54d0" stroke-width="3.4" stroke-linecap="round"/><line x1="1311.4" y1="302.3" x2="1235.6" y2="286.2" stroke="#6684f0" stroke-width="1.5" stroke-linecap="round"/><line x1="1311.4" y1="302.3" x2="1273.2" y2="366.5" stroke="#2438a8" stroke-width="5.0" stroke-linecap="round"/><line x1="1311.4" y1="302.3" x2="1273.2" y2="366.5" stroke="#3a54d0" stroke-width="3.4" stroke-linecap="round"/><line x1="1311.4" y1="302.3" x2="1273.2" y2="366.5" stroke="#6684f0" stroke-width="1.5" stroke-linecap="round"/><line x1="1311.4" y1="302.3" x2="1306.3" y2="240.6" stroke="#2438a8" stroke-width="5.0" stroke-linecap="round"/><line x1="1311.4" y1="302.3" x2="1306.3" y2="240.6" stroke="#3a54d0" stroke-width="3.4" stroke-linecap="round"/><line x1="1311.4" y1="302.3" x2="1306.3" y2="240.6" stroke="#6684f0" stroke-width="1.5" stroke-linecap="round"/><line x1="1230.9" y1="172.0" x2="1256.1" y2="211.1" stroke="#2438a8" stroke-width="5.0" stroke-linecap="round"/><line x1="1230.9" y1="172.0" x2="1256.1" y2="211.1" stroke="#3a54d0" stroke-width="3.4" stroke-linecap="round"/><line x1="1230.9" y1="172.0" x2="1256.1" y2="211.1" stroke="#6684f0" stroke-width="1.5" stroke-linecap="round"/><line x1="1230.9" y1="172.0" x2="1227.0" y2="233.3" stroke="#2438a8" stroke-width="5.0" stroke-linecap="round"/><line x1="1230.9" y1="172.0" x2="1227.0" y2="233.3" stroke="#3a54d0" stroke-width="3.4" stroke-linecap="round"/><line x1="1230.9" y1="172.0" x2="1227.0" y2="233.3" stroke="#6684f0" stroke-width="1.5" stroke-linecap="round"/><line x1="1227.0" y1="171.8" x2="1256.1" y2="211.1" stroke="#2438a8" stroke-width="5.0" stroke-linecap="round"/><line x1="1227.0" y1="171.8" x2="1256.1" y2="211.1" stroke="#3a54d0" stroke-width="3.4" stroke-linecap="round"/><line x1="1227.0" y1="171.8" x2="1256.1" y2="211.1" stroke="#6684f0" stroke-width="1.5" stroke-linecap="round"/><line x1="1227.0" y1="171.8" x2="1227.0" y2="233.3" stroke="#2438a8" stroke-width="5.0" stroke-linecap="round"/><line x1="1227.0" y1="171.8" x2="1227.0" y2="233.3" stroke="#3a54d0" stroke-width="3.4" stroke-linecap="round"/><line x1="1227.0" y1="171.8" x2="1227.0" y2="233.3" stroke="#6684f0" stroke-width="1.5" stroke-linecap="round"/><line x1="1213.4" y1="320.4" x2="1235.6" y2="286.2" stroke="#2438a8" stroke-width="5.0" stroke-linecap="round"/><line x1="1213.4" y1="320.4" x2="1235.6" y2="286.2" stroke="#3a54d0" stroke-width="3.4" stroke-linecap="round"/><line x1="1213.4" y1="320.4" x2="1235.6" y2="286.2" stroke="#6684f0" stroke-width="1.5" stroke-linecap="round"/><line x1="1213.4" y1="320.4" x2="1273.2" y2="366.5" stroke="#2438a8" stroke-width="5.0" stroke-linecap="round"/><line x1="1213.4" y1="320.4" x2="1273.2" y2="366.5" stroke="#3a54d0" stroke-width="3.4" stroke-linecap="round"/><line x1="1213.4" y1="320.4" x2="1273.2" y2="366.5" stroke="#6684f0" stroke-width="1.5" stroke-linecap="round"/><line x1="1256.1" y1="211.1" x2="1227.0" y2="233.3" stroke="#2438a8" stroke-width="5.0" stroke-linecap="round"/><line x1="1256.1" y1="211.1" x2="1227.0" y2="233.3" stroke="#3a54d0" stroke-width="3.4" stroke-linecap="round"/><line x1="1256.1" y1="211.1" x2="1227.0" y2="233.3" stroke="#6684f0" stroke-width="1.5" stroke-linecap="round"/><line x1="1256.1" y1="211.1" x2="1235.6" y2="286.2" stroke="#2438a8" stroke-width="5.0" stroke-linecap="round"/><line x1="1256.1" y1="211.1" x2="1235.6" y2="286.2" stroke="#3a54d0" stroke-width="3.4" stroke-linecap="round"/><line x1="1256.1" y1="211.1" x2="1235.6" y2="286.2" stroke="#6684f0" stroke-width="1.5" stroke-linecap="round"/><line x1="1256.1" y1="211.1" x2="1306.3" y2="240.6" stroke="#2438a8" stroke-width="5.0" stroke-linecap="round"/><line x1="1256.1" y1="211.1" x2="1306.3" y2="240.6" stroke="#3a54d0" stroke-width="3.4" stroke-linecap="round"/><line x1="1256.1" y1="211.1" x2="1306.3" y2="240.6" stroke="#6684f0" stroke-width="1.5" stroke-linecap="round"/><line x1="1227.0" y1="233.3" x2="1235.6" y2="286.2" stroke="#2438a8" stroke-width="5.0" stroke-linecap="round"/><line x1="1227.0" y1="233.3" x2="1235.6" y2="286.2" stroke="#3a54d0" stroke-width="3.4" stroke-linecap="round"/><line x1="1227.0" y1="233.3" x2="1235.6" y2="286.2" stroke="#6684f0" stroke-width="1.5" stroke-linecap="round"/><line x1="1227.0" y1="233.3" x2="1306.3" y2="240.6" stroke="#2438a8" stroke-width="5.0" stroke-linecap="round"/><line x1="1227.0" y1="233.3" x2="1306.3" y2="240.6" stroke="#3a54d0" stroke-width="3.4" stroke-linecap="round"/><line x1="1227.0" y1="233.3" x2="1306.3" y2="240.6" stroke="#6684f0" stroke-width="1.5" stroke-linecap="round"/><line x1="1235.6" y1="286.2" x2="1306.3" y2="240.6" stroke="#2438a8" stroke-width="5.0" stroke-linecap="round"/><line x1="1235.6" y1="286.2" x2="1306.3" y2="240.6" stroke="#3a54d0" stroke-width="3.4" stroke-linecap="round"/><line x1="1235.6" y1="286.2" x2="1306.3" y2="240.6" stroke="#6684f0" stroke-width="1.5" stroke-linecap="round"/><line x1="1442.6" y1="159.1" x2="1436.1" y2="152.7" stroke="#c00c0c" stroke-width="4.8" stroke-linecap="round"/><line x1="1442.6" y1="159.1" x2="1436.1" y2="152.7" stroke="#ee2020" stroke-width="3.3" stroke-linecap="round"/><line x1="1442.6" y1="159.1" x2="1436.1" y2="152.7" stroke="#ff7060" stroke-width="1.4" stroke-linecap="round"/><line x1="1436.1" y1="152.7" x2="1429.7" y2="146.3" stroke="#2438a8" stroke-width="4.8" stroke-linecap="round"/><line x1="1436.1" y1="152.7" x2="1429.7" y2="146.3" stroke="#3a54d0" stroke-width="3.3" stroke-linecap="round"/><line x1="1436.1" y1="152.7" x2="1429.7" y2="146.3" stroke="#6684f0" stroke-width="1.4" stroke-linecap="round"/><line x1="1442.6" y1="159.1" x2="1456.7" y2="170.7" stroke="#c00c0c" stroke-width="4.8" stroke-linecap="round"/><line x1="1442.6" y1="159.1" x2="1456.7" y2="170.7" stroke="#ee2020" stroke-width="3.3" stroke-linecap="round"/><line x1="1442.6" y1="159.1" x2="1456.7" y2="170.7" stroke="#ff7060" stroke-width="1.4" stroke-linecap="round"/><line x1="1456.7" y1="170.7" x2="1470.9" y2="182.3" stroke="#2438a8" stroke-width="4.8" stroke-linecap="round"/><line x1="1456.7" y1="170.7" x2="1470.9" y2="182.3" stroke="#3a54d0" stroke-width="3.3" stroke-linecap="round"/><line x1="1456.7" y1="170.7" x2="1470.9" y2="182.3" stroke="#6684f0" stroke-width="1.4" stroke-linecap="round"/><line x1="1442.6" y1="159.1" x2="1457.6" y2="185.3" stroke="#c00c0c" stroke-width="4.8" stroke-linecap="round"/><line x1="1442.6" y1="159.1" x2="1457.6" y2="185.3" stroke="#ee2020" stroke-width="3.3" stroke-linecap="round"/><line x1="1442.6" y1="159.1" x2="1457.6" y2="185.3" stroke="#ff7060" stroke-width="1.4" stroke-linecap="round"/><line x1="1457.6" y1="185.3" x2="1472.6" y2="211.4" stroke="#2438a8" stroke-width="4.8" stroke-linecap="round"/><line x1="1457.6" y1="185.3" x2="1472.6" y2="211.4" stroke="#3a54d0" stroke-width="3.3" stroke-linecap="round"/><line x1="1457.6" y1="185.3" x2="1472.6" y2="211.4" stroke="#6684f0" stroke-width="1.4" stroke-linecap="round"/><line x1="1338.9" y1="213.1" x2="1338.0" y2="208.0" stroke="#c00c0c" stroke-width="4.8" stroke-linecap="round"/><line x1="1338.9" y1="213.1" x2="1338.0" y2="208.0" stroke="#ee2020" stroke-width="3.3" stroke-linecap="round"/><line x1="1338.9" y1="213.1" x2="1338.0" y2="208.0" stroke="#ff7060" stroke-width="1.4" stroke-linecap="round"/><line x1="1338.0" y1="208.0" x2="1337.1" y2="202.9" stroke="#2438a8" stroke-width="4.8" stroke-linecap="round"/><line x1="1338.0" y1="208.0" x2="1337.1" y2="202.9" stroke="#3a54d0" stroke-width="3.3" stroke-linecap="round"/><line x1="1338.0" y1="208.0" x2="1337.1" y2="202.9" stroke="#6684f0" stroke-width="1.4" stroke-linecap="round"/><line x1="1338.9" y1="213.1" x2="1322.6" y2="226.9" stroke="#c00c0c" stroke-width="4.8" stroke-linecap="round"/><line x1="1338.9" y1="213.1" x2="1322.6" y2="226.9" stroke="#ee2020" stroke-width="3.3" stroke-linecap="round"/><line x1="1338.9" y1="213.1" x2="1322.6" y2="226.9" stroke="#ff7060" stroke-width="1.4" stroke-linecap="round"/><line x1="1322.6" y1="226.9" x2="1306.3" y2="240.6" stroke="#2438a8" stroke-width="4.8" stroke-linecap="round"/><line x1="1322.6" y1="226.9" x2="1306.3" y2="240.6" stroke="#3a54d0" stroke-width="3.3" stroke-linecap="round"/><line x1="1322.6" y1="226.9" x2="1306.3" y2="240.6" stroke="#6684f0" stroke-width="1.4" stroke-linecap="round"/><line x1="1338.9" y1="213.1" x2="1320.4" y2="200.3" stroke="#c00c0c" stroke-width="4.8" stroke-linecap="round"/><line x1="1338.9" y1="213.1" x2="1320.4" y2="200.3" stroke="#ee2020" stroke-width="3.3" stroke-linecap="round"/><line x1="1338.9" y1="213.1" x2="1320.4" y2="200.3" stroke="#ff7060" stroke-width="1.4" stroke-linecap="round"/><line x1="1320.4" y1="200.3" x2="1302.0" y2="187.4" stroke="#2438a8" stroke-width="4.8" stroke-linecap="round"/><line x1="1320.4" y1="200.3" x2="1302.0" y2="187.4" stroke="#3a54d0" stroke-width="3.3" stroke-linecap="round"/><line x1="1320.4" y1="200.3" x2="1302.0" y2="187.4" stroke="#6684f0" stroke-width="1.4" stroke-linecap="round"/><line x1="1279.7" y1="138.6" x2="1290.9" y2="163.0" stroke="#c00c0c" stroke-width="4.8" stroke-linecap="round"/><line x1="1279.7" y1="138.6" x2="1290.9" y2="163.0" stroke="#ee2020" stroke-width="3.3" stroke-linecap="round"/><line x1="1279.7" y1="138.6" x2="1290.9" y2="163.0" stroke="#ff7060" stroke-width="1.4" stroke-linecap="round"/><line x1="1290.9" y1="163.0" x2="1302.0" y2="187.4" stroke="#2438a8" stroke-width="4.8" stroke-linecap="round"/><line x1="1290.9" y1="163.0" x2="1302.0" y2="187.4" stroke="#3a54d0" stroke-width="3.3" stroke-linecap="round"/><line x1="1290.9" y1="163.0" x2="1302.0" y2="187.4" stroke="#6684f0" stroke-width="1.4" stroke-linecap="round"/><line x1="1279.7" y1="138.6" x2="1255.3" y2="155.3" stroke="#c00c0c" stroke-width="4.8" stroke-linecap="round"/><line x1="1279.7" y1="138.6" x2="1255.3" y2="155.3" stroke="#ee2020" stroke-width="3.3" stroke-linecap="round"/><line x1="1279.7" y1="138.6" x2="1255.3" y2="155.3" stroke="#ff7060" stroke-width="1.4" stroke-linecap="round"/><line x1="1255.3" y1="155.3" x2="1230.9" y2="172.0" stroke="#2438a8" stroke-width="4.8" stroke-linecap="round"/><line x1="1255.3" y1="155.3" x2="1230.9" y2="172.0" stroke="#3a54d0" stroke-width="3.3" stroke-linecap="round"/><line x1="1255.3" y1="155.3" x2="1230.9" y2="172.0" stroke="#6684f0" stroke-width="1.4" stroke-linecap="round"/><line x1="1279.7" y1="138.6" x2="1253.4" y2="155.2" stroke="#c00c0c" stroke-width="4.8" stroke-linecap="round"/><line x1="1279.7" y1="138.6" x2="1253.4" y2="155.2" stroke="#ee2020" stroke-width="3.3" stroke-linecap="round"/><line x1="1279.7" y1="138.6" x2="1253.4" y2="155.2" stroke="#ff7060" stroke-width="1.4" stroke-linecap="round"/><line x1="1253.4" y1="155.2" x2="1227.0" y2="171.8" stroke="#2438a8" stroke-width="4.8" stroke-linecap="round"/><line x1="1253.4" y1="155.2" x2="1227.0" y2="171.8" stroke="#3a54d0" stroke-width="3.3" stroke-linecap="round"/><line x1="1253.4" y1="155.2" x2="1227.0" y2="171.8" stroke="#6684f0" stroke-width="1.4" stroke-linecap="round"/><line x1="1309.7" y1="128.3" x2="1329.9" y2="132.1" stroke="#c00c0c" stroke-width="4.8" stroke-linecap="round"/><line x1="1309.7" y1="128.3" x2="1329.9" y2="132.1" stroke="#ee2020" stroke-width="3.3" stroke-linecap="round"/><line x1="1309.7" y1="128.3" x2="1329.9" y2="132.1" stroke="#ff7060" stroke-width="1.4" stroke-linecap="round"/><line x1="1329.9" y1="132.1" x2="1350.0" y2="136.0" stroke="#2438a8" stroke-width="4.8" stroke-linecap="round"/><line x1="1329.9" y1="132.1" x2="1350.0" y2="136.0" stroke="#3a54d0" stroke-width="3.3" stroke-linecap="round"/><line x1="1329.9" y1="132.1" x2="1350.0" y2="136.0" stroke="#6684f0" stroke-width="1.4" stroke-linecap="round"/><line x1="1309.7" y1="128.3" x2="1305.9" y2="157.9" stroke="#c00c0c" stroke-width="4.8" stroke-linecap="round"/><line x1="1309.7" y1="128.3" x2="1305.9" y2="157.9" stroke="#ee2020" stroke-width="3.3" stroke-linecap="round"/><line x1="1309.7" y1="128.3" x2="1305.9" y2="157.9" stroke="#ff7060" stroke-width="1.4" stroke-linecap="round"/><line x1="1305.9" y1="157.9" x2="1302.0" y2="187.4" stroke="#2438a8" stroke-width="4.8" stroke-linecap="round"/><line x1="1305.9" y1="157.9" x2="1302.0" y2="187.4" stroke="#3a54d0" stroke-width="3.3" stroke-linecap="round"/><line x1="1305.9" y1="157.9" x2="1302.0" y2="187.4" stroke="#6684f0" stroke-width="1.4" stroke-linecap="round"/><line x1="1309.7" y1="128.3" x2="1340.6" y2="132.6" stroke="#c00c0c" stroke-width="4.8" stroke-linecap="round"/><line x1="1309.7" y1="128.3" x2="1340.6" y2="132.6" stroke="#ee2020" stroke-width="3.3" stroke-linecap="round"/><line x1="1309.7" y1="128.3" x2="1340.6" y2="132.6" stroke="#ff7060" stroke-width="1.4" stroke-linecap="round"/><line x1="1340.6" y1="132.6" x2="1371.4" y2="136.9" stroke="#2438a8" stroke-width="4.8" stroke-linecap="round"/><line x1="1340.6" y1="132.6" x2="1371.4" y2="136.9" stroke="#3a54d0" stroke-width="3.3" stroke-linecap="round"/><line x1="1340.6" y1="132.6" x2="1371.4" y2="136.9" stroke="#6684f0" stroke-width="1.4" stroke-linecap="round"/><line x1="1429.7" y1="130.9" x2="1429.7" y2="138.6" stroke="#c00c0c" stroke-width="4.8" stroke-linecap="round"/><line x1="1429.7" y1="130.9" x2="1429.7" y2="138.6" stroke="#ee2020" stroke-width="3.3" stroke-linecap="round"/><line x1="1429.7" y1="130.9" x2="1429.7" y2="138.6" stroke="#ff7060" stroke-width="1.4" stroke-linecap="round"/><line x1="1429.7" y1="138.6" x2="1429.7" y2="146.3" stroke="#2438a8" stroke-width="4.8" stroke-linecap="round"/><line x1="1429.7" y1="138.6" x2="1429.7" y2="146.3" stroke="#3a54d0" stroke-width="3.3" stroke-linecap="round"/><line x1="1429.7" y1="138.6" x2="1429.7" y2="146.3" stroke="#6684f0" stroke-width="1.4" stroke-linecap="round"/><line x1="1429.7" y1="130.9" x2="1400.6" y2="133.9" stroke="#c00c0c" stroke-width="4.8" stroke-linecap="round"/><line x1="1429.7" y1="130.9" x2="1400.6" y2="133.9" stroke="#ee2020" stroke-width="3.3" stroke-linecap="round"/><line x1="1429.7" y1="130.9" x2="1400.6" y2="133.9" stroke="#ff7060" stroke-width="1.4" stroke-linecap="round"/><line x1="1400.6" y1="133.9" x2="1371.4" y2="136.9" stroke="#2438a8" stroke-width="4.8" stroke-linecap="round"/><line x1="1400.6" y1="133.9" x2="1371.4" y2="136.9" stroke="#3a54d0" stroke-width="3.3" stroke-linecap="round"/><line x1="1400.6" y1="133.9" x2="1371.4" y2="136.9" stroke="#6684f0" stroke-width="1.4" stroke-linecap="round"/><line x1="1429.7" y1="130.9" x2="1450.3" y2="156.6" stroke="#c00c0c" stroke-width="4.8" stroke-linecap="round"/><line x1="1429.7" y1="130.9" x2="1450.3" y2="156.6" stroke="#ee2020" stroke-width="3.3" stroke-linecap="round"/><line x1="1429.7" y1="130.9" x2="1450.3" y2="156.6" stroke="#ff7060" stroke-width="1.4" stroke-linecap="round"/><line x1="1450.3" y1="156.6" x2="1470.9" y2="182.3" stroke="#2438a8" stroke-width="4.8" stroke-linecap="round"/><line x1="1450.3" y1="156.6" x2="1470.9" y2="182.3" stroke="#3a54d0" stroke-width="3.3" stroke-linecap="round"/><line x1="1450.3" y1="156.6" x2="1470.9" y2="182.3" stroke="#6684f0" stroke-width="1.4" stroke-linecap="round"/><line x1="1517.1" y1="218.3" x2="1518.0" y2="227.7" stroke="#c00c0c" stroke-width="4.8" stroke-linecap="round"/><line x1="1517.1" y1="218.3" x2="1518.0" y2="227.7" stroke="#ee2020" stroke-width="3.3" stroke-linecap="round"/><line x1="1517.1" y1="218.3" x2="1518.0" y2="227.7" stroke="#ff7060" stroke-width="1.4" stroke-linecap="round"/><line x1="1518.0" y1="227.7" x2="1518.9" y2="237.1" stroke="#2438a8" stroke-width="4.8" stroke-linecap="round"/><line x1="1518.0" y1="227.7" x2="1518.9" y2="237.1" stroke="#3a54d0" stroke-width="3.3" stroke-linecap="round"/><line x1="1518.0" y1="227.7" x2="1518.9" y2="237.1" stroke="#6684f0" stroke-width="1.4" stroke-linecap="round"/><line x1="1517.1" y1="218.3" x2="1494.9" y2="214.9" stroke="#c00c0c" stroke-width="4.8" stroke-linecap="round"/><line x1="1517.1" y1="218.3" x2="1494.9" y2="214.9" stroke="#ee2020" stroke-width="3.3" stroke-linecap="round"/><line x1="1517.1" y1="218.3" x2="1494.9" y2="214.9" stroke="#ff7060" stroke-width="1.4" stroke-linecap="round"/><line x1="1494.9" y1="214.9" x2="1472.6" y2="211.4" stroke="#2438a8" stroke-width="4.8" stroke-linecap="round"/><line x1="1494.9" y1="214.9" x2="1472.6" y2="211.4" stroke="#3a54d0" stroke-width="3.3" stroke-linecap="round"/><line x1="1494.9" y1="214.9" x2="1472.6" y2="211.4" stroke="#6684f0" stroke-width="1.4" stroke-linecap="round"/><line x1="1517.1" y1="218.3" x2="1521.4" y2="245.7" stroke="#c00c0c" stroke-width="4.8" stroke-linecap="round"/><line x1="1517.1" y1="218.3" x2="1521.4" y2="245.7" stroke="#ee2020" stroke-width="3.3" stroke-linecap="round"/><line x1="1517.1" y1="218.3" x2="1521.4" y2="245.7" stroke="#ff7060" stroke-width="1.4" stroke-linecap="round"/><line x1="1521.4" y1="245.7" x2="1525.7" y2="273.1" stroke="#2438a8" stroke-width="4.8" stroke-linecap="round"/><line x1="1521.4" y1="245.7" x2="1525.7" y2="273.1" stroke="#3a54d0" stroke-width="3.3" stroke-linecap="round"/><line x1="1521.4" y1="245.7" x2="1525.7" y2="273.1" stroke="#6684f0" stroke-width="1.4" stroke-linecap="round"/><line x1="1333.7" y1="245.7" x2="1320.0" y2="243.1" stroke="#c00c0c" stroke-width="4.8" stroke-linecap="round"/><line x1="1333.7" y1="245.7" x2="1320.0" y2="243.1" stroke="#ee2020" stroke-width="3.3" stroke-linecap="round"/><line x1="1333.7" y1="245.7" x2="1320.0" y2="243.1" stroke="#ff7060" stroke-width="1.4" stroke-linecap="round"/><line x1="1320.0" y1="243.1" x2="1306.3" y2="240.6" stroke="#2438a8" stroke-width="4.8" stroke-linecap="round"/><line x1="1320.0" y1="243.1" x2="1306.3" y2="240.6" stroke="#3a54d0" stroke-width="3.3" stroke-linecap="round"/><line x1="1320.0" y1="243.1" x2="1306.3" y2="240.6" stroke="#6684f0" stroke-width="1.4" stroke-linecap="round"/><line x1="1333.7" y1="245.7" x2="1351.3" y2="256.4" stroke="#c00c0c" stroke-width="4.8" stroke-linecap="round"/><line x1="1333.7" y1="245.7" x2="1351.3" y2="256.4" stroke="#ee2020" stroke-width="3.3" stroke-linecap="round"/><line x1="1333.7" y1="245.7" x2="1351.3" y2="256.4" stroke="#ff7060" stroke-width="1.4" stroke-linecap="round"/><line x1="1351.3" y1="256.4" x2="1368.9" y2="267.1" stroke="#2438a8" stroke-width="4.8" stroke-linecap="round"/><line x1="1351.3" y1="256.4" x2="1368.9" y2="267.1" stroke="#3a54d0" stroke-width="3.3" stroke-linecap="round"/><line x1="1351.3" y1="256.4" x2="1368.9" y2="267.1" stroke="#6684f0" stroke-width="1.4" stroke-linecap="round"/><line x1="1333.7" y1="245.7" x2="1335.4" y2="224.3" stroke="#c00c0c" stroke-width="4.8" stroke-linecap="round"/><line x1="1333.7" y1="245.7" x2="1335.4" y2="224.3" stroke="#ee2020" stroke-width="3.3" stroke-linecap="round"/><line x1="1333.7" y1="245.7" x2="1335.4" y2="224.3" stroke="#ff7060" stroke-width="1.4" stroke-linecap="round"/><line x1="1335.4" y1="224.3" x2="1337.1" y2="202.9" stroke="#2438a8" stroke-width="4.8" stroke-linecap="round"/><line x1="1335.4" y1="224.3" x2="1337.1" y2="202.9" stroke="#3a54d0" stroke-width="3.3" stroke-linecap="round"/><line x1="1335.4" y1="224.3" x2="1337.1" y2="202.9" stroke="#6684f0" stroke-width="1.4" stroke-linecap="round"/><line x1="1381.7" y1="250.9" x2="1375.3" y2="259.0" stroke="#c00c0c" stroke-width="4.8" stroke-linecap="round"/><line x1="1381.7" y1="250.9" x2="1375.3" y2="259.0" stroke="#ee2020" stroke-width="3.3" stroke-linecap="round"/><line x1="1381.7" y1="250.9" x2="1375.3" y2="259.0" stroke="#ff7060" stroke-width="1.4" stroke-linecap="round"/><line x1="1375.3" y1="259.0" x2="1368.9" y2="267.1" stroke="#2438a8" stroke-width="4.8" stroke-linecap="round"/><line x1="1375.3" y1="259.0" x2="1368.9" y2="267.1" stroke="#3a54d0" stroke-width="3.3" stroke-linecap="round"/><line x1="1375.3" y1="259.0" x2="1368.9" y2="267.1" stroke="#6684f0" stroke-width="1.4" stroke-linecap="round"/><line x1="1381.7" y1="250.9" x2="1389.4" y2="269.7" stroke="#c00c0c" stroke-width="4.8" stroke-linecap="round"/><line x1="1381.7" y1="250.9" x2="1389.4" y2="269.7" stroke="#ee2020" stroke-width="3.3" stroke-linecap="round"/><line x1="1381.7" y1="250.9" x2="1389.4" y2="269.7" stroke="#ff7060" stroke-width="1.4" stroke-linecap="round"/><line x1="1389.4" y1="269.7" x2="1397.1" y2="288.6" stroke="#2438a8" stroke-width="4.8" stroke-linecap="round"/><line x1="1389.4" y1="269.7" x2="1397.1" y2="288.6" stroke="#3a54d0" stroke-width="3.3" stroke-linecap="round"/><line x1="1389.4" y1="269.7" x2="1397.1" y2="288.6" stroke="#6684f0" stroke-width="1.4" stroke-linecap="round"/><line x1="1381.7" y1="250.9" x2="1410.9" y2="251.7" stroke="#c00c0c" stroke-width="4.8" stroke-linecap="round"/><line x1="1381.7" y1="250.9" x2="1410.9" y2="251.7" stroke="#ee2020" stroke-width="3.3" stroke-linecap="round"/><line x1="1381.7" y1="250.9" x2="1410.9" y2="251.7" stroke="#ff7060" stroke-width="1.4" stroke-linecap="round"/><line x1="1410.9" y1="251.7" x2="1440.0" y2="252.6" stroke="#2438a8" stroke-width="4.8" stroke-linecap="round"/><line x1="1410.9" y1="251.7" x2="1440.0" y2="252.6" stroke="#3a54d0" stroke-width="3.3" stroke-linecap="round"/><line x1="1410.9" y1="251.7" x2="1440.0" y2="252.6" stroke="#6684f0" stroke-width="1.4" stroke-linecap="round"/><line x1="1262.6" y1="290.3" x2="1271.6" y2="285.1" stroke="#c00c0c" stroke-width="4.8" stroke-linecap="round"/><line x1="1262.6" y1="290.3" x2="1271.6" y2="285.1" stroke="#ee2020" stroke-width="3.3" stroke-linecap="round"/><line x1="1262.6" y1="290.3" x2="1271.6" y2="285.1" stroke="#ff7060" stroke-width="1.4" stroke-linecap="round"/><line x1="1271.6" y1="285.1" x2="1280.6" y2="280.0" stroke="#2438a8" stroke-width="4.8" stroke-linecap="round"/><line x1="1271.6" y1="285.1" x2="1280.6" y2="280.0" stroke="#3a54d0" stroke-width="3.3" stroke-linecap="round"/><line x1="1271.6" y1="285.1" x2="1280.6" y2="280.0" stroke="#6684f0" stroke-width="1.4" stroke-linecap="round"/><line x1="1262.6" y1="290.3" x2="1249.1" y2="288.3" stroke="#c00c0c" stroke-width="4.8" stroke-linecap="round"/><line x1="1262.6" y1="290.3" x2="1249.1" y2="288.3" stroke="#ee2020" stroke-width="3.3" stroke-linecap="round"/><line x1="1262.6" y1="290.3" x2="1249.1" y2="288.3" stroke="#ff7060" stroke-width="1.4" stroke-linecap="round"/><line x1="1249.1" y1="288.3" x2="1235.6" y2="286.2" stroke="#2438a8" stroke-width="4.8" stroke-linecap="round"/><line x1="1249.1" y1="288.3" x2="1235.6" y2="286.2" stroke="#3a54d0" stroke-width="3.3" stroke-linecap="round"/><line x1="1249.1" y1="288.3" x2="1235.6" y2="286.2" stroke="#6684f0" stroke-width="1.4" stroke-linecap="round"/><line x1="1262.6" y1="290.3" x2="1248.4" y2="289.4" stroke="#c00c0c" stroke-width="4.8" stroke-linecap="round"/><line x1="1262.6" y1="290.3" x2="1248.4" y2="289.4" stroke="#ee2020" stroke-width="3.3" stroke-linecap="round"/><line x1="1262.6" y1="290.3" x2="1248.4" y2="289.4" stroke="#ff7060" stroke-width="1.4" stroke-linecap="round"/><line x1="1248.4" y1="289.4" x2="1234.3" y2="288.6" stroke="#2438a8" stroke-width="4.8" stroke-linecap="round"/><line x1="1248.4" y1="289.4" x2="1234.3" y2="288.6" stroke="#3a54d0" stroke-width="3.3" stroke-linecap="round"/><line x1="1248.4" y1="289.4" x2="1234.3" y2="288.6" stroke="#6684f0" stroke-width="1.4" stroke-linecap="round"/><line x1="1408.3" y1="316.0" x2="1418.1" y2="320.3" stroke="#c00c0c" stroke-width="4.8" stroke-linecap="round"/><line x1="1408.3" y1="316.0" x2="1418.1" y2="320.3" stroke="#ee2020" stroke-width="3.3" stroke-linecap="round"/><line x1="1408.3" y1="316.0" x2="1418.1" y2="320.3" stroke="#ff7060" stroke-width="1.4" stroke-linecap="round"/><line x1="1418.1" y1="320.3" x2="1428.0" y2="324.6" stroke="#2438a8" stroke-width="4.8" stroke-linecap="round"/><line x1="1418.1" y1="320.3" x2="1428.0" y2="324.6" stroke="#3a54d0" stroke-width="3.3" stroke-linecap="round"/><line x1="1418.1" y1="320.3" x2="1428.0" y2="324.6" stroke="#6684f0" stroke-width="1.4" stroke-linecap="round"/><line x1="1408.3" y1="316.0" x2="1402.7" y2="302.3" stroke="#c00c0c" stroke-width="4.8" stroke-linecap="round"/><line x1="1408.3" y1="316.0" x2="1402.7" y2="302.3" stroke="#ee2020" stroke-width="3.3" stroke-linecap="round"/><line x1="1408.3" y1="316.0" x2="1402.7" y2="302.3" stroke="#ff7060" stroke-width="1.4" stroke-linecap="round"/><line x1="1402.7" y1="302.3" x2="1397.1" y2="288.6" stroke="#2438a8" stroke-width="4.8" stroke-linecap="round"/><line x1="1402.7" y1="302.3" x2="1397.1" y2="288.6" stroke="#3a54d0" stroke-width="3.3" stroke-linecap="round"/><line x1="1402.7" y1="302.3" x2="1397.1" y2="288.6" stroke="#6684f0" stroke-width="1.4" stroke-linecap="round"/><line x1="1408.3" y1="316.0" x2="1425.0" y2="304.0" stroke="#c00c0c" stroke-width="4.8" stroke-linecap="round"/><line x1="1408.3" y1="316.0" x2="1425.0" y2="304.0" stroke="#ee2020" stroke-width="3.3" stroke-linecap="round"/><line x1="1408.3" y1="316.0" x2="1425.0" y2="304.0" stroke="#ff7060" stroke-width="1.4" stroke-linecap="round"/><line x1="1425.0" y1="304.0" x2="1441.7" y2="292.0" stroke="#2438a8" stroke-width="4.8" stroke-linecap="round"/><line x1="1425.0" y1="304.0" x2="1441.7" y2="292.0" stroke="#3a54d0" stroke-width="3.3" stroke-linecap="round"/><line x1="1425.0" y1="304.0" x2="1441.7" y2="292.0" stroke="#6684f0" stroke-width="1.4" stroke-linecap="round"/><line x1="1234.3" y1="376.0" x2="1253.7" y2="371.3" stroke="#c00c0c" stroke-width="4.8" stroke-linecap="round"/><line x1="1234.3" y1="376.0" x2="1253.7" y2="371.3" stroke="#ee2020" stroke-width="3.3" stroke-linecap="round"/><line x1="1234.3" y1="376.0" x2="1253.7" y2="371.3" stroke="#ff7060" stroke-width="1.4" stroke-linecap="round"/><line x1="1253.7" y1="371.3" x2="1273.2" y2="366.5" stroke="#2438a8" stroke-width="4.8" stroke-linecap="round"/><line x1="1253.7" y1="371.3" x2="1273.2" y2="366.5" stroke="#3a54d0" stroke-width="3.3" stroke-linecap="round"/><line x1="1253.7" y1="371.3" x2="1273.2" y2="366.5" stroke="#6684f0" stroke-width="1.4" stroke-linecap="round"/><line x1="1234.3" y1="376.0" x2="1256.6" y2="372.6" stroke="#c00c0c" stroke-width="4.8" stroke-linecap="round"/><line x1="1234.3" y1="376.0" x2="1256.6" y2="372.6" stroke="#ee2020" stroke-width="3.3" stroke-linecap="round"/><line x1="1234.3" y1="376.0" x2="1256.6" y2="372.6" stroke="#ff7060" stroke-width="1.4" stroke-linecap="round"/><line x1="1256.6" y1="372.6" x2="1278.9" y2="369.1" stroke="#2438a8" stroke-width="4.8" stroke-linecap="round"/><line x1="1256.6" y1="372.6" x2="1278.9" y2="369.1" stroke="#3a54d0" stroke-width="3.3" stroke-linecap="round"/><line x1="1256.6" y1="372.6" x2="1278.9" y2="369.1" stroke="#6684f0" stroke-width="1.4" stroke-linecap="round"/><line x1="1234.3" y1="376.0" x2="1224.0" y2="348.6" stroke="#c00c0c" stroke-width="4.8" stroke-linecap="round"/><line x1="1234.3" y1="376.0" x2="1224.0" y2="348.6" stroke="#ee2020" stroke-width="3.3" stroke-linecap="round"/><line x1="1234.3" y1="376.0" x2="1224.0" y2="348.6" stroke="#ff7060" stroke-width="1.4" stroke-linecap="round"/><line x1="1224.0" y1="348.6" x2="1213.7" y2="321.1" stroke="#2438a8" stroke-width="4.8" stroke-linecap="round"/><line x1="1224.0" y1="348.6" x2="1213.7" y2="321.1" stroke="#3a54d0" stroke-width="3.3" stroke-linecap="round"/><line x1="1224.0" y1="348.6" x2="1213.7" y2="321.1" stroke="#6684f0" stroke-width="1.4" stroke-linecap="round"/><circle cx="1371.4" cy="136.9" r="15.5" fill="url(#aCu)"/><circle cx="1350.0" cy="136.0" r="15.5" fill="url(#aCu)"/><circle cx="1429.7" cy="146.3" r="15.5" fill="url(#aCu)"/><circle cx="1470.9" cy="182.3" r="15.5" fill="url(#aCu)"/><circle cx="1472.6" cy="211.4" r="15.5" fill="url(#aCu)"/><circle cx="1518.9" cy="237.1" r="15.5" fill="url(#aCu)"/><circle cx="1525.7" cy="273.1" r="15.5" fill="url(#aCu)"/><circle cx="1474.3" cy="264.6" r="15.5" fill="url(#aCu)"/><circle cx="1440.0" cy="252.6" r="15.5" fill="url(#aCu)"/><circle cx="1441.7" cy="292.0" r="15.5" fill="url(#aCu)"/><circle cx="1494.9" cy="317.7" r="15.5" fill="url(#aCu)"/><circle cx="1388.6" cy="187.4" r="15.5" fill="url(#aCu)"/><circle cx="1302.0" cy="187.4" r="15.5" fill="url(#aCu)"/><circle cx="1337.1" cy="202.9" r="15.5" fill="url(#aCu)"/><circle cx="1254.9" cy="211.4" r="15.5" fill="url(#aCu)"/><circle cx="1230.9" cy="235.4" r="15.5" fill="url(#aCu)"/><circle cx="1280.6" cy="280.0" r="15.5" fill="url(#aCu)"/><circle cx="1234.3" cy="288.6" r="15.5" fill="url(#aCu)"/><circle cx="1368.9" cy="267.1" r="15.5" fill="url(#aCu)"/><circle cx="1330.3" cy="317.7" r="15.5" fill="url(#aCu)"/><circle cx="1213.7" cy="321.1" r="15.5" fill="url(#aCu)"/><circle cx="1278.9" cy="369.1" r="15.5" fill="url(#aCu)"/><circle cx="1373.1" cy="353.7" r="15.5" fill="url(#aCu)"/><circle cx="1422.9" cy="362.3" r="15.5" fill="url(#aCu)"/><circle cx="1428.0" cy="324.6" r="15.5" fill="url(#aCu)"/><circle cx="1311.4" cy="302.3" r="15.5" fill="url(#aCu)"/><circle cx="1230.9" cy="172.0" r="15.5" fill="url(#aCu)"/><circle cx="1227.0" cy="171.8" r="15.5" fill="url(#aCu)"/><circle cx="1213.4" cy="320.4" r="15.5" fill="url(#aCu)"/><circle cx="1256.1" cy="211.1" r="15.5" fill="url(#aCu)"/><circle cx="1227.0" cy="233.3" r="15.5" fill="url(#aCu)"/><circle cx="1235.6" cy="286.2" r="15.5" fill="url(#aCu)"/><circle cx="1273.2" cy="366.5" r="15.5" fill="url(#aCu)"/><circle cx="1397.1" cy="288.6" r="15.5" fill="url(#aCu)"/><circle cx="1306.3" cy="240.6" r="15.5" fill="url(#aCu)"/><circle cx="1442.6" cy="159.1" r="8.0" fill="url(#aO)"/><circle cx="1338.9" cy="213.1" r="8.0" fill="url(#aO)"/><circle cx="1279.7" cy="138.6" r="8.0" fill="url(#aO)"/><circle cx="1309.7" cy="128.3" r="8.0" fill="url(#aO)"/><circle cx="1429.7" cy="130.9" r="8.0" fill="url(#aO)"/><circle cx="1517.1" cy="218.3" r="8.0" fill="url(#aO)"/><circle cx="1333.7" cy="245.7" r="8.0" fill="url(#aO)"/><circle cx="1381.7" cy="250.9" r="8.0" fill="url(#aO)"/><circle cx="1262.6" cy="290.3" r="8.0" fill="url(#aO)"/><circle cx="1408.3" cy="316.0" r="8.0" fill="url(#aO)"/><circle cx="1234.3" cy="376.0" r="8.0" fill="url(#aO)"/><line x1="990.2" y1="465.5" x2="1023.4" y2="451.7" stroke="#7a4e34" stroke-width="4.6" stroke-linecap="round"/><line x1="990.2" y1="465.5" x2="1023.4" y2="451.7" stroke="#9a6a4c" stroke-width="3.1" stroke-linecap="round"/><line x1="990.2" y1="465.5" x2="1023.4" y2="451.7" stroke="#b98a6a" stroke-width="1.4" stroke-linecap="round"/><line x1="1023.4" y1="451.7" x2="1057.4" y2="446.9" stroke="#7a4e34" stroke-width="4.6" stroke-linecap="round"/><line x1="1023.4" y1="451.7" x2="1057.4" y2="446.9" stroke="#9a6a4c" stroke-width="3.1" stroke-linecap="round"/><line x1="1023.4" y1="451.7" x2="1057.4" y2="446.9" stroke="#b98a6a" stroke-width="1.4" stroke-linecap="round"/><line x1="1057.4" y1="446.9" x2="1092.2" y2="452.5" stroke="#7a4e34" stroke-width="4.6" stroke-linecap="round"/><line x1="1057.4" y1="446.9" x2="1092.2" y2="452.5" stroke="#9a6a4c" stroke-width="3.1" stroke-linecap="round"/><line x1="1057.4" y1="446.9" x2="1092.2" y2="452.5" stroke="#b98a6a" stroke-width="1.4" stroke-linecap="round"/><line x1="1092.2" y1="452.5" x2="1148.0" y2="463.9" stroke="#7a4e34" stroke-width="4.6" stroke-linecap="round"/><line x1="1092.2" y1="452.5" x2="1148.0" y2="463.9" stroke="#9a6a4c" stroke-width="3.1" stroke-linecap="round"/><line x1="1092.2" y1="452.5" x2="1148.0" y2="463.9" stroke="#b98a6a" stroke-width="1.4" stroke-linecap="round"/><line x1="1148.0" y1="463.9" x2="1173.1" y2="464.7" stroke="#7a4e34" stroke-width="4.6" stroke-linecap="round"/><line x1="1148.0" y1="463.9" x2="1173.1" y2="464.7" stroke="#9a6a4c" stroke-width="3.1" stroke-linecap="round"/><line x1="1148.0" y1="463.9" x2="1173.1" y2="464.7" stroke="#b98a6a" stroke-width="1.4" stroke-linecap="round"/><line x1="1173.1" y1="464.7" x2="1216.8" y2="470.3" stroke="#7a4e34" stroke-width="4.6" stroke-linecap="round"/><line x1="1173.1" y1="464.7" x2="1216.8" y2="470.3" stroke="#9a6a4c" stroke-width="3.1" stroke-linecap="round"/><line x1="1173.1" y1="464.7" x2="1216.8" y2="470.3" stroke="#b98a6a" stroke-width="1.4" stroke-linecap="round"/><line x1="1216.8" y1="470.3" x2="1263.8" y2="478.4" stroke="#7a4e34" stroke-width="4.6" stroke-linecap="round"/><line x1="1216.8" y1="470.3" x2="1263.8" y2="478.4" stroke="#9a6a4c" stroke-width="3.1" stroke-linecap="round"/><line x1="1216.8" y1="470.3" x2="1263.8" y2="478.4" stroke="#b98a6a" stroke-width="1.4" stroke-linecap="round"/><line x1="1263.8" y1="478.4" x2="1280.0" y2="486.5" stroke="#7a4e34" stroke-width="4.6" stroke-linecap="round"/><line x1="1263.8" y1="478.4" x2="1280.0" y2="486.5" stroke="#9a6a4c" stroke-width="3.1" stroke-linecap="round"/><line x1="1263.8" y1="478.4" x2="1280.0" y2="486.5" stroke="#b98a6a" stroke-width="1.4" stroke-linecap="round"/><line x1="943.6" y1="443.6" x2="993.4" y2="437.9" stroke="#7a4e34" stroke-width="4.6" stroke-linecap="round"/><line x1="943.6" y1="443.6" x2="993.4" y2="437.9" stroke="#9a6a4c" stroke-width="3.1" stroke-linecap="round"/><line x1="943.6" y1="443.6" x2="993.4" y2="437.9" stroke="#b98a6a" stroke-width="1.4" stroke-linecap="round"/><line x1="993.4" y1="437.9" x2="1057.4" y2="446.9" stroke="#7a4e34" stroke-width="4.6" stroke-linecap="round"/><line x1="993.4" y1="437.9" x2="1057.4" y2="446.9" stroke="#9a6a4c" stroke-width="3.1" stroke-linecap="round"/><line x1="993.4" y1="437.9" x2="1057.4" y2="446.9" stroke="#b98a6a" stroke-width="1.4" stroke-linecap="round"/><line x1="1057.4" y1="446.9" x2="1111.6" y2="425.8" stroke="#7a4e34" stroke-width="4.6" stroke-linecap="round"/><line x1="1057.4" y1="446.9" x2="1111.6" y2="425.8" stroke="#9a6a4c" stroke-width="3.1" stroke-linecap="round"/><line x1="1057.4" y1="446.9" x2="1111.6" y2="425.8" stroke="#b98a6a" stroke-width="1.4" stroke-linecap="round"/><line x1="1092.2" y1="452.5" x2="1116.5" y2="440.4" stroke="#7a4e34" stroke-width="4.6" stroke-linecap="round"/><line x1="1092.2" y1="452.5" x2="1116.5" y2="440.4" stroke="#9a6a4c" stroke-width="3.1" stroke-linecap="round"/><line x1="1092.2" y1="452.5" x2="1116.5" y2="440.4" stroke="#b98a6a" stroke-width="1.4" stroke-linecap="round"/><line x1="1116.5" y1="440.4" x2="1165.0" y2="451.7" stroke="#7a4e34" stroke-width="4.6" stroke-linecap="round"/><line x1="1116.5" y1="440.4" x2="1165.0" y2="451.7" stroke="#9a6a4c" stroke-width="3.1" stroke-linecap="round"/><line x1="1116.5" y1="440.4" x2="1165.0" y2="451.7" stroke="#b98a6a" stroke-width="1.4" stroke-linecap="round"/><line x1="1165.0" y1="451.7" x2="1257.3" y2="469.5" stroke="#7a4e34" stroke-width="4.6" stroke-linecap="round"/><line x1="1165.0" y1="451.7" x2="1257.3" y2="469.5" stroke="#9a6a4c" stroke-width="3.1" stroke-linecap="round"/><line x1="1165.0" y1="451.7" x2="1257.3" y2="469.5" stroke="#b98a6a" stroke-width="1.4" stroke-linecap="round"/><line x1="1148.0" y1="463.9" x2="1145.6" y2="495.4" stroke="#7a4e34" stroke-width="4.6" stroke-linecap="round"/><line x1="1148.0" y1="463.9" x2="1145.6" y2="495.4" stroke="#9a6a4c" stroke-width="3.1" stroke-linecap="round"/><line x1="1148.0" y1="463.9" x2="1145.6" y2="495.4" stroke="#b98a6a" stroke-width="1.4" stroke-linecap="round"/><line x1="1145.6" y1="495.4" x2="1181.2" y2="501.1" stroke="#7a4e34" stroke-width="4.6" stroke-linecap="round"/><line x1="1145.6" y1="495.4" x2="1181.2" y2="501.1" stroke="#9a6a4c" stroke-width="3.1" stroke-linecap="round"/><line x1="1145.6" y1="495.4" x2="1181.2" y2="501.1" stroke="#b98a6a" stroke-width="1.4" stroke-linecap="round"/><line x1="1181.2" y1="501.1" x2="1228.2" y2="496.2" stroke="#7a4e34" stroke-width="4.6" stroke-linecap="round"/><line x1="1181.2" y1="501.1" x2="1228.2" y2="496.2" stroke="#9a6a4c" stroke-width="3.1" stroke-linecap="round"/><line x1="1181.2" y1="501.1" x2="1228.2" y2="496.2" stroke="#b98a6a" stroke-width="1.4" stroke-linecap="round"/><line x1="1228.2" y1="496.2" x2="1263.8" y2="478.4" stroke="#7a4e34" stroke-width="4.6" stroke-linecap="round"/><line x1="1228.2" y1="496.2" x2="1263.8" y2="478.4" stroke="#9a6a4c" stroke-width="3.1" stroke-linecap="round"/><line x1="1228.2" y1="496.2" x2="1263.8" y2="478.4" stroke="#b98a6a" stroke-width="1.4" stroke-linecap="round"/><line x1="1148.9" y1="463.0" x2="1190.1" y2="392.6" stroke="#7a4e34" stroke-width="4.6" stroke-linecap="round"/><line x1="1148.9" y1="463.0" x2="1190.1" y2="392.6" stroke="#9a6a4c" stroke-width="3.1" stroke-linecap="round"/><line x1="1148.9" y1="463.0" x2="1190.1" y2="392.6" stroke="#b98a6a" stroke-width="1.4" stroke-linecap="round"/><line x1="1190.1" y1="392.6" x2="1233.0" y2="396.7" stroke="#7a4e34" stroke-width="4.6" stroke-linecap="round"/><line x1="1190.1" y1="392.6" x2="1233.0" y2="396.7" stroke="#9a6a4c" stroke-width="3.1" stroke-linecap="round"/><line x1="1190.1" y1="392.6" x2="1233.0" y2="396.7" stroke="#b98a6a" stroke-width="1.4" stroke-linecap="round"/><line x1="1233.0" y1="396.7" x2="1280.0" y2="393.4" stroke="#7a4e34" stroke-width="4.6" stroke-linecap="round"/><line x1="1233.0" y1="396.7" x2="1280.0" y2="393.4" stroke="#9a6a4c" stroke-width="3.1" stroke-linecap="round"/><line x1="1233.0" y1="396.7" x2="1280.0" y2="393.4" stroke="#b98a6a" stroke-width="1.4" stroke-linecap="round"/><line x1="1240.0" y1="495.4" x2="1264.3" y2="478.4" stroke="#7a4e34" stroke-width="4.6" stroke-linecap="round"/><line x1="1240.0" y1="495.4" x2="1264.3" y2="478.4" stroke="#9a6a4c" stroke-width="3.1" stroke-linecap="round"/><line x1="1240.0" y1="495.4" x2="1264.3" y2="478.4" stroke="#b98a6a" stroke-width="1.4" stroke-linecap="round"/><line x1="1264.3" y1="478.4" x2="1287.8" y2="500.3" stroke="#7a4e34" stroke-width="4.6" stroke-linecap="round"/><line x1="1264.3" y1="478.4" x2="1287.8" y2="500.3" stroke="#9a6a4c" stroke-width="3.1" stroke-linecap="round"/><line x1="1264.3" y1="478.4" x2="1287.8" y2="500.3" stroke="#b98a6a" stroke-width="1.4" stroke-linecap="round"/><line x1="1287.8" y1="500.3" x2="1324.2" y2="482.5" stroke="#7a4e34" stroke-width="4.6" stroke-linecap="round"/><line x1="1287.8" y1="500.3" x2="1324.2" y2="482.5" stroke="#9a6a4c" stroke-width="3.1" stroke-linecap="round"/><line x1="1287.8" y1="500.3" x2="1324.2" y2="482.5" stroke="#b98a6a" stroke-width="1.4" stroke-linecap="round"/><line x1="1324.2" y1="482.5" x2="1355.8" y2="472.8" stroke="#7a4e34" stroke-width="4.6" stroke-linecap="round"/><line x1="1324.2" y1="482.5" x2="1355.8" y2="472.8" stroke="#9a6a4c" stroke-width="3.1" stroke-linecap="round"/><line x1="1324.2" y1="482.5" x2="1355.8" y2="472.8" stroke="#b98a6a" stroke-width="1.4" stroke-linecap="round"/><line x1="1355.8" y1="472.8" x2="1392.2" y2="465.5" stroke="#7a4e34" stroke-width="4.6" stroke-linecap="round"/><line x1="1355.8" y1="472.8" x2="1392.2" y2="465.5" stroke="#9a6a4c" stroke-width="3.1" stroke-linecap="round"/><line x1="1355.8" y1="472.8" x2="1392.2" y2="465.5" stroke="#b98a6a" stroke-width="1.4" stroke-linecap="round"/><line x1="1392.2" y1="465.5" x2="1439.1" y2="466.3" stroke="#7a4e34" stroke-width="4.6" stroke-linecap="round"/><line x1="1392.2" y1="465.5" x2="1439.1" y2="466.3" stroke="#9a6a4c" stroke-width="3.1" stroke-linecap="round"/><line x1="1392.2" y1="465.5" x2="1439.1" y2="466.3" stroke="#b98a6a" stroke-width="1.4" stroke-linecap="round"/><line x1="1439.1" y1="466.3" x2="1474.8" y2="455.8" stroke="#7a4e34" stroke-width="4.6" stroke-linecap="round"/><line x1="1439.1" y1="466.3" x2="1474.8" y2="455.8" stroke="#9a6a4c" stroke-width="3.1" stroke-linecap="round"/><line x1="1439.1" y1="466.3" x2="1474.8" y2="455.8" stroke="#b98a6a" stroke-width="1.4" stroke-linecap="round"/><line x1="1474.8" y1="455.8" x2="1546.0" y2="451.7" stroke="#7a4e34" stroke-width="4.6" stroke-linecap="round"/><line x1="1474.8" y1="455.8" x2="1546.0" y2="451.7" stroke="#9a6a4c" stroke-width="3.1" stroke-linecap="round"/><line x1="1474.8" y1="455.8" x2="1546.0" y2="451.7" stroke="#b98a6a" stroke-width="1.4" stroke-linecap="round"/><line x1="1392.2" y1="465.5" x2="1418.9" y2="451.7" stroke="#7a4e34" stroke-width="4.6" stroke-linecap="round"/><line x1="1392.2" y1="465.5" x2="1418.9" y2="451.7" stroke="#9a6a4c" stroke-width="3.1" stroke-linecap="round"/><line x1="1392.2" y1="465.5" x2="1418.9" y2="451.7" stroke="#b98a6a" stroke-width="1.4" stroke-linecap="round"/><line x1="1418.9" y1="451.7" x2="1463.4" y2="446.9" stroke="#7a4e34" stroke-width="4.6" stroke-linecap="round"/><line x1="1418.9" y1="451.7" x2="1463.4" y2="446.9" stroke="#9a6a4c" stroke-width="3.1" stroke-linecap="round"/><line x1="1418.9" y1="451.7" x2="1463.4" y2="446.9" stroke="#b98a6a" stroke-width="1.4" stroke-linecap="round"/><line x1="1439.1" y1="466.3" x2="1484.5" y2="493.0" stroke="#7a4e34" stroke-width="4.6" stroke-linecap="round"/><line x1="1439.1" y1="466.3" x2="1484.5" y2="493.0" stroke="#9a6a4c" stroke-width="3.1" stroke-linecap="round"/><line x1="1439.1" y1="466.3" x2="1484.5" y2="493.0" stroke="#b98a6a" stroke-width="1.4" stroke-linecap="round"/><line x1="1484.5" y1="493.0" x2="1541.1" y2="488.9" stroke="#7a4e34" stroke-width="4.6" stroke-linecap="round"/><line x1="1484.5" y1="493.0" x2="1541.1" y2="488.9" stroke="#9a6a4c" stroke-width="3.1" stroke-linecap="round"/><line x1="1484.5" y1="493.0" x2="1541.1" y2="488.9" stroke="#b98a6a" stroke-width="1.4" stroke-linecap="round"/><line x1="1396.2" y1="435.5" x2="1418.9" y2="451.7" stroke="#7a4e34" stroke-width="4.6" stroke-linecap="round"/><line x1="1396.2" y1="435.5" x2="1418.9" y2="451.7" stroke="#9a6a4c" stroke-width="3.1" stroke-linecap="round"/><line x1="1396.2" y1="435.5" x2="1418.9" y2="451.7" stroke="#b98a6a" stroke-width="1.4" stroke-linecap="round"/><circle cx="993.4" cy="437.9" r="9.3" fill="url(#aC)"/><circle cx="1023.4" cy="451.7" r="9.3" fill="url(#aC)"/><circle cx="1057.4" cy="446.9" r="9.3" fill="url(#aC)"/><circle cx="1092.2" cy="452.5" r="9.3" fill="url(#aC)"/><circle cx="1116.5" cy="440.4" r="9.3" fill="url(#aC)"/><circle cx="1111.6" cy="425.8" r="9.3" fill="url(#aC)"/><circle cx="990.2" cy="465.5" r="9.3" fill="url(#aC)"/><circle cx="1148.0" cy="463.9" r="9.3" fill="url(#aC)"/><circle cx="1165.0" cy="451.7" r="9.3" fill="url(#aC)"/><circle cx="1173.1" cy="464.7" r="9.3" fill="url(#aC)"/><circle cx="1216.8" cy="470.3" r="9.3" fill="url(#aC)"/><circle cx="1263.8" cy="478.4" r="9.3" fill="url(#aC)"/><circle cx="1257.3" cy="469.5" r="9.3" fill="url(#aC)"/><circle cx="1145.6" cy="495.4" r="9.3" fill="url(#aC)"/><circle cx="1158.6" cy="492.2" r="9.3" fill="url(#aC)"/><circle cx="1169.9" cy="495.4" r="9.3" fill="url(#aC)"/><circle cx="1181.2" cy="501.1" r="9.3" fill="url(#aC)"/><circle cx="1228.2" cy="496.2" r="9.3" fill="url(#aC)"/><circle cx="1235.5" cy="505.1" r="9.3" fill="url(#aC)"/><circle cx="1190.1" cy="392.6" r="9.3" fill="url(#aC)"/><circle cx="1233.0" cy="396.7" r="9.3" fill="url(#aC)"/><circle cx="954.6" cy="416.1" r="9.3" fill="url(#aC)"/><circle cx="1287.8" cy="500.3" r="9.3" fill="url(#aC)"/><circle cx="1324.2" cy="482.5" r="9.3" fill="url(#aC)"/><circle cx="1355.8" cy="472.8" r="9.3" fill="url(#aC)"/><circle cx="1392.2" cy="465.5" r="9.3" fill="url(#aC)"/><circle cx="1418.9" cy="451.7" r="9.3" fill="url(#aC)"/><circle cx="1406.8" cy="445.2" r="9.3" fill="url(#aC)"/><circle cx="1396.2" cy="435.5" r="9.3" fill="url(#aC)"/><circle cx="1380.9" cy="456.6" r="9.3" fill="url(#aC)"/><circle cx="1439.1" cy="466.3" r="9.3" fill="url(#aC)"/><circle cx="1446.4" cy="471.9" r="9.3" fill="url(#aC)"/><circle cx="1453.7" cy="476.8" r="9.3" fill="url(#aC)"/><circle cx="1461.8" cy="481.7" r="9.3" fill="url(#aC)"/><circle cx="1469.9" cy="485.7" r="9.3" fill="url(#aC)"/><circle cx="1476.4" cy="489.8" r="9.3" fill="url(#aC)"/><circle cx="1484.5" cy="493.0" r="9.3" fill="url(#aC)"/><circle cx="1474.8" cy="455.8" r="9.3" fill="url(#aC)"/><circle cx="1463.4" cy="446.9" r="9.3" fill="url(#aC)"/><circle cx="1541.1" cy="488.9" r="9.3" fill="url(#aC)"/><circle cx="1240.0" cy="505.1" r="9.3" fill="url(#aC)"/><circle cx="1521.7" cy="451.7" r="9.3" fill="url(#aC)"/></g>
<g clip-path="url(#cpB)">
<g filter="url(#goo)" opacity="0.86"><ellipse cx="1095.5" cy="142.7" rx="18.8" ry="20.5" fill="url(#bC)" stroke="#20b0bc" stroke-width="0.8" stroke-opacity="0.6" opacity="1" transform="rotate(-20 1095.5 142.7)"/><ellipse cx="1139.9" cy="168.3" rx="17.1" ry="23.9" fill="url(#bC)" stroke="#20b0bc" stroke-width="0.8" stroke-opacity="0.6" opacity="1" transform="rotate(-15 1139.9 168.3)"/><ellipse cx="1126.2" cy="199.1" rx="17.1" ry="18.8" fill="url(#bC)" stroke="#20b0bc" stroke-width="0.8" stroke-opacity="0.6" opacity="1"/><ellipse cx="1056.2" cy="176.9" rx="6.8" ry="7.7" fill="url(#bC)" stroke="#20b0bc" stroke-width="0.8" stroke-opacity="0.6" opacity="1"/><ellipse cx="996.4" cy="209.3" rx="8.5" ry="9.4" fill="url(#bC)" stroke="#20b0bc" stroke-width="0.8" stroke-opacity="0.6" opacity="1" transform="rotate(30 996.4 209.3)"/><ellipse cx="1035.7" cy="205.9" rx="7.7" ry="10.3" fill="url(#bC)" stroke="#20b0bc" stroke-width="0.8" stroke-opacity="0.6" opacity="1"/><ellipse cx="1080.1" cy="205.9" rx="5.1" ry="10.3" fill="url(#bC)" stroke="#20b0bc" stroke-width="0.8" stroke-opacity="0.6" opacity="1"/><ellipse cx="1071.6" cy="250.3" rx="9.4" ry="15.4" fill="url(#bC)" stroke="#20b0bc" stroke-width="0.8" stroke-opacity="0.6" opacity="1"/><ellipse cx="1098.9" cy="264.0" rx="17.1" ry="15.4" fill="url(#bC)" stroke="#20b0bc" stroke-width="0.8" stroke-opacity="0.6" opacity="1"/><ellipse cx="1127.9" cy="258.9" rx="17.1" ry="15.4" fill="url(#bC)" stroke="#20b0bc" stroke-width="0.8" stroke-opacity="0.6" opacity="1"/><ellipse cx="1042.5" cy="287.9" rx="12.0" ry="12.0" fill="url(#bC)" stroke="#20b0bc" stroke-width="0.8" stroke-opacity="0.6" opacity="1"/><ellipse cx="1020.3" cy="293.1" rx="12.0" ry="8.5" fill="url(#bC)" stroke="#20b0bc" stroke-width="0.8" stroke-opacity="0.6" opacity="1"/><ellipse cx="991.3" cy="349.4" rx="22.2" ry="17.1" fill="url(#bC)" stroke="#20b0bc" stroke-width="0.8" stroke-opacity="0.6" opacity="1"/><ellipse cx="1035.7" cy="352.9" rx="23.9" ry="17.1" fill="url(#bC)" stroke="#20b0bc" stroke-width="0.8" stroke-opacity="0.6" opacity="1"/><ellipse cx="1097.2" cy="347.7" rx="18.8" ry="22.2" fill="url(#bC)" stroke="#20b0bc" stroke-width="0.8" stroke-opacity="0.6" opacity="1"/><ellipse cx="1127.9" cy="366.5" rx="29.0" ry="13.7" fill="url(#bC)" stroke="#20b0bc" stroke-width="0.8" stroke-opacity="0.6" opacity="1"/><ellipse cx="1182.6" cy="166.6" rx="7.7" ry="9.4" fill="url(#bC)" stroke="#20b0bc" stroke-width="0.8" stroke-opacity="0.6" opacity="1"/><ellipse cx="1213.4" cy="315.3" rx="29.0" ry="23.9" fill="url(#bC)" stroke="#20b0bc" stroke-width="0.8" stroke-opacity="0.6" opacity="1"/><ellipse cx="1235.6" cy="233.3" rx="20.5" ry="22.2" fill="url(#bC)" stroke="#20b0bc" stroke-width="0.8" stroke-opacity="0.6" opacity="1"/><ellipse cx="1227.0" cy="168.3" rx="18.8" ry="18.8" fill="url(#bC)" stroke="#20b0bc" stroke-width="0.8" stroke-opacity="0.6" opacity="1"/><ellipse cx="1206.5" cy="257.2" rx="8.5" ry="12.0" fill="url(#bC)" stroke="#20b0bc" stroke-width="0.8" stroke-opacity="0.6" opacity="1"/><ellipse cx="1080.1" cy="327.2" rx="10.3" ry="10.3" fill="url(#bC)" stroke="#20b0bc" stroke-width="0.8" stroke-opacity="0.6" opacity="1"/><ellipse cx="982.7" cy="236.7" rx="7.7" ry="8.5" fill="url(#bC)" stroke="#20b0bc" stroke-width="0.8" stroke-opacity="0.6" opacity="1"/><ellipse cx="1162.1" cy="270.9" rx="12.0" ry="15.4" fill="url(#bC)" stroke="#20b0bc" stroke-width="0.8" stroke-opacity="0.6" opacity="1"/><ellipse cx="1110.8" cy="296.5" rx="10.3" ry="10.3" fill="url(#bC)" stroke="#20b0bc" stroke-width="0.8" stroke-opacity="0.6" opacity="1"/><ellipse cx="958.8" cy="339.2" rx="6.0" ry="6.8" fill="url(#bC)" stroke="#20b0bc" stroke-width="0.8" stroke-opacity="0.6" opacity="1"/><ellipse cx="952.0" cy="311.9" rx="4.3" ry="4.3" fill="url(#bC)" stroke="#20b0bc" stroke-width="0.8" stroke-opacity="0.6" opacity="1"/><ellipse cx="1093.8" cy="410.9" rx="17.1" ry="12.0" fill="url(#bC)" stroke="#20b0bc" stroke-width="0.8" stroke-opacity="0.6" opacity="1"/><ellipse cx="991.3" cy="407.5" rx="10.3" ry="10.3" fill="url(#bC)" stroke="#20b0bc" stroke-width="0.8" stroke-opacity="0.6" opacity="1"/><ellipse cx="1042.5" cy="407.5" rx="25.6" ry="10.3" fill="url(#bC)" stroke="#20b0bc" stroke-width="0.8" stroke-opacity="0.6" opacity="1"/></g>
<g filter="url(#goo)" opacity="0.86"><ellipse cx="1035.7" cy="185.4" rx="8.5" ry="8.5" fill="url(#bY)" stroke="#c8bc10" stroke-width="0.8" stroke-opacity="0.6" opacity="1"/><ellipse cx="1059.6" cy="188.8" rx="10.3" ry="8.5" fill="url(#bY)" stroke="#c8bc10" stroke-width="0.8" stroke-opacity="0.6" opacity="1"/><ellipse cx="1073.3" cy="209.3" rx="6.8" ry="12.0" fill="url(#bY)" stroke="#c8bc10" stroke-width="0.8" stroke-opacity="0.6" opacity="1"/><ellipse cx="1093.8" cy="202.5" rx="8.5" ry="18.8" fill="url(#bY)" stroke="#c8bc10" stroke-width="0.8" stroke-opacity="0.6" opacity="1"/><ellipse cx="996.4" cy="229.8" rx="6.8" ry="9.4" fill="url(#bY)" stroke="#c8bc10" stroke-width="0.8" stroke-opacity="0.6" opacity="1" transform="rotate(-30 996.4 229.8)"/><ellipse cx="979.3" cy="246.9" rx="6.8" ry="6.8" fill="url(#bY)" stroke="#c8bc10" stroke-width="0.8" stroke-opacity="0.6" opacity="1"/><ellipse cx="1011.8" cy="211.1" rx="5.1" ry="5.1" fill="url(#bY)" stroke="#c8bc10" stroke-width="0.8" stroke-opacity="0.6" opacity="1"/><ellipse cx="1127.9" cy="253.8" rx="15.4" ry="20.5" fill="url(#bY)" stroke="#c8bc10" stroke-width="0.8" stroke-opacity="0.6" opacity="1" transform="rotate(30 1127.9 253.8)"/><ellipse cx="1151.9" cy="241.8" rx="10.3" ry="6.8" fill="url(#bY)" stroke="#c8bc10" stroke-width="0.8" stroke-opacity="0.6" opacity="1"/><ellipse cx="1158.7" cy="199.1" rx="10.3" ry="10.3" fill="url(#bY)" stroke="#c8bc10" stroke-width="0.8" stroke-opacity="0.6" opacity="1"/><ellipse cx="1057.9" cy="305.0" rx="22.2" ry="20.5" fill="url(#bY)" stroke="#c8bc10" stroke-width="0.8" stroke-opacity="0.6" opacity="1"/><ellipse cx="974.2" cy="293.1" rx="13.7" ry="8.5" fill="url(#bY)" stroke="#c8bc10" stroke-width="0.8" stroke-opacity="0.6" opacity="1"/><ellipse cx="979.3" cy="335.8" rx="12.0" ry="8.5" fill="url(#bY)" stroke="#c8bc10" stroke-width="0.8" stroke-opacity="0.6" opacity="1"/><ellipse cx="1030.6" cy="264.0" rx="12.0" ry="8.5" fill="url(#bY)" stroke="#c8bc10" stroke-width="0.8" stroke-opacity="0.6" opacity="1"/><ellipse cx="1020.3" cy="311.9" rx="18.8" ry="8.5" fill="url(#bY)" stroke="#c8bc10" stroke-width="0.8" stroke-opacity="0.6" opacity="1"/><ellipse cx="1093.8" cy="313.6" rx="17.1" ry="29.0" fill="url(#bY)" stroke="#c8bc10" stroke-width="0.8" stroke-opacity="0.6" opacity="1" transform="rotate(10 1093.8 313.6)"/><ellipse cx="1124.5" cy="313.6" rx="15.4" ry="13.7" fill="url(#bY)" stroke="#c8bc10" stroke-width="0.8" stroke-opacity="0.6" opacity="1"/><ellipse cx="1165.5" cy="337.5" rx="18.8" ry="8.5" fill="url(#bY)" stroke="#c8bc10" stroke-width="0.8" stroke-opacity="0.6" opacity="1"/><ellipse cx="1110.8" cy="151.3" rx="12.0" ry="12.0" fill="url(#bY)" stroke="#c8bc10" stroke-width="0.8" stroke-opacity="0.6" opacity="1"/><ellipse cx="1151.9" cy="149.5" rx="6.8" ry="10.3" fill="url(#bY)" stroke="#c8bc10" stroke-width="0.8" stroke-opacity="0.6" opacity="1"/><ellipse cx="1004.9" cy="279.4" rx="6.8" ry="6.8" fill="url(#bY)" stroke="#c8bc10" stroke-width="0.8" stroke-opacity="0.6" opacity="1"/><ellipse cx="1213.4" cy="139.3" rx="7.7" ry="6.8" fill="url(#bY)" stroke="#c8bc10" stroke-width="0.8" stroke-opacity="0.6" opacity="1"/><ellipse cx="1235.6" cy="159.8" rx="6.8" ry="12.0" fill="url(#bY)" stroke="#c8bc10" stroke-width="0.8" stroke-opacity="0.6" opacity="1"/><ellipse cx="1237.3" cy="241.8" rx="7.7" ry="10.3" fill="url(#bY)" stroke="#c8bc10" stroke-width="0.8" stroke-opacity="0.6" opacity="1"/><ellipse cx="1220.2" cy="328.9" rx="7.7" ry="10.3" fill="url(#bY)" stroke="#c8bc10" stroke-width="0.8" stroke-opacity="0.6" opacity="1"/><ellipse cx="1247.5" cy="293.1" rx="6.8" ry="8.5" fill="url(#bY)" stroke="#c8bc10" stroke-width="0.8" stroke-opacity="0.6" opacity="1"/><ellipse cx="1273.2" cy="287.9" rx="6.8" ry="7.7" fill="url(#bY)" stroke="#c8bc10" stroke-width="0.8" stroke-opacity="0.6" opacity="1"/><ellipse cx="1278.3" cy="139.3" rx="10.3" ry="10.3" fill="url(#bY)" stroke="#c8bc10" stroke-width="0.8" stroke-opacity="0.6" opacity="1"/><ellipse cx="1230.4" cy="364.8" rx="10.3" ry="8.5" fill="url(#bY)" stroke="#c8bc10" stroke-width="0.8" stroke-opacity="0.6" opacity="1"/><ellipse cx="996.4" cy="366.5" rx="27.3" ry="12.0" fill="url(#bY)" stroke="#c8bc10" stroke-width="0.8" stroke-opacity="0.6" opacity="1"/><ellipse cx="1042.5" cy="376.8" rx="29.0" ry="10.3" fill="url(#bY)" stroke="#c8bc10" stroke-width="0.8" stroke-opacity="0.6" opacity="1" transform="rotate(-8 1042.5 376.8)"/><ellipse cx="974.2" cy="393.9" rx="12.0" ry="20.5" fill="url(#bY)" stroke="#c8bc10" stroke-width="0.8" stroke-opacity="0.6" opacity="1"/><ellipse cx="1102.3" cy="366.5" rx="12.0" ry="6.8" fill="url(#bY)" stroke="#c8bc10" stroke-width="0.8" stroke-opacity="0.6" opacity="1"/><ellipse cx="1073.3" cy="390.4" rx="10.3" ry="8.5" fill="url(#bY)" stroke="#c8bc10" stroke-width="0.8" stroke-opacity="0.6" opacity="1"/></g>
<g filter="url(#goo)" opacity="0.86"><ellipse cx="1285.7" cy="125.7" rx="10.3" ry="8.6" fill="url(#bC)" stroke="#20b0bc" stroke-width="0.8" stroke-opacity="0.6" opacity="1"/><ellipse cx="1306.3" cy="127.4" rx="6.9" ry="6.0" fill="url(#bC)" stroke="#20b0bc" stroke-width="0.8" stroke-opacity="0.6" opacity="1"/><ellipse cx="1242.9" cy="158.3" rx="12.0" ry="13.7" fill="url(#bC)" stroke="#20b0bc" stroke-width="0.8" stroke-opacity="0.6" opacity="1"/><ellipse cx="1229.1" cy="237.1" rx="25.7" ry="22.3" fill="url(#bC)" stroke="#20b0bc" stroke-width="0.8" stroke-opacity="0.6" opacity="1"/><ellipse cx="1330.3" cy="244.0" rx="12.0" ry="8.6" fill="url(#bC)" stroke="#20b0bc" stroke-width="0.8" stroke-opacity="0.6" opacity="1"/><ellipse cx="1325.1" cy="259.4" rx="9.4" ry="7.7" fill="url(#bC)" stroke="#20b0bc" stroke-width="0.8" stroke-opacity="0.6" opacity="1"/><ellipse cx="1388.6" cy="247.4" rx="8.6" ry="6.0" fill="url(#bC)" stroke="#20b0bc" stroke-width="0.8" stroke-opacity="0.6" opacity="1"/><ellipse cx="1254.9" cy="283.4" rx="10.3" ry="8.6" fill="url(#bC)" stroke="#20b0bc" stroke-width="0.8" stroke-opacity="0.6" opacity="1"/><ellipse cx="1220.6" cy="319.4" rx="18.9" ry="22.3" fill="url(#bC)" stroke="#20b0bc" stroke-width="0.8" stroke-opacity="0.6" opacity="1"/><ellipse cx="1409.1" cy="312.6" rx="12.0" ry="10.3" fill="url(#bC)" stroke="#20b0bc" stroke-width="0.8" stroke-opacity="0.6" opacity="1"/><ellipse cx="1316.6" cy="367.4" rx="46.3" ry="25.7" fill="url(#bC)" stroke="#20b0bc" stroke-width="0.8" stroke-opacity="0.6" opacity="1"/><ellipse cx="1292.6" cy="340.0" rx="22.3" ry="15.4" fill="url(#bC)" stroke="#20b0bc" stroke-width="0.8" stroke-opacity="0.6" opacity="1"/><ellipse cx="1482.9" cy="346.9" rx="32.6" ry="15.4" fill="url(#bC)" stroke="#20b0bc" stroke-width="0.8" stroke-opacity="0.6" opacity="1"/><ellipse cx="1501.7" cy="388.0" rx="42.9" ry="22.3" fill="url(#bC)" stroke="#20b0bc" stroke-width="0.8" stroke-opacity="0.6" opacity="1"/><ellipse cx="1419.4" cy="391.4" rx="20.6" ry="10.3" fill="url(#bC)" stroke="#20b0bc" stroke-width="0.8" stroke-opacity="0.6" opacity="1"/><ellipse cx="1234.3" cy="367.4" rx="17.1" ry="8.6" fill="url(#bC)" stroke="#20b0bc" stroke-width="0.8" stroke-opacity="0.6" opacity="1"/><ellipse cx="1380.0" cy="384.6" rx="13.7" ry="10.3" fill="url(#bC)" stroke="#20b0bc" stroke-width="0.8" stroke-opacity="0.6" opacity="1"/><ellipse cx="1422.9" cy="343.4" rx="15.4" ry="8.6" fill="url(#bC)" stroke="#20b0bc" stroke-width="0.8" stroke-opacity="0.6" opacity="1"/></g>
<g filter="url(#goo)" opacity="0.86"><ellipse cx="1278.9" cy="139.4" rx="11.1" ry="10.3" fill="url(#bY)" stroke="#c8bc10" stroke-width="0.8" stroke-opacity="0.6" opacity="1"/><ellipse cx="1234.3" cy="156.6" rx="7.7" ry="12.0" fill="url(#bY)" stroke="#c8bc10" stroke-width="0.8" stroke-opacity="0.6" opacity="1"/><ellipse cx="1218.9" cy="141.1" rx="6.9" ry="6.0" fill="url(#bY)" stroke="#c8bc10" stroke-width="0.8" stroke-opacity="0.6" opacity="1"/><ellipse cx="1320.0" cy="185.7" rx="6.9" ry="8.6" fill="url(#bY)" stroke="#c8bc10" stroke-width="0.8" stroke-opacity="0.6" opacity="1"/><ellipse cx="1290.9" cy="192.6" rx="6.9" ry="6.0" fill="url(#bY)" stroke="#c8bc10" stroke-width="0.8" stroke-opacity="0.6" opacity="1"/><ellipse cx="1268.6" cy="220.0" rx="6.9" ry="8.6" fill="url(#bY)" stroke="#c8bc10" stroke-width="0.8" stroke-opacity="0.6" opacity="1"/><ellipse cx="1237.7" cy="240.6" rx="8.6" ry="9.4" fill="url(#bY)" stroke="#c8bc10" stroke-width="0.8" stroke-opacity="0.6" opacity="1"/><ellipse cx="1337.1" cy="247.4" rx="12.0" ry="7.7" fill="url(#bY)" stroke="#c8bc10" stroke-width="0.8" stroke-opacity="0.6" opacity="1"/><ellipse cx="1325.1" cy="237.1" rx="6.9" ry="5.1" fill="url(#bY)" stroke="#c8bc10" stroke-width="0.8" stroke-opacity="0.6" opacity="1"/><ellipse cx="1284.0" cy="264.6" rx="8.6" ry="6.9" fill="url(#bY)" stroke="#c8bc10" stroke-width="0.8" stroke-opacity="0.6" opacity="1"/><ellipse cx="1251.4" cy="290.3" rx="8.6" ry="9.4" fill="url(#bY)" stroke="#c8bc10" stroke-width="0.8" stroke-opacity="0.6" opacity="1"/><ellipse cx="1275.4" cy="288.6" rx="8.6" ry="9.4" fill="url(#bY)" stroke="#c8bc10" stroke-width="0.8" stroke-opacity="0.6" opacity="1"/><ellipse cx="1320.0" cy="293.7" rx="10.3" ry="6.9" fill="url(#bY)" stroke="#c8bc10" stroke-width="0.8" stroke-opacity="0.6" opacity="1"/><ellipse cx="1306.3" cy="314.3" rx="13.7" ry="6.9" fill="url(#bY)" stroke="#c8bc10" stroke-width="0.8" stroke-opacity="0.6" opacity="1"/><ellipse cx="1218.9" cy="328.0" rx="8.6" ry="10.3" fill="url(#bY)" stroke="#c8bc10" stroke-width="0.8" stroke-opacity="0.6" opacity="1"/><ellipse cx="1407.4" cy="317.7" rx="10.3" ry="12.0" fill="url(#bY)" stroke="#c8bc10" stroke-width="0.8" stroke-opacity="0.6" opacity="1"/><ellipse cx="1494.9" cy="298.9" rx="10.3" ry="8.6" fill="url(#bY)" stroke="#c8bc10" stroke-width="0.8" stroke-opacity="0.6" opacity="1"/><ellipse cx="1494.9" cy="321.1" rx="15.4" ry="8.6" fill="url(#bY)" stroke="#c8bc10" stroke-width="0.8" stroke-opacity="0.6" opacity="1"/><ellipse cx="1450.3" cy="310.9" rx="6.9" ry="8.6" fill="url(#bY)" stroke="#c8bc10" stroke-width="0.8" stroke-opacity="0.6" opacity="1"/><ellipse cx="1371.4" cy="367.4" rx="25.7" ry="15.4" fill="url(#bY)" stroke="#c8bc10" stroke-width="0.8" stroke-opacity="0.6" opacity="1" transform="rotate(20 1371.4 367.4)"/><ellipse cx="1373.1" cy="345.1" rx="15.4" ry="8.6" fill="url(#bY)" stroke="#c8bc10" stroke-width="0.8" stroke-opacity="0.6" opacity="1"/><ellipse cx="1424.6" cy="360.6" rx="20.6" ry="8.6" fill="url(#bY)" stroke="#c8bc10" stroke-width="0.8" stroke-opacity="0.6" opacity="1"/><ellipse cx="1484.6" cy="372.6" rx="22.3" ry="14.6" fill="url(#bY)" stroke="#c8bc10" stroke-width="0.8" stroke-opacity="0.6" opacity="1"/><ellipse cx="1328.6" cy="391.4" rx="27.4" ry="9.4" fill="url(#bY)" stroke="#c8bc10" stroke-width="0.8" stroke-opacity="0.6" opacity="1"/><ellipse cx="1280.6" cy="374.3" rx="9.4" ry="18.9" fill="url(#bY)" stroke="#c8bc10" stroke-width="0.8" stroke-opacity="0.6" opacity="1" transform="rotate(10 1280.6 374.3)"/><ellipse cx="1225.7" cy="369.1" rx="10.3" ry="10.3" fill="url(#bY)" stroke="#c8bc10" stroke-width="0.8" stroke-opacity="0.6" opacity="1"/><ellipse cx="1239.4" cy="391.4" rx="12.0" ry="8.6" fill="url(#bY)" stroke="#c8bc10" stroke-width="0.8" stroke-opacity="0.6" opacity="1"/><ellipse cx="1388.6" cy="394.9" rx="20.6" ry="13.7" fill="url(#bY)" stroke="#c8bc10" stroke-width="0.8" stroke-opacity="0.6" opacity="1"/></g>
<g filter="url(#goo)" opacity="0.86"><ellipse cx="1030.7" cy="354.6" rx="22.7" ry="14.6" fill="url(#bC)" stroke="#20b0bc" stroke-width="0.8" stroke-opacity="0.6" opacity="1"/><ellipse cx="1122.9" cy="364.3" rx="32.4" ry="14.6" fill="url(#bC)" stroke="#20b0bc" stroke-width="0.8" stroke-opacity="0.6" opacity="1"/><ellipse cx="1098.7" cy="380.5" rx="19.4" ry="9.7" fill="url(#bC)" stroke="#20b0bc" stroke-width="0.8" stroke-opacity="0.6" opacity="1"/><ellipse cx="1035.5" cy="393.4" rx="24.3" ry="16.2" fill="url(#bC)" stroke="#20b0bc" stroke-width="0.8" stroke-opacity="0.6" opacity="1"/><ellipse cx="987.0" cy="383.7" rx="8.1" ry="8.1" fill="url(#bC)" stroke="#20b0bc" stroke-width="0.8" stroke-opacity="0.6" opacity="1"/><ellipse cx="954.6" cy="404.8" rx="9.7" ry="11.3" fill="url(#bC)" stroke="#20b0bc" stroke-width="0.8" stroke-opacity="0.6" opacity="1"/><ellipse cx="1085.7" cy="433.9" rx="27.5" ry="8.9" fill="url(#bC)" stroke="#20b0bc" stroke-width="0.8" stroke-opacity="0.6" opacity="1"/><ellipse cx="1037.1" cy="440.4" rx="14.6" ry="8.1" fill="url(#bC)" stroke="#20b0bc" stroke-width="0.8" stroke-opacity="0.6" opacity="1"/><ellipse cx="1166.7" cy="399.9" rx="16.2" ry="11.3" fill="url(#bC)" stroke="#20b0bc" stroke-width="0.8" stroke-opacity="0.6" opacity="1"/><ellipse cx="1186.1" cy="432.3" rx="17.8" ry="14.6" fill="url(#bC)" stroke="#20b0bc" stroke-width="0.8" stroke-opacity="0.6" opacity="1"/><ellipse cx="1221.7" cy="430.7" rx="14.6" ry="9.7" fill="url(#bC)" stroke="#20b0bc" stroke-width="0.8" stroke-opacity="0.6" opacity="1"/><ellipse cx="1239.5" cy="446.9" rx="14.6" ry="13.0" fill="url(#bC)" stroke="#20b0bc" stroke-width="0.8" stroke-opacity="0.6" opacity="1"/><ellipse cx="957.8" cy="467.9" rx="17.8" ry="17.8" fill="url(#bC)" stroke="#20b0bc" stroke-width="0.8" stroke-opacity="0.6" opacity="1"/><ellipse cx="946.5" cy="511.6" rx="6.5" ry="11.3" fill="url(#bC)" stroke="#20b0bc" stroke-width="0.8" stroke-opacity="0.6" opacity="1"/><ellipse cx="1043.6" cy="474.4" rx="11.3" ry="4.9" fill="url(#bC)" stroke="#20b0bc" stroke-width="0.8" stroke-opacity="0.6" opacity="1"/><ellipse cx="1035.5" cy="463.0" rx="6.5" ry="4.0" fill="url(#bC)" stroke="#20b0bc" stroke-width="0.8" stroke-opacity="0.6" opacity="1"/><ellipse cx="1134.3" cy="464.7" rx="6.5" ry="6.5" fill="url(#bC)" stroke="#20b0bc" stroke-width="0.8" stroke-opacity="0.6" opacity="1"/><ellipse cx="1244.4" cy="487.3" rx="14.6" ry="9.7" fill="url(#bC)" stroke="#20b0bc" stroke-width="0.8" stroke-opacity="0.6" opacity="1"/><ellipse cx="1215.2" cy="474.4" rx="13.0" ry="6.5" fill="url(#bC)" stroke="#20b0bc" stroke-width="0.8" stroke-opacity="0.6" opacity="1"/></g>
<g filter="url(#goo)" opacity="0.86"><ellipse cx="1035.5" cy="370.8" rx="25.9" ry="12.1" fill="url(#bY)" stroke="#c8bc10" stroke-width="0.8" stroke-opacity="0.6" opacity="1"/><ellipse cx="982.1" cy="380.5" rx="17.8" ry="17.8" fill="url(#bY)" stroke="#c8bc10" stroke-width="0.8" stroke-opacity="0.6" opacity="1"/><ellipse cx="977.2" cy="409.6" rx="17.8" ry="19.4" fill="url(#bY)" stroke="#c8bc10" stroke-width="0.8" stroke-opacity="0.6" opacity="1"/><ellipse cx="1016.1" cy="420.9" rx="21.0" ry="19.4" fill="url(#bY)" stroke="#c8bc10" stroke-width="0.8" stroke-opacity="0.6" opacity="1"/><ellipse cx="1058.2" cy="416.1" rx="21.0" ry="19.4" fill="url(#bY)" stroke="#c8bc10" stroke-width="0.8" stroke-opacity="0.6" opacity="1"/><ellipse cx="1090.6" cy="409.6" rx="17.8" ry="16.2" fill="url(#bY)" stroke="#c8bc10" stroke-width="0.8" stroke-opacity="0.6" opacity="1"/><ellipse cx="1122.9" cy="401.5" rx="9.7" ry="13.0" fill="url(#bY)" stroke="#c8bc10" stroke-width="0.8" stroke-opacity="0.6" opacity="1"/><ellipse cx="1142.4" cy="349.7" rx="19.4" ry="13.0" fill="url(#bY)" stroke="#c8bc10" stroke-width="0.8" stroke-opacity="0.6" opacity="1"/><ellipse cx="1174.8" cy="364.3" rx="35.6" ry="29.1" fill="url(#bY)" stroke="#c8bc10" stroke-width="0.8" stroke-opacity="0.6" opacity="1"/><ellipse cx="954.6" cy="435.5" rx="13.0" ry="21.0" fill="url(#bY)" stroke="#c8bc10" stroke-width="0.8" stroke-opacity="0.6" opacity="1"/><ellipse cx="1004.8" cy="451.7" rx="32.4" ry="6.5" fill="url(#bY)" stroke="#c8bc10" stroke-width="0.8" stroke-opacity="0.6" opacity="1" transform="rotate(-5 1004.8 451.7)"/><ellipse cx="1064.7" cy="458.2" rx="17.8" ry="7.3" fill="url(#bY)" stroke="#c8bc10" stroke-width="0.8" stroke-opacity="0.6" opacity="1"/><ellipse cx="1004.8" cy="472.8" rx="13.0" ry="8.1" fill="url(#bY)" stroke="#c8bc10" stroke-width="0.8" stroke-opacity="0.6" opacity="1"/><ellipse cx="962.7" cy="490.6" rx="21.0" ry="7.3" fill="url(#bY)" stroke="#c8bc10" stroke-width="0.8" stroke-opacity="0.6" opacity="1" transform="rotate(-10 962.7 490.6)"/><ellipse cx="1140.8" cy="445.2" rx="9.7" ry="6.5" fill="url(#bY)" stroke="#c8bc10" stroke-width="0.8" stroke-opacity="0.6" opacity="1"/><ellipse cx="1129.4" cy="479.2" rx="9.7" ry="7.3" fill="url(#bY)" stroke="#c8bc10" stroke-width="0.8" stroke-opacity="0.6" opacity="1"/><ellipse cx="1178.0" cy="409.6" rx="11.3" ry="14.6" fill="url(#bY)" stroke="#c8bc10" stroke-width="0.8" stroke-opacity="0.6" opacity="1"/><ellipse cx="1197.4" cy="451.7" rx="17.8" ry="13.0" fill="url(#bY)" stroke="#c8bc10" stroke-width="0.8" stroke-opacity="0.6" opacity="1"/><ellipse cx="1174.8" cy="474.4" rx="13.0" ry="9.7" fill="url(#bY)" stroke="#c8bc10" stroke-width="0.8" stroke-opacity="0.6" opacity="1"/><ellipse cx="1202.3" cy="485.7" rx="19.4" ry="8.1" fill="url(#bY)" stroke="#c8bc10" stroke-width="0.8" stroke-opacity="0.6" opacity="1"/><ellipse cx="1244.4" cy="417.7" rx="17.8" ry="14.6" fill="url(#bY)" stroke="#c8bc10" stroke-width="0.8" stroke-opacity="0.6" opacity="1"/><ellipse cx="1260.6" cy="443.6" rx="17.8" ry="17.8" fill="url(#bY)" stroke="#c8bc10" stroke-width="0.8" stroke-opacity="0.6" opacity="1"/><ellipse cx="1226.6" cy="364.3" rx="8.1" ry="9.7" fill="url(#bY)" stroke="#c8bc10" stroke-width="0.8" stroke-opacity="0.6" opacity="1"/><ellipse cx="1239.5" cy="382.1" rx="8.1" ry="6.5" fill="url(#bY)" stroke="#c8bc10" stroke-width="0.8" stroke-opacity="0.6" opacity="1"/></g>
<g filter="url(#goo)" opacity="0.86"><ellipse cx="1330.7" cy="416.1" rx="43.7" ry="26.7" fill="url(#bC)" stroke="#20b0bc" stroke-width="0.8" stroke-opacity="0.6" opacity="1"/><ellipse cx="1495.8" cy="399.9" rx="44.5" ry="26.7" fill="url(#bC)" stroke="#20b0bc" stroke-width="0.8" stroke-opacity="0.6" opacity="1"/><ellipse cx="1479.6" cy="353.0" rx="32.4" ry="14.6" fill="url(#bC)" stroke="#20b0bc" stroke-width="0.8" stroke-opacity="0.6" opacity="1"/><ellipse cx="1329.0" cy="359.4" rx="37.2" ry="17.8" fill="url(#bC)" stroke="#20b0bc" stroke-width="0.8" stroke-opacity="0.6" opacity="1"/><ellipse cx="1416.5" cy="380.5" rx="32.4" ry="9.7" fill="url(#bC)" stroke="#20b0bc" stroke-width="0.8" stroke-opacity="0.6" opacity="1"/><ellipse cx="1526.6" cy="469.5" rx="21.0" ry="24.3" fill="url(#bC)" stroke="#20b0bc" stroke-width="0.8" stroke-opacity="0.6" opacity="1"/><ellipse cx="1534.7" cy="518.1" rx="13.0" ry="13.0" fill="url(#bC)" stroke="#20b0bc" stroke-width="0.8" stroke-opacity="0.6" opacity="1"/><ellipse cx="1248.1" cy="453.3" rx="11.3" ry="16.2" fill="url(#bC)" stroke="#20b0bc" stroke-width="0.8" stroke-opacity="0.6" opacity="1"/><ellipse cx="1324.2" cy="469.5" rx="24.3" ry="12.1" fill="url(#bC)" stroke="#20b0bc" stroke-width="0.8" stroke-opacity="0.6" opacity="1"/><ellipse cx="1249.7" cy="493.8" rx="13.0" ry="11.3" fill="url(#bC)" stroke="#20b0bc" stroke-width="0.8" stroke-opacity="0.6" opacity="1"/><ellipse cx="1392.2" cy="453.3" rx="4.9" ry="4.0" fill="url(#bC)" stroke="#20b0bc" stroke-width="0.8" stroke-opacity="0.6" opacity="1"/><ellipse cx="1393.8" cy="479.2" rx="4.0" ry="3.2" fill="url(#bC)" stroke="#20b0bc" stroke-width="0.8" stroke-opacity="0.6" opacity="1"/><ellipse cx="1455.3" cy="445.2" rx="4.9" ry="2.4" fill="url(#bC)" stroke="#20b0bc" stroke-width="0.8" stroke-opacity="0.6" opacity="1"/><ellipse cx="1474.8" cy="469.5" rx="4.0" ry="4.0" fill="url(#bC)" stroke="#20b0bc" stroke-width="0.8" stroke-opacity="0.6" opacity="1"/><ellipse cx="1418.1" cy="416.1" rx="13.0" ry="8.1" fill="url(#bC)" stroke="#20b0bc" stroke-width="0.8" stroke-opacity="0.6" opacity="1"/></g>
<g filter="url(#goo)" opacity="0.86"><ellipse cx="1372.8" cy="354.6" rx="25.9" ry="15.4" fill="url(#bY)" stroke="#c8bc10" stroke-width="0.8" stroke-opacity="0.6" opacity="1"/><ellipse cx="1422.9" cy="356.2" rx="20.2" ry="11.3" fill="url(#bY)" stroke="#c8bc10" stroke-width="0.8" stroke-opacity="0.6" opacity="1"/><ellipse cx="1486.1" cy="372.4" rx="21.0" ry="11.3" fill="url(#bY)" stroke="#c8bc10" stroke-width="0.8" stroke-opacity="0.6" opacity="1"/><ellipse cx="1329.0" cy="390.2" rx="25.9" ry="10.5" fill="url(#bY)" stroke="#c8bc10" stroke-width="0.8" stroke-opacity="0.6" opacity="1"/><ellipse cx="1390.6" cy="404.8" rx="18.6" ry="24.3" fill="url(#bY)" stroke="#c8bc10" stroke-width="0.8" stroke-opacity="0.6" opacity="1"/><ellipse cx="1427.8" cy="388.6" rx="24.3" ry="5.7" fill="url(#bY)" stroke="#c8bc10" stroke-width="0.8" stroke-opacity="0.6" opacity="1" transform="rotate(-8 1427.8 388.6)"/><ellipse cx="1330.7" cy="451.7" rx="64.8" ry="8.1" fill="url(#bY)" stroke="#c8bc10" stroke-width="0.8" stroke-opacity="0.6" opacity="1" transform="rotate(-8 1330.7 451.7)"/><ellipse cx="1482.8" cy="433.9" rx="32.4" ry="7.8" fill="url(#bY)" stroke="#c8bc10" stroke-width="0.8" stroke-opacity="0.6" opacity="1" transform="rotate(-5 1482.8 433.9)"/><ellipse cx="1529.8" cy="430.7" rx="17.8" ry="16.2" fill="url(#bY)" stroke="#c8bc10" stroke-width="0.8" stroke-opacity="0.6" opacity="1"/><ellipse cx="1248.1" cy="420.9" rx="16.2" ry="19.4" fill="url(#bY)" stroke="#c8bc10" stroke-width="0.8" stroke-opacity="0.6" opacity="1"/><ellipse cx="1290.2" cy="482.5" rx="14.6" ry="16.2" fill="url(#bY)" stroke="#c8bc10" stroke-width="0.8" stroke-opacity="0.6" opacity="1"/><ellipse cx="1274.0" cy="361.0" rx="9.7" ry="12.1" fill="url(#bY)" stroke="#c8bc10" stroke-width="0.8" stroke-opacity="0.6" opacity="1"/><ellipse cx="1450.5" cy="485.7" rx="4.9" ry="4.9" fill="url(#bY)" stroke="#c8bc10" stroke-width="0.8" stroke-opacity="0.6" opacity="1"/><ellipse cx="1536.3" cy="495.4" rx="11.3" ry="11.3" fill="url(#bY)" stroke="#c8bc10" stroke-width="0.8" stroke-opacity="0.6" opacity="1"/><ellipse cx="1416.5" cy="404.8" rx="6.5" ry="8.1" fill="url(#bY)" stroke="#c8bc10" stroke-width="0.8" stroke-opacity="0.6" opacity="1"/><ellipse cx="1406.8" cy="433.9" rx="4.0" ry="5.7" fill="url(#bY)" stroke="#c8bc10" stroke-width="0.8" stroke-opacity="0.6" opacity="1"/></g>
<g filter="url(#goo)" opacity="0.86"><ellipse cx="1330.7" cy="420.9" rx="38.9" ry="21.0" fill="url(#bC)" stroke="#20b0bc" stroke-width="0.8" stroke-opacity="0.6" opacity="1"/><ellipse cx="1497.4" cy="404.8" rx="40.5" ry="21.0" fill="url(#bC)" stroke="#20b0bc" stroke-width="0.8" stroke-opacity="0.6" opacity="1"/><ellipse cx="1108.6" cy="162.1" rx="6.5" ry="4.2" fill="url(#bC)" stroke="#20b0bc" stroke-width="0.8" stroke-opacity="0.6" opacity="1" transform="rotate(39.0281 1108.6 162.1)"/><ellipse cx="1121.0" cy="170.6" rx="8.7" ry="6.9" fill="url(#bC)" stroke="#20b0bc" stroke-width="0.8" stroke-opacity="0.6" opacity="1" transform="rotate(35.7012 1121.0 170.6)"/><ellipse cx="1164.8" cy="154.8" rx="6.7" ry="4.3" fill="url(#bC)" stroke="#20b0bc" stroke-width="0.8" stroke-opacity="0.6" opacity="1" transform="rotate(5.36411 1164.8 154.8)"/><ellipse cx="1160.2" cy="170.9" rx="8.0" ry="7.5" fill="url(#bC)" stroke="#20b0bc" stroke-width="0.8" stroke-opacity="0.6" opacity="1" transform="rotate(21.9687 1160.2 170.9)"/><ellipse cx="983.0" cy="228.1" rx="7.3" ry="7.8" fill="url(#bC)" stroke="#20b0bc" stroke-width="0.8" stroke-opacity="0.6" opacity="1" transform="rotate(51.5723 983.0 228.1)"/><ellipse cx="975.0" cy="232.7" rx="8.7" ry="6.4" fill="url(#bC)" stroke="#20b0bc" stroke-width="0.8" stroke-opacity="0.6" opacity="1" transform="rotate(59.7737 975.0 232.7)"/><ellipse cx="1085.4" cy="211.1" rx="4.3" ry="7.8" fill="url(#bC)" stroke="#20b0bc" stroke-width="0.8" stroke-opacity="0.6" opacity="1" transform="rotate(11.6406 1085.4 211.1)"/><ellipse cx="1056.8" cy="193.7" rx="8.1" ry="8.3" fill="url(#bC)" stroke="#20b0bc" stroke-width="0.8" stroke-opacity="0.6" opacity="1" transform="rotate(25.0579 1056.8 193.7)"/><ellipse cx="1079.1" cy="275.7" rx="6.1" ry="5.8" fill="url(#bC)" stroke="#20b0bc" stroke-width="0.8" stroke-opacity="0.6" opacity="1" transform="rotate(50.9707 1079.1 275.7)"/><ellipse cx="1101.7" cy="270.9" rx="7.9" ry="8.4" fill="url(#bC)" stroke="#20b0bc" stroke-width="0.8" stroke-opacity="0.6" opacity="1" transform="rotate(71.8086 1101.7 270.9)"/><ellipse cx="1036.7" cy="284.5" rx="4.5" ry="5.8" fill="url(#bC)" stroke="#20b0bc" stroke-width="0.8" stroke-opacity="0.6" opacity="1" transform="rotate(2.29508 1036.7 284.5)"/><ellipse cx="1012.6" cy="294.3" rx="8.2" ry="9.0" fill="url(#bC)" stroke="#20b0bc" stroke-width="0.8" stroke-opacity="0.6" opacity="1" transform="rotate(41.9391 1012.6 294.3)"/><ellipse cx="1071.1" cy="306.7" rx="4.1" ry="6.6" fill="url(#bC)" stroke="#20b0bc" stroke-width="0.8" stroke-opacity="0.6" opacity="1" transform="rotate(88.0651 1071.1 306.7)"/><ellipse cx="1062.2" cy="276.2" rx="7.9" ry="5.6" fill="url(#bC)" stroke="#20b0bc" stroke-width="0.8" stroke-opacity="0.6" opacity="1" transform="rotate(20.0738 1062.2 276.2)"/><ellipse cx="1166.0" cy="261.4" rx="5.3" ry="7.5" fill="url(#bC)" stroke="#20b0bc" stroke-width="0.8" stroke-opacity="0.6" opacity="1" transform="rotate(86.0864 1166.0 261.4)"/><ellipse cx="1153.0" cy="272.6" rx="5.0" ry="5.0" fill="url(#bC)" stroke="#20b0bc" stroke-width="0.8" stroke-opacity="0.6" opacity="1" transform="rotate(56.166 1153.0 272.6)"/><ellipse cx="957.6" cy="320.5" rx="7.9" ry="5.7" fill="url(#bC)" stroke="#20b0bc" stroke-width="0.8" stroke-opacity="0.6" opacity="1" transform="rotate(72.0741 957.6 320.5)"/><ellipse cx="979.4" cy="330.0" rx="4.8" ry="8.5" fill="url(#bC)" stroke="#20b0bc" stroke-width="0.8" stroke-opacity="0.6" opacity="1" transform="rotate(72.5852 979.4 330.0)"/><ellipse cx="1026.4" cy="330.6" rx="6.2" ry="8.4" fill="url(#bC)" stroke="#20b0bc" stroke-width="0.8" stroke-opacity="0.6" opacity="1" transform="rotate(74.354 1026.4 330.6)"/><ellipse cx="1048.3" cy="349.9" rx="4.7" ry="8.6" fill="url(#bC)" stroke="#20b0bc" stroke-width="0.8" stroke-opacity="0.6" opacity="1" transform="rotate(31.8406 1048.3 349.9)"/><ellipse cx="1129.8" cy="363.6" rx="8.0" ry="4.9" fill="url(#bC)" stroke="#20b0bc" stroke-width="0.8" stroke-opacity="0.6" opacity="1" transform="rotate(42.6144 1129.8 363.6)"/><ellipse cx="1127.5" cy="340.4" rx="6.8" ry="5.2" fill="url(#bC)" stroke="#20b0bc" stroke-width="0.8" stroke-opacity="0.6" opacity="1" transform="rotate(24.9225 1127.5 340.4)"/><ellipse cx="976.6" cy="393.7" rx="6.4" ry="8.7" fill="url(#bC)" stroke="#20b0bc" stroke-width="0.8" stroke-opacity="0.6" opacity="1" transform="rotate(62.9296 976.6 393.7)"/><ellipse cx="1002.4" cy="377.7" rx="4.6" ry="6.2" fill="url(#bC)" stroke="#20b0bc" stroke-width="0.8" stroke-opacity="0.6" opacity="1" transform="rotate(6.52915 1002.4 377.7)"/><ellipse cx="1108.9" cy="379.1" rx="8.8" ry="6.0" fill="url(#bC)" stroke="#20b0bc" stroke-width="0.8" stroke-opacity="0.6" opacity="1" transform="rotate(43.8535 1108.9 379.1)"/><ellipse cx="1085.7" cy="393.5" rx="5.6" ry="7.6" fill="url(#bC)" stroke="#20b0bc" stroke-width="0.8" stroke-opacity="0.6" opacity="1" transform="rotate(1.75346 1085.7 393.5)"/><ellipse cx="1166.2" cy="322.3" rx="4.2" ry="7.9" fill="url(#bC)" stroke="#20b0bc" stroke-width="0.8" stroke-opacity="0.6" opacity="1" transform="rotate(24.3401 1166.2 322.3)"/><ellipse cx="1167.2" cy="330.3" rx="6.9" ry="7.5" fill="url(#bC)" stroke="#20b0bc" stroke-width="0.8" stroke-opacity="0.6" opacity="1" transform="rotate(8.0516 1167.2 330.3)"/></g>
<g filter="url(#goo)" opacity="0.86"><ellipse cx="1111.1" cy="164.8" rx="7.3" ry="4.4" fill="url(#bY)" stroke="#c8bc10" stroke-width="0.8" stroke-opacity="0.6" opacity="1" transform="rotate(48.2294 1111.1 164.8)"/><ellipse cx="1130.4" cy="158.3" rx="6.1" ry="8.1" fill="url(#bY)" stroke="#c8bc10" stroke-width="0.8" stroke-opacity="0.6" opacity="1" transform="rotate(11.1422 1130.4 158.3)"/><ellipse cx="1131.0" cy="151.2" rx="8.3" ry="5.4" fill="url(#bY)" stroke="#c8bc10" stroke-width="0.8" stroke-opacity="0.6" opacity="1" transform="rotate(12.983 1131.0 151.2)"/><ellipse cx="1187.9" cy="176.6" rx="8.1" ry="4.9" fill="url(#bY)" stroke="#c8bc10" stroke-width="0.8" stroke-opacity="0.6" opacity="1" transform="rotate(52.344 1187.9 176.6)"/><ellipse cx="1181.4" cy="184.4" rx="6.1" ry="5.6" fill="url(#bY)" stroke="#c8bc10" stroke-width="0.8" stroke-opacity="0.6" opacity="1" transform="rotate(52.7006 1181.4 184.4)"/><ellipse cx="1159.0" cy="159.0" rx="8.4" ry="7.6" fill="url(#bY)" stroke="#c8bc10" stroke-width="0.8" stroke-opacity="0.6" opacity="1" transform="rotate(25.9144 1159.0 159.0)"/><ellipse cx="1010.6" cy="225.7" rx="6.1" ry="7.8" fill="url(#bY)" stroke="#c8bc10" stroke-width="0.8" stroke-opacity="0.6" opacity="1" transform="rotate(13.6786 1010.6 225.7)"/><ellipse cx="1008.0" cy="216.8" rx="7.5" ry="7.0" fill="url(#bY)" stroke="#c8bc10" stroke-width="0.8" stroke-opacity="0.6" opacity="1" transform="rotate(52.1906 1008.0 216.8)"/><ellipse cx="1015.6" cy="234.2" rx="7.2" ry="9.0" fill="url(#bY)" stroke="#c8bc10" stroke-width="0.8" stroke-opacity="0.6" opacity="1" transform="rotate(73.9732 1015.6 234.2)"/><ellipse cx="1074.7" cy="215.1" rx="7.3" ry="4.1" fill="url(#bY)" stroke="#c8bc10" stroke-width="0.8" stroke-opacity="0.6" opacity="1" transform="rotate(41.5526 1074.7 215.1)"/><ellipse cx="1078.6" cy="215.5" rx="8.4" ry="4.4" fill="url(#bY)" stroke="#c8bc10" stroke-width="0.8" stroke-opacity="0.6" opacity="1" transform="rotate(40.4269 1078.6 215.5)"/><ellipse cx="1063.8" cy="207.7" rx="8.4" ry="8.8" fill="url(#bY)" stroke="#c8bc10" stroke-width="0.8" stroke-opacity="0.6" opacity="1" transform="rotate(13.5829 1063.8 207.7)"/><ellipse cx="1087.1" cy="276.5" rx="5.2" ry="6.4" fill="url(#bY)" stroke="#c8bc10" stroke-width="0.8" stroke-opacity="0.6" opacity="1" transform="rotate(53.0211 1087.1 276.5)"/><ellipse cx="1099.8" cy="258.6" rx="6.6" ry="7.1" fill="url(#bY)" stroke="#c8bc10" stroke-width="0.8" stroke-opacity="0.6" opacity="1" transform="rotate(60.858 1099.8 258.6)"/><ellipse cx="1066.5" cy="273.8" rx="4.5" ry="7.2" fill="url(#bY)" stroke="#c8bc10" stroke-width="0.8" stroke-opacity="0.6" opacity="1" transform="rotate(5.6023 1066.5 273.8)"/><ellipse cx="1036.0" cy="290.2" rx="4.8" ry="5.7" fill="url(#bY)" stroke="#c8bc10" stroke-width="0.8" stroke-opacity="0.6" opacity="1" transform="rotate(4.7318 1036.0 290.2)"/><ellipse cx="1035.9" cy="271.9" rx="4.7" ry="5.3" fill="url(#bY)" stroke="#c8bc10" stroke-width="0.8" stroke-opacity="0.6" opacity="1" transform="rotate(31.2651 1035.9 271.9)"/><ellipse cx="1008.1" cy="285.8" rx="4.5" ry="5.7" fill="url(#bY)" stroke="#c8bc10" stroke-width="0.8" stroke-opacity="0.6" opacity="1" transform="rotate(23.8281 1008.1 285.8)"/><ellipse cx="1066.6" cy="281.4" rx="4.1" ry="8.8" fill="url(#bY)" stroke="#c8bc10" stroke-width="0.8" stroke-opacity="0.6" opacity="1" transform="rotate(47.5432 1066.6 281.4)"/><ellipse cx="1073.1" cy="279.0" rx="5.3" ry="5.8" fill="url(#bY)" stroke="#c8bc10" stroke-width="0.8" stroke-opacity="0.6" opacity="1" transform="rotate(15.0338 1073.1 279.0)"/><ellipse cx="1068.6" cy="273.2" rx="8.3" ry="8.0" fill="url(#bY)" stroke="#c8bc10" stroke-width="0.8" stroke-opacity="0.6" opacity="1" transform="rotate(73.65 1068.6 273.2)"/><ellipse cx="1149.2" cy="245.0" rx="6.6" ry="5.8" fill="url(#bY)" stroke="#c8bc10" stroke-width="0.8" stroke-opacity="0.6" opacity="1" transform="rotate(2.60821 1149.2 245.0)"/><ellipse cx="1128.1" cy="265.7" rx="8.9" ry="8.8" fill="url(#bY)" stroke="#c8bc10" stroke-width="0.8" stroke-opacity="0.6" opacity="1" transform="rotate(32.8172 1128.1 265.7)"/><ellipse cx="1168.2" cy="247.2" rx="6.4" ry="7.3" fill="url(#bY)" stroke="#c8bc10" stroke-width="0.8" stroke-opacity="0.6" opacity="1" transform="rotate(71.9679 1168.2 247.2)"/><ellipse cx="989.9" cy="328.0" rx="8.5" ry="7.9" fill="url(#bY)" stroke="#c8bc10" stroke-width="0.8" stroke-opacity="0.6" opacity="1" transform="rotate(67.5126 989.9 328.0)"/><ellipse cx="989.5" cy="315.9" rx="6.0" ry="8.7" fill="url(#bY)" stroke="#c8bc10" stroke-width="0.8" stroke-opacity="0.6" opacity="1" transform="rotate(65.2319 989.5 315.9)"/><ellipse cx="985.9" cy="334.5" rx="8.9" ry="7.3" fill="url(#bY)" stroke="#c8bc10" stroke-width="0.8" stroke-opacity="0.6" opacity="1" transform="rotate(31.5367 985.9 334.5)"/><ellipse cx="1035.6" cy="330.2" rx="4.1" ry="8.9" fill="url(#bY)" stroke="#c8bc10" stroke-width="0.8" stroke-opacity="0.6" opacity="1" transform="rotate(58.4707 1035.6 330.2)"/><ellipse cx="1053.2" cy="347.8" rx="5.5" ry="5.2" fill="url(#bY)" stroke="#c8bc10" stroke-width="0.8" stroke-opacity="0.6" opacity="1" transform="rotate(52.7793 1053.2 347.8)"/><ellipse cx="1030.6" cy="338.6" rx="8.5" ry="6.1" fill="url(#bY)" stroke="#c8bc10" stroke-width="0.8" stroke-opacity="0.6" opacity="1" transform="rotate(82.5949 1030.6 338.6)"/><ellipse cx="1105.7" cy="352.7" rx="6.6" ry="4.1" fill="url(#bY)" stroke="#c8bc10" stroke-width="0.8" stroke-opacity="0.6" opacity="1" transform="rotate(39.6112 1105.7 352.7)"/><ellipse cx="1121.5" cy="335.9" rx="5.6" ry="6.6" fill="url(#bY)" stroke="#c8bc10" stroke-width="0.8" stroke-opacity="0.6" opacity="1" transform="rotate(49.9898 1121.5 335.9)"/><ellipse cx="1127.1" cy="336.3" rx="6.8" ry="7.8" fill="url(#bY)" stroke="#c8bc10" stroke-width="0.8" stroke-opacity="0.6" opacity="1" transform="rotate(82.1239 1127.1 336.3)"/><ellipse cx="976.2" cy="394.9" rx="6.5" ry="6.6" fill="url(#bY)" stroke="#c8bc10" stroke-width="0.8" stroke-opacity="0.6" opacity="1" transform="rotate(62.3458 976.2 394.9)"/><ellipse cx="1011.3" cy="374.0" rx="5.3" ry="6.8" fill="url(#bY)" stroke="#c8bc10" stroke-width="0.8" stroke-opacity="0.6" opacity="1" transform="rotate(84.894 1011.3 374.0)"/><ellipse cx="995.5" cy="401.1" rx="7.3" ry="7.9" fill="url(#bY)" stroke="#c8bc10" stroke-width="0.8" stroke-opacity="0.6" opacity="1" transform="rotate(80.7324 995.5 401.1)"/><ellipse cx="1105.6" cy="397.4" rx="7.3" ry="4.7" fill="url(#bY)" stroke="#c8bc10" stroke-width="0.8" stroke-opacity="0.6" opacity="1" transform="rotate(79.455 1105.6 397.4)"/><ellipse cx="1115.9" cy="380.6" rx="4.8" ry="6.2" fill="url(#bY)" stroke="#c8bc10" stroke-width="0.8" stroke-opacity="0.6" opacity="1" transform="rotate(46.4045 1115.9 380.6)"/><ellipse cx="1076.9" cy="376.6" rx="4.1" ry="5.7" fill="url(#bY)" stroke="#c8bc10" stroke-width="0.8" stroke-opacity="0.6" opacity="1" transform="rotate(56.1534 1076.9 376.6)"/><ellipse cx="1139.9" cy="312.6" rx="8.9" ry="7.9" fill="url(#bY)" stroke="#c8bc10" stroke-width="0.8" stroke-opacity="0.6" opacity="1" transform="rotate(87.4526 1139.9 312.6)"/><ellipse cx="1165.7" cy="325.1" rx="8.6" ry="8.1" fill="url(#bY)" stroke="#c8bc10" stroke-width="0.8" stroke-opacity="0.6" opacity="1" transform="rotate(23.2748 1165.7 325.1)"/><ellipse cx="1172.8" cy="320.1" rx="6.1" ry="4.4" fill="url(#bY)" stroke="#c8bc10" stroke-width="0.8" stroke-opacity="0.6" opacity="1" transform="rotate(84.4515 1172.8 320.1)"/></g>
<g opacity="0.82"><path d="M1192.9 139.3C1197.1 139.0 1204.8 141.9 1209.9 146.1C1215.1 150.4 1220.5 157.8 1223.6 164.9C1226.7 172.0 1228.7 179.2 1228.7 188.8C1228.7 198.5 1227.9 214.2 1223.6 223.0C1219.3 231.8 1207.1 235.8 1203.1 241.8C1199.1 247.8 1200.0 253.8 1199.7 258.9C1199.4 264.0 1203.1 265.4 1201.4 272.6C1199.7 279.7 1192.0 293.3 1189.4 301.6C1186.9 309.9 1185.2 315.3 1186.0 322.1C1186.9 328.9 1193.7 335.8 1194.6 342.6C1195.4 349.4 1194.3 356.8 1191.1 363.1C1188.0 369.4 1181.8 375.4 1175.8 380.2C1169.8 385.0 1160.8 390.7 1155.3 392.2C1149.7 393.6 1144.7 391.9 1142.5 388.7C1140.2 385.6 1141.2 379.3 1141.6 373.4C1142.0 367.4 1143.0 359.1 1145.0 352.9C1147.0 346.6 1151.0 344.6 1153.6 335.8C1156.1 326.9 1157.5 313.0 1160.4 299.9C1163.2 286.8 1167.8 272.0 1170.6 257.2C1173.5 242.4 1175.5 225.9 1177.5 211.1C1179.5 196.2 1181.5 178.9 1182.6 168.3C1183.7 157.8 1182.6 152.7 1184.3 147.8C1186.0 143.0 1188.6 139.6 1192.9 139.3Z" fill="#ece628" stroke="#c8bc10" stroke-width="1"/><path d="M1118.5 151.3C1119.4 148.8 1120.4 140.6 1123.7 136.7C1126.9 132.9 1132.3 130.0 1138.2 128.2C1144.0 126.3 1151.9 125.5 1158.7 125.6C1165.5 125.8 1173.5 127.2 1179.2 129.0C1184.9 130.9 1189.2 133.3 1192.9 136.7C1196.6 140.1 1200.0 147.4 1201.4 149.5" fill="none" stroke="#c8bc10" stroke-width="16" stroke-linecap="round"/><path d="M1118.5 151.3C1119.4 148.8 1120.4 140.6 1123.7 136.7C1126.9 132.9 1132.3 130.0 1138.2 128.2C1144.0 126.3 1151.9 125.5 1158.7 125.6C1165.5 125.8 1173.5 127.2 1179.2 129.0C1184.9 130.9 1189.2 133.3 1192.9 136.7C1196.6 140.1 1200.0 147.4 1201.4 149.5" fill="none" stroke="#ece628" stroke-width="14.4" stroke-linecap="round"/><path d="M1192.9 139.3C1197.1 139.0 1204.8 141.9 1209.9 146.1C1215.1 150.4 1220.5 157.8 1223.6 164.9C1226.7 172.0 1228.7 179.2 1228.7 188.8C1228.7 198.5 1227.9 214.2 1223.6 223.0C1219.3 231.8 1207.1 235.8 1203.1 241.8C1199.1 247.8 1200.0 253.8 1199.7 258.9C1199.4 264.0 1203.1 265.4 1201.4 272.6C1199.7 279.7 1192.0 293.3 1189.4 301.6C1186.9 309.9 1185.2 315.3 1186.0 322.1C1186.9 328.9 1193.7 335.8 1194.6 342.6C1195.4 349.4 1194.3 356.8 1191.1 363.1C1188.0 369.4 1181.8 375.4 1175.8 380.2C1169.8 385.0 1160.8 390.7 1155.3 392.2C1149.7 393.6 1144.7 391.9 1142.5 388.7C1140.2 385.6 1141.2 379.3 1141.6 373.4C1142.0 367.4 1143.0 359.1 1145.0 352.9C1147.0 346.6 1151.0 344.6 1153.6 335.8C1156.1 326.9 1157.5 313.0 1160.4 299.9C1163.2 286.8 1167.8 272.0 1170.6 257.2C1173.5 242.4 1175.5 225.9 1177.5 211.1C1179.5 196.2 1181.5 178.9 1182.6 168.3C1183.7 157.8 1182.6 152.7 1184.3 147.8C1186.0 143.0 1188.6 139.6 1192.9 139.3Z" fill="#ece628"/></g>
</g>
<circle cx="1053.3" cy="496.2" r="13.5" fill="url(#aCl)"/>
<circle cx="1120.5" cy="548.0" r="13.5" fill="url(#aCl)"/>
<circle cx="1173.1" cy="412.0" r="13.5" fill="url(#aCl)"/>
<circle cx="1279.7" cy="423.4" r="13.5" fill="url(#aCl)"/>
<circle cx="1273.2" cy="556.9" r="13.5" fill="url(#aCl)"/>
<circle cx="1145.6" cy="495.4" r="9.3" fill="url(#aC)"/>
<circle cx="1158.6" cy="492.2" r="9.3" fill="url(#aC)"/>
<circle cx="1169.9" cy="495.4" r="9.3" fill="url(#aC)"/>
<circle cx="1181.2" cy="501.1" r="9.3" fill="url(#aC)"/>
<circle cx="1228.2" cy="496.2" r="9.3" fill="url(#aC)"/>
<circle cx="1235.5" cy="505.1" r="9.3" fill="url(#aC)"/>
<circle cx="990.2" cy="465.5" r="9.3" fill="url(#aC)"/>
<circle cx="1023.4" cy="451.7" r="9.3" fill="url(#aC)"/>
<circle cx="1148.0" cy="463.9" r="9.3" fill="url(#aC)"/>
<circle cx="1173.1" cy="464.7" r="9.3" fill="url(#aC)"/>
<circle cx="1216.8" cy="470.3" r="9.3" fill="url(#aC)"/>
<circle cx="1287.8" cy="500.3" r="9.3" fill="url(#aC)"/>
<circle cx="1324.2" cy="482.5" r="9.3" fill="url(#aC)"/>
<circle cx="1355.8" cy="472.8" r="9.3" fill="url(#aC)"/>
<circle cx="1392.2" cy="465.5" r="9.3" fill="url(#aC)"/>
<circle cx="1418.9" cy="451.7" r="9.3" fill="url(#aC)"/>
<circle cx="1439.1" cy="466.3" r="9.3" fill="url(#aC)"/>
<circle cx="1446.4" cy="471.9" r="9.3" fill="url(#aC)"/>
<circle cx="1453.7" cy="476.8" r="9.3" fill="url(#aC)"/>
<circle cx="1461.8" cy="481.7" r="9.3" fill="url(#aC)"/>
<circle cx="1469.9" cy="485.7" r="9.3" fill="url(#aC)"/>
<circle cx="1476.4" cy="489.8" r="9.3" fill="url(#aC)"/>
<circle cx="1484.5" cy="493.0" r="9.3" fill="url(#aC)"/>
<circle cx="1474.8" cy="455.8" r="9.3" fill="url(#aC)"/>
<circle cx="1264.3" cy="478.4" r="9.3" fill="url(#aC)"/>
<circle cx="1371.4" cy="136.9" r="15.5" fill="url(#aCu)"/>
<circle cx="1350.0" cy="136.0" r="15.5" fill="url(#aCu)"/>
<circle cx="1429.7" cy="146.3" r="15.5" fill="url(#aCu)"/>
<circle cx="1470.9" cy="182.3" r="15.5" fill="url(#aCu)"/>
<circle cx="1472.6" cy="211.4" r="15.5" fill="url(#aCu)"/>
<circle cx="1518.9" cy="237.1" r="15.5" fill="url(#aCu)"/>
<circle cx="1525.7" cy="273.1" r="15.5" fill="url(#aCu)"/>
<circle cx="1474.3" cy="264.6" r="15.5" fill="url(#aCu)"/>
<circle cx="1440.0" cy="252.6" r="15.5" fill="url(#aCu)"/>
<circle cx="1441.7" cy="292.0" r="15.5" fill="url(#aCu)"/>
<circle cx="1388.6" cy="187.4" r="15.5" fill="url(#aCu)"/>
<circle cx="1302.0" cy="187.4" r="15.5" fill="url(#aCu)"/>
<circle cx="1337.1" cy="202.9" r="15.5" fill="url(#aCu)"/>
<circle cx="1280.6" cy="280.0" r="15.5" fill="url(#aCu)"/>
<circle cx="1368.9" cy="267.1" r="15.5" fill="url(#aCu)"/>
<circle cx="1397.1" cy="288.6" r="15.5" fill="url(#aCu)"/>
<circle cx="1306.3" cy="240.6" r="15.5" fill="url(#aCu)"/>
<circle cx="1442.6" cy="159.1" r="8.0" fill="url(#aO)"/>
<circle cx="1338.9" cy="213.1" r="8.0" fill="url(#aO)"/>
<circle cx="1279.7" cy="138.6" r="8.0" fill="url(#aO)"/>
<circle cx="1309.7" cy="128.3" r="8.0" fill="url(#aO)"/>
<circle cx="1429.7" cy="130.9" r="8.0" fill="url(#aO)"/>
<circle cx="1517.1" cy="218.3" r="8.0" fill="url(#aO)"/>
<circle cx="1333.7" cy="245.7" r="8.0" fill="url(#aO)"/>
<circle cx="1381.7" cy="250.9" r="8.0" fill="url(#aO)"/>
</g>
</g>
<g id="heat">
<defs><radialGradient id="rg_0000ff"><stop offset="0" stop-color="#0000ff" stop-opacity="1"/><stop offset="0.45" stop-color="#0000ff" stop-opacity="0.85"/><stop offset="1" stop-color="#0000ff" stop-opacity="0"/></radialGradient><radialGradient id="rg_0030ff"><stop offset="0" stop-color="#0030ff" stop-opacity="1"/><stop offset="0.45" stop-color="#0030ff" stop-opacity="0.85"/><stop offset="1" stop-color="#0030ff" stop-opacity="0"/></radialGradient><radialGradient id="rg_0060ff"><stop offset="0" stop-color="#0060ff" stop-opacity="1"/><stop offset="0.45" stop-color="#0060ff" stop-opacity="0.85"/><stop offset="1" stop-color="#0060ff" stop-opacity="0"/></radialGradient><radialGradient id="rg_0090ff"><stop offset="0" stop-color="#0090ff" stop-opacity="1"/><stop offset="0.45" stop-color="#0090ff" stop-opacity="0.85"/><stop offset="1" stop-color="#0090ff" stop-opacity="0"/></radialGradient><radialGradient id="rg_00b4ff"><stop offset="0" stop-color="#00b4ff" stop-opacity="1"/><stop offset="0.45" stop-color="#00b4ff" stop-opacity="0.85"/><stop offset="1" stop-color="#00b4ff" stop-opacity="0"/></radialGradient><radialGradient id="rg_00d8ff"><stop offset="0" stop-color="#00d8ff" stop-opacity="1"/><stop offset="0.45" stop-color="#00d8ff" stop-opacity="0.85"/><stop offset="1" stop-color="#00d8ff" stop-opacity="0"/></radialGradient><radialGradient id="rg_00ffff"><stop offset="0" stop-color="#00ffff" stop-opacity="1"/><stop offset="0.45" stop-color="#00ffff" stop-opacity="0.85"/><stop offset="1" stop-color="#00ffff" stop-opacity="0"/></radialGradient><radialGradient id="rg_00ffb0"><stop offset="0" stop-color="#00ffb0" stop-opacity="1"/><stop offset="0.45" stop-color="#00ffb0" stop-opacity="0.85"/><stop offset="1" stop-color="#00ffb0" stop-opacity="0"/></radialGradient><radialGradient id="rg_00ff20"><stop offset="0" stop-color="#00ff20" stop-opacity="1"/><stop offset="0.45" stop-color="#00ff20" stop-opacity="0.85"/><stop offset="1" stop-color="#00ff20" stop-opacity="0"/></radialGradient><radialGradient id="rg_e0ff00"><stop offset="0" stop-color="#e0ff00" stop-opacity="1"/><stop offset="0.45" stop-color="#e0ff00" stop-opacity="0.85"/><stop offset="1" stop-color="#e0ff00" stop-opacity="0"/></radialGradient><radialGradient id="rg_ff0000"><stop offset="0" stop-color="#ff0000" stop-opacity="1"/><stop offset="0.45" stop-color="#ff0000" stop-opacity="0.85"/><stop offset="1" stop-color="#ff0000" stop-opacity="0"/></radialGradient><radialGradient id="rg_0018ff"><stop offset="0" stop-color="#0018ff" stop-opacity="1"/><stop offset="0.45" stop-color="#0018ff" stop-opacity="0.85"/><stop offset="1" stop-color="#0018ff" stop-opacity="0"/></radialGradient><radialGradient id="rg_a0ffff"><stop offset="0" stop-color="#a0ffff" stop-opacity="1"/><stop offset="0.45" stop-color="#a0ffff" stop-opacity="0.85"/><stop offset="1" stop-color="#a0ffff" stop-opacity="0"/></radialGradient></defs>
<clipPath id="cp1"><rect x="1659.3" y="43.2" width="613.3" height="498.3"/></clipPath><filter id="bl1" x="-10%" y="-10%" width="120%" height="120%"><feGaussianBlur stdDeviation="7"/></filter><g clip-path="url(#cp1)"><rect x="1659.3" y="43.2" width="613.3" height="498.3" fill="#0068ff"/><g filter="url(#bl1)"><rect x="1619.3" y="3.2" width="693.3" height="578.3" fill="#0068ff"/><ellipse cx="1955.8" cy="300.6" rx="314.5" ry="284.1" fill="url(#rg_00b4ff)" opacity="0.9"/>
<ellipse cx="1918.2" cy="225.5" rx="202.9" ry="177.6" fill="url(#rg_00b4ff)" opacity="0.6"/>
<ellipse cx="2049.7" cy="432.1" rx="213.1" ry="152.2" fill="url(#rg_00d8ff)" opacity="0.6"/>
<ellipse cx="1677.7" cy="75.2" rx="131.9" ry="111.6" fill="url(#rg_0000ff)" opacity="0.9"/>
<ellipse cx="1666.4" cy="443.4" rx="101.5" ry="86.2" fill="url(#rg_0000ff)" opacity="0.9"/>
<ellipse cx="1790.4" cy="533.6" rx="131.9" ry="45.7" fill="url(#rg_0030ff)" opacity="0.8"/>
<ellipse cx="1782.9" cy="539.2" rx="96.4" ry="22.8" fill="url(#rg_0000ff)" opacity="0.8"/>
<ellipse cx="1824.3" cy="469.7" rx="116.7" ry="55.8" fill="url(#rg_00d8ff)" opacity="0.55"/>
<path d="M2068.5 22.5C2039.1 37.3 2116.1 83.7 2136.2 111.2C2156.2 138.7 2175.0 159.6 2188.8 187.5C2202.5 215.4 2210.1 248.4 2218.8 278.8C2227.6 309.3 2232.9 339.7 2241.4 370.1C2249.8 400.6 2260.8 429.2 2269.6 461.5C2278.3 493.7 2286.8 546.6 2294.0 563.7C2301.2 580.7 2309.6 653.9 2312.8 563.7C2315.9 473.5 2353.5 112.7 2312.8 22.5C2272.1 -67.6 2098.0 7.8 2068.5 22.5Z" fill="#0000ff" opacity="1"/>
<path d="M1955.8 22.5C1915.1 37.3 2039.7 83.7 2068.5 111.2C2097.3 138.7 2113.0 159.6 2128.6 187.5C2144.3 215.4 2153.1 248.4 2162.5 278.8C2171.9 309.3 2176.2 339.7 2185.0 370.1C2193.8 400.6 2205.0 429.2 2215.1 461.5C2225.1 493.7 2228.8 546.6 2245.1 563.7C2261.4 580.7 2301.5 653.9 2312.8 563.7C2324.0 473.5 2372.3 112.7 2312.8 22.5C2253.3 -67.6 1996.5 7.8 1955.8 22.5Z" fill="#0030ff" opacity="0.5"/>
<path d="M2023.4 22.5C1989.0 37.3 2083.2 83.7 2106.1 111.2C2129.0 138.7 2146.2 159.6 2160.6 187.5C2175.0 215.4 2183.4 248.4 2192.5 278.8C2201.6 309.3 2206.6 339.7 2215.1 370.1C2223.5 400.6 2233.9 429.2 2243.3 461.5C2252.6 493.7 2259.9 546.6 2271.4 563.7C2283.0 580.7 2305.9 653.9 2312.8 563.7C2319.7 473.5 2361.0 112.7 2312.8 22.5C2264.5 -67.6 2057.9 7.8 2023.4 22.5Z" fill="#0030ff" opacity="0.6"/>
<ellipse cx="1993.4" cy="150.3" rx="55.8" ry="50.7" fill="url(#rg_00ffff)" opacity="0.55"/>
<ellipse cx="2102.3" cy="214.2" rx="53.3" ry="71.0" fill="url(#rg_00ffff)" opacity="0.95"/>
<ellipse cx="2029.1" cy="325.1" rx="63.4" ry="55.8" fill="url(#rg_00ffff)" opacity="1"/>
<ellipse cx="2029.1" cy="326.9" rx="45.7" ry="38.0" fill="url(#rg_00ffb0)" opacity="0.55"/>
<ellipse cx="2076.0" cy="496.0" rx="96.4" ry="71.0" fill="url(#rg_00ffff)" opacity="0.85"/>
<ellipse cx="2061.0" cy="518.6" rx="60.9" ry="30.4" fill="url(#rg_00ffb0)" opacity="0.5"/>
<ellipse cx="1908.8" cy="432.1" rx="63.4" ry="71.0" fill="url(#rg_00ffff)" opacity="1"/>
<ellipse cx="1906.9" cy="430.3" rx="17.8" ry="20.3" fill="url(#rg_00d8ff)" opacity="0.8"/>
<ellipse cx="1910.7" cy="462.2" rx="35.5" ry="20.3" fill="url(#rg_00ffb0)" opacity="0.5"/>
<ellipse cx="1865.6" cy="272.4" rx="35.7" ry="39.5" fill="none" stroke="#00ffff" stroke-width="28.2" opacity="0.95"/>
<ellipse cx="1865.6" cy="272.4" rx="35.7" ry="39.5" fill="none" stroke="#00ffb0" stroke-width="11.3" opacity="0.35"/>
<ellipse cx="1867.5" cy="268.7" rx="20.3" ry="22.8" fill="url(#rg_00b4ff)" opacity="0.6"/>
<ellipse cx="1844.9" cy="109.0" rx="50.7" ry="48.9" fill="none" stroke="#00ffff" stroke-width="18.8" opacity="0.7"/>
<ellipse cx="1844.9" cy="107.1" rx="46.7" ry="44.6" fill="url(#rg_0000ff)" opacity="0.95"/>
<ellipse cx="1749.1" cy="379.5" rx="47.0" ry="50.7" fill="none" stroke="#00ffff" stroke-width="26.3" opacity="0.9"/>
<ellipse cx="1751.0" cy="377.7" rx="36.5" ry="39.6" fill="url(#rg_0000ff)" opacity="1"/>
<ellipse cx="1717.2" cy="216.1" rx="56.4" ry="62.0" fill="none" stroke="#00ffff" stroke-width="15.0" opacity="0.9"/>
<ellipse cx="1715.3" cy="216.1" rx="50.7" ry="54.5" fill="#0000ff" opacity="1"/>
<ellipse cx="1749.1" cy="165.3" rx="20.3" ry="12.7" fill="url(#rg_00ffb0)" opacity="0.8" transform="rotate(40 1749.1 165.3)"/>
<ellipse cx="1685.6" cy="534.4" rx="42.1" ry="45.1" fill="#00ffff" opacity="1"/>
<ellipse cx="1685.6" cy="535.1" rx="33.8" ry="37.6" fill="#00ff80" opacity="1"/>
<ellipse cx="1685.6" cy="535.9" rx="27.1" ry="30.8" fill="#00ff00" opacity="1"/>
<ellipse cx="1685.6" cy="538.1" rx="18.0" ry="20.3" fill="#90ff00" opacity="1"/>
<ellipse cx="1685.6" cy="541.9" rx="11.3" ry="12.0" fill="#e0ff00" opacity="1"/></g><filter id="bls"><feGaussianBlur stdDeviation="1.6"/></filter><ellipse cx="2128.6" cy="50.7" rx="10.5" ry="6.0" fill="#00ff40" filter="url(#bls)"/><ellipse cx="2158.7" cy="45.8" rx="13.2" ry="3.8" fill="#00ff80" filter="url(#bls)"/><ellipse cx="2224.5" cy="63.9" rx="8.3" ry="6.8" fill="#00ff60" filter="url(#bls)"/><ellipse cx="2250.8" cy="112.7" rx="9.0" ry="7.5" fill="#a0ff00" filter="url(#bls)"/><ellipse cx="2250.0" cy="112.0" rx="3.0" ry="2.6" fill="#ff4000" filter="url(#bls)"/><ellipse cx="2270.7" cy="202.9" rx="3.8" ry="8.3" fill="#60ff00" filter="url(#bls)"/><ellipse cx="2249.6" cy="280.0" rx="7.5" ry="6.0" fill="#00ffa0" filter="url(#bls)"/><ellipse cx="2252.6" cy="409.6" rx="11.3" ry="11.3" fill="#40ff40" filter="url(#bls)"/><ellipse cx="2263.9" cy="394.6" rx="6.8" ry="7.5" fill="#80ff00" filter="url(#bls)"/><ellipse cx="2245.1" cy="424.6" rx="11.3" ry="4.5" fill="#00ff80" filter="url(#bls)"/><ellipse cx="2270.7" cy="460.3" rx="3.0" ry="7.5" fill="#00ffa0" filter="url(#bls)"/><ellipse cx="2068.5" cy="47.0" rx="6.8" ry="3.0" fill="#00e0ff" filter="url(#bls)"/><ellipse cx="2188.8" cy="50.7" rx="5.3" ry="4.5" fill="#00c0ff" filter="url(#bls)"/></g>
<clipPath id="cp2"><rect x="1659.3" y="693.4" width="613.3" height="497.9"/></clipPath><filter id="bl2" x="-10%" y="-10%" width="120%" height="120%"><feGaussianBlur stdDeviation="8"/></filter><g clip-path="url(#cp2)"><rect x="1659.3" y="693.4" width="613.3" height="497.9" fill="#0082ff"/><g filter="url(#bl2)"><rect x="1619.3" y="653.4" width="693.3" height="577.9" fill="#0082ff"/><ellipse cx="1869.4" cy="843.5" rx="135.8" ry="107.0" fill="url(#rg_00b4ff)" opacity="0.85"/>
<ellipse cx="2015.7" cy="1117.8" rx="172.8" ry="82.3" fill="url(#rg_00b4ff)" opacity="0.85"/>
<ellipse cx="2183.3" cy="989.8" rx="135.8" ry="82.3" fill="url(#rg_00b4ff)" opacity="0.8"/>
<ellipse cx="2125.4" cy="761.2" rx="82.3" ry="69.9" fill="url(#rg_0090ff)" opacity="0.7"/>
<ellipse cx="1802.4" cy="1142.1" rx="123.4" ry="61.7" fill="url(#rg_00b4ff)" opacity="0.8"/>
<ellipse cx="2213.8" cy="849.6" rx="119.3" ry="119.3" fill="url(#rg_00b4ff)" opacity="0.6"/>
<ellipse cx="2198.6" cy="1117.8" rx="123.4" ry="123.4" fill="url(#rg_00b4ff)" opacity="0.6"/>
<ellipse cx="1906.0" cy="1111.7" rx="94.6" ry="94.6" fill="url(#rg_00d8ff)" opacity="0.55"/>
<ellipse cx="1741.4" cy="1035.5" rx="148.1" ry="148.1" fill="url(#rg_00ffff)" opacity="1"/>
<ellipse cx="1701.8" cy="1050.7" rx="82.3" ry="107.0" fill="url(#rg_00ffb0)" opacity="0.4"/>
<ellipse cx="1820.7" cy="983.7" rx="123.4" ry="61.7" fill="url(#rg_00ffff)" opacity="0.75"/>
<ellipse cx="1820.7" cy="1166.5" rx="69.9" ry="37.0" fill="url(#rg_00ffff)" opacity="0.7"/>
<ellipse cx="1778.0" cy="1111.7" rx="82.3" ry="61.7" fill="url(#rg_00ffff)" opacity="0.6"/>
<ellipse cx="1881.6" cy="974.5" rx="49.4" ry="20.6" fill="url(#rg_a0ffff)" opacity="0.25"/>
<ellipse cx="2031.0" cy="855.7" rx="127.5" ry="267.4" fill="url(#rg_0030ff)" opacity="1"/>
<ellipse cx="2043.1" cy="922.7" rx="69.9" ry="164.6" fill="url(#rg_0018ff)" opacity="0.95"/>
<ellipse cx="2000.5" cy="776.4" rx="94.6" ry="82.3" fill="url(#rg_0030ff)" opacity="0.7"/>
<ellipse cx="1954.8" cy="727.7" rx="230.4" ry="53.5" fill="url(#rg_0030ff)" opacity="0.75"/>
<ellipse cx="1741.4" cy="724.6" rx="135.8" ry="45.3" fill="url(#rg_0030ff)" opacity="0.9"/>
<ellipse cx="2076.7" cy="1035.5" rx="65.8" ry="61.7" fill="url(#rg_0060ff)" opacity="0.7"/>
<ellipse cx="2213.8" cy="849.6" rx="96.7" ry="100.8" fill="url(#rg_0000ff)" opacity="1"/>
<ellipse cx="2213.8" cy="849.6" rx="52.4" ry="55.5" fill="#0000ff" opacity="1"/>
<ellipse cx="2200.1" cy="1117.8" rx="100.8" ry="100.8" fill="url(#rg_0000ff)" opacity="1"/>
<ellipse cx="2200.1" cy="1117.8" rx="54.9" ry="54.9" fill="#0000ff" opacity="1"/>
<ellipse cx="1656.1" cy="822.1" rx="65.8" ry="88.5" fill="url(#rg_0000ff)" opacity="1"/>
<ellipse cx="1653.0" cy="822.1" rx="32.0" ry="48.8" fill="#0000ff" opacity="1"/>
<ellipse cx="1906.0" cy="1111.7" rx="65.8" ry="65.8" fill="url(#rg_0030ff)" opacity="1"/>
<ellipse cx="1906.0" cy="1111.7" rx="37.0" ry="37.0" fill="url(#rg_0018ff)" opacity="0.8"/>
<ellipse cx="1698.8" cy="1187.9" rx="53.5" ry="16.5" fill="url(#rg_0030ff)" opacity="0.9"/>
<path d="M1650.0 938.0C1657.6 920.7 1679.0 920.2 1695.7 910.5C1712.5 900.9 1736.9 882.1 1750.6 880.0C1764.3 878.0 1768.3 888.2 1778.0 898.3C1787.6 908.5 1798.3 927.8 1808.5 941.0C1818.6 954.2 1844.0 969.4 1839.0 977.6C1833.9 985.7 1799.3 985.7 1778.0 989.8C1756.7 993.8 1732.3 997.9 1711.0 1002.0C1689.6 1006.0 1660.2 1024.8 1650.0 1014.1C1639.8 1003.5 1642.4 955.2 1650.0 938.0Z" fill="#00ffb0" opacity="0.9"/>
<path d="M1650.0 938.0C1658.1 925.3 1682.0 922.7 1698.8 913.6C1715.5 904.4 1737.9 884.1 1750.6 883.1C1763.3 882.1 1767.8 897.3 1775.0 907.5C1782.1 917.6 1796.3 933.9 1793.2 944.0C1790.2 954.2 1774.4 961.3 1756.7 968.4C1738.9 975.5 1704.3 983.2 1686.6 986.7C1668.8 990.3 1656.1 997.9 1650.0 989.8C1643.9 981.6 1641.9 950.6 1650.0 938.0Z" fill="#00ff20" opacity="1"/>
<ellipse cx="1726.2" cy="928.8" rx="61.7" ry="41.1" fill="url(#rg_00f000)" opacity="1" transform="rotate(-25 1726.2 928.8)"/>
<ellipse cx="2168.1" cy="974.5" rx="69.9" ry="26.7" fill="url(#rg_00ffff)" opacity="1"/>
<ellipse cx="2162.0" cy="971.5" rx="32.9" ry="11.5" fill="url(#rg_a0ffff)" opacity="0.95"/>
<ellipse cx="1890.8" cy="700.2" rx="61.7" ry="13.2" fill="url(#rg_00ffff)" opacity="0.85"/>
<ellipse cx="2229.0" cy="706.3" rx="86.4" ry="35.0" fill="url(#rg_00ffb0)" opacity="1"/>
<ellipse cx="2241.2" cy="698.7" rx="61.7" ry="20.6" fill="url(#rg_00ff20)" opacity="1"/>
<ellipse cx="2247.3" cy="697.2" rx="37.0" ry="12.3" fill="url(#rg_00f000)" opacity="1"/>
<ellipse cx="2192.5" cy="718.5" rx="49.4" ry="16.5" fill="url(#rg_00ffff)" opacity="0.7"/>
<path d="M1656.1 928.8C1663.2 925.3 1685.6 915.6 1698.8 907.5C1712.0 899.3 1725.2 889.7 1735.3 880.0C1745.5 870.4 1753.6 860.7 1759.7 849.6C1765.8 838.4 1769.6 825.2 1771.9 813.0C1774.2 800.8 1773.2 782.5 1773.4 776.4" fill="none" stroke="#00ffff" stroke-width="7.9" opacity="0.9" stroke-linecap="round"/>
<path d="M1771.9 849.6C1775.0 857.2 1782.1 881.1 1790.2 895.3C1798.3 909.5 1808.5 924.0 1820.7 934.9C1832.9 945.8 1849.1 955.2 1863.3 960.8C1877.6 966.4 1898.9 967.2 1906.0 968.4" fill="none" stroke="#00ffff" stroke-width="6.7" opacity="0.8" stroke-linecap="round"/></g><filter id="bll"><feGaussianBlur stdDeviation="2.2"/></filter><g filter="url(#bll)"><path d="M1656.1 927.3C1663.2 923.7 1685.6 914.1 1698.8 906.0C1712.0 897.8 1725.2 888.2 1735.3 878.5C1745.5 868.9 1753.7 859.0 1759.7 848.0C1765.7 837.1 1769.2 824.9 1771.3 813.0C1773.4 801.1 1772.3 782.5 1772.5 776.4" fill="none" stroke="#40ffff" stroke-width="2.1" opacity="0.9" stroke-linecap="round"/><path d="M1771.9 849.6C1775.0 857.2 1782.1 881.1 1790.2 895.3C1798.3 909.5 1808.5 924.0 1820.7 934.9C1832.9 945.8 1849.1 955.2 1863.3 960.8C1877.6 966.4 1898.9 967.2 1906.0 968.4" fill="none" stroke="#40ffff" stroke-width="1.8" opacity="0.75" stroke-linecap="round"/><path d="M2125.4 874.0C2126.9 866.8 2130.5 843.5 2134.6 831.3C2138.6 819.1 2147.3 805.9 2149.8 800.8" fill="none" stroke="#30e0ff" stroke-width="1.5" opacity="0.5" stroke-linecap="round"/><path d="M2107.1 1090.3C2110.2 1085.3 2116.3 1068.5 2125.4 1059.9C2134.6 1051.2 2155.9 1042.1 2162.0 1038.5" fill="none" stroke="#30e0ff" stroke-width="1.5" opacity="0.5" stroke-linecap="round"/></g></g>
<clipPath id="cp3"><rect x="1659.3" y="1344.5" width="613.3" height="498.7"/></clipPath><filter id="bl3" x="-10%" y="-10%" width="120%" height="120%"><feGaussianBlur stdDeviation="6"/></filter><g clip-path="url(#cp3)"><rect x="1659.3" y="1344.5" width="613.3" height="498.7" fill="#0084ff"/><g filter="url(#bl3)"><rect x="1619.3" y="1304.5" width="693.3" height="578.7" fill="#0084ff"/><path d="M1650.0 1340.0C1736.3 1266.3 2168.1 1266.3 2168.1 1340.0C2168.1 1413.7 1736.3 1781.9 1650.0 1781.9C1563.7 1781.9 1563.7 1413.7 1650.0 1340.0Z" fill="#00a8ff" opacity="0.75"/>
<ellipse cx="1756.7" cy="1477.1" rx="78.2" ry="61.7" fill="url(#rg_00ffff)" opacity="0.9"/>
<ellipse cx="1707.9" cy="1416.2" rx="49.4" ry="69.9" fill="url(#rg_00ffff)" opacity="0.7"/>
<ellipse cx="1839.0" cy="1431.4" rx="65.8" ry="45.3" fill="url(#rg_00d8ff)" opacity="0.8"/>
<ellipse cx="1680.5" cy="1367.4" rx="45.3" ry="28.8" fill="url(#rg_00ffff)" opacity="0.6"/>
<ellipse cx="1781.0" cy="1376.6" rx="37.0" ry="24.7" fill="url(#rg_00d8ff)" opacity="0.6"/>
<ellipse cx="1924.3" cy="1416.2" rx="69.9" ry="49.4" fill="url(#rg_00d8ff)" opacity="0.7"/>
<ellipse cx="1918.2" cy="1510.7" rx="61.7" ry="41.1" fill="url(#rg_00d8ff)" opacity="0.7"/>
<ellipse cx="1781.0" cy="1571.6" rx="37.0" ry="61.7" fill="url(#rg_00d8ff)" opacity="0.7"/>
<ellipse cx="1839.0" cy="1614.3" rx="49.4" ry="37.0" fill="url(#rg_00d8ff)" opacity="0.7"/>
<ellipse cx="2055.3" cy="1394.9" rx="61.7" ry="41.1" fill="url(#rg_00d8ff)" opacity="0.7"/>
<ellipse cx="1668.3" cy="1675.2" rx="28.8" ry="61.7" fill="url(#rg_00d8ff)" opacity="0.8"/>
<ellipse cx="2031.0" cy="1455.8" rx="49.4" ry="32.9" fill="url(#rg_00d8ff)" opacity="0.5"/>
<ellipse cx="2107.1" cy="1733.1" rx="107.0" ry="69.9" fill="url(#rg_00d8ff)" opacity="0.9"/>
<ellipse cx="2125.4" cy="1745.3" rx="61.7" ry="37.0" fill="url(#rg_00ffff)" opacity="0.8"/>
<ellipse cx="2229.0" cy="1672.2" rx="45.3" ry="49.4" fill="url(#rg_00ffff)" opacity="0.85"/>
<ellipse cx="2180.3" cy="1775.8" rx="61.7" ry="37.0" fill="url(#rg_00d8ff)" opacity="0.8"/>
<ellipse cx="2091.9" cy="1647.8" rx="49.4" ry="32.9" fill="url(#rg_00d8ff)" opacity="0.7"/>
<ellipse cx="2031.0" cy="1721.0" rx="49.4" ry="41.1" fill="url(#rg_00b4ff)" opacity="0.7"/>
<ellipse cx="2168.1" cy="1416.2" rx="49.4" ry="37.0" fill="url(#rg_00b4ff)" opacity="0.8"/>
<ellipse cx="2253.4" cy="1477.1" rx="24.7" ry="41.1" fill="url(#rg_00b4ff)" opacity="0.8"/>
<ellipse cx="2046.2" cy="1797.1" rx="32.9" ry="24.7" fill="url(#rg_00b4ff)" opacity="0.6"/>
<ellipse cx="1695.7" cy="1583.8" rx="38.1" ry="38.1" fill="none" stroke="#00ffff" stroke-width="5.5" opacity="0.75"/>
<ellipse cx="1835.9" cy="1535.0" rx="35.0" ry="32.0" fill="none" stroke="#00d8ff" stroke-width="4.9" opacity="0.8"/>
<ellipse cx="1729.2" cy="1714.9" rx="42.7" ry="41.1" fill="none" stroke="#00d8ff" stroke-width="4.9" opacity="0.6"/>
<ellipse cx="1893.8" cy="1672.2" rx="41.1" ry="38.1" fill="none" stroke="#00d8ff" stroke-width="4.9" opacity="0.6"/>
<ellipse cx="1750.6" cy="1376.6" rx="36.6" ry="33.5" fill="none" stroke="#00ffff" stroke-width="4.3" opacity="0.5"/>
<ellipse cx="1674.4" cy="1401.0" rx="30.5" ry="36.6" fill="none" stroke="#00ffff" stroke-width="4.3" opacity="0.5"/>
<ellipse cx="1695.7" cy="1583.8" rx="32.9" ry="32.9" fill="url(#rg_0000ff)" opacity="0.95"/>
<ellipse cx="1835.9" cy="1535.0" rx="28.8" ry="28.8" fill="url(#rg_0030ff)" opacity="0.95"/>
<ellipse cx="1893.8" cy="1672.2" rx="43.2" ry="43.2" fill="url(#rg_0000ff)" opacity="1"/>
<ellipse cx="1729.2" cy="1714.9" rx="47.3" ry="47.3" fill="url(#rg_0000ff)" opacity="1"/>
<ellipse cx="2238.2" cy="1562.5" rx="39.1" ry="39.1" fill="url(#rg_0000ff)" opacity="1"/>
<ellipse cx="2183.3" cy="1471.0" rx="61.7" ry="61.7" fill="url(#rg_0030ff)" opacity="0.9"/>
<ellipse cx="2183.3" cy="1468.0" rx="32.9" ry="32.9" fill="url(#rg_0018ff)" opacity="0.7"/>
<ellipse cx="2009.6" cy="1370.5" rx="26.7" ry="26.7" fill="url(#rg_0030ff)" opacity="0.85"/>
<ellipse cx="1848.1" cy="1803.2" rx="82.3" ry="82.3" fill="url(#rg_0000ff)" opacity="0.95"/>
<ellipse cx="1915.1" cy="1775.8" rx="45.3" ry="45.3" fill="url(#rg_0000ff)" opacity="0.8"/>
<ellipse cx="1954.8" cy="1745.3" rx="41.1" ry="41.1" fill="url(#rg_0030ff)" opacity="0.8"/>
<ellipse cx="2076.7" cy="1702.7" rx="39.1" ry="39.1" fill="url(#rg_0060ff)" opacity="0.7"/>
<ellipse cx="1781.0" cy="1358.3" rx="24.7" ry="24.7" fill="url(#rg_0030ff)" opacity="0.7"/>
<ellipse cx="2055.3" cy="1550.3" rx="18.5" ry="18.5" fill="url(#rg_0030ff)" opacity="0.8"/>
<ellipse cx="2043.1" cy="1629.5" rx="22.6" ry="22.6" fill="url(#rg_0030ff)" opacity="0.7"/>
<ellipse cx="1686.6" cy="1772.8" rx="32.9" ry="32.9" fill="url(#rg_0030ff)" opacity="0.7"/>
<ellipse cx="1985.2" cy="1705.7" rx="28.8" ry="28.8" fill="url(#rg_0060ff)" opacity="0.6"/>
<ellipse cx="2277.8" cy="1733.1" rx="39.1" ry="57.6" fill="url(#rg_00ffb0)" opacity="1"/>
<ellipse cx="2280.9" cy="1733.1" rx="20.6" ry="32.9" fill="url(#rg_00ff60)" opacity="0.9"/></g><filter id="blh"><feGaussianBlur stdDeviation="1.8"/></filter><g filter="url(#blh)"><ellipse cx="1978.5" cy="1609.7" rx="62.2" ry="63.0" fill="#00c8ff" transform="rotate(-20 1978.5 1609.7)"/><ellipse cx="1978.5" cy="1609.7" rx="58.1" ry="58.8" fill="#00ffe0" transform="rotate(-20 1978.5 1609.7)"/><ellipse cx="1978.5" cy="1609.7" rx="54.4" ry="55.1" fill="#20ff00" transform="rotate(-20 1978.5 1609.7)"/><ellipse cx="1978.5" cy="1609.7" rx="50.3" ry="51.0" fill="#ffff00" transform="rotate(-20 1978.5 1609.7)"/><ellipse cx="1978.5" cy="1609.7" rx="47.5" ry="48.2" fill="#ff8000" transform="rotate(-20 1978.5 1609.7)"/><ellipse cx="1978.5" cy="1609.7" rx="44.8" ry="45.4" fill="#ff0000" transform="rotate(-20 1978.5 1609.7)"/><ellipse cx="1976.5" cy="1609.7" rx="5.9" ry="5.9" fill="#ff9000" transform="rotate(-20 1978.5 1609.7)"/><ellipse cx="2134.6" cy="1576.2" rx="63.0" ry="66.3" fill="#00c8ff" transform="rotate(15 2134.6 1576.2)"/><ellipse cx="2134.6" cy="1576.2" rx="58.8" ry="61.9" fill="#00ffe0" transform="rotate(15 2134.6 1576.2)"/><ellipse cx="2134.6" cy="1576.2" rx="55.1" ry="58.0" fill="#20ff00" transform="rotate(15 2134.6 1576.2)"/><ellipse cx="2134.6" cy="1576.2" rx="51.0" ry="53.6" fill="#ffff00" transform="rotate(15 2134.6 1576.2)"/><ellipse cx="2134.6" cy="1576.2" rx="48.2" ry="50.7" fill="#ff8000" transform="rotate(15 2134.6 1576.2)"/><ellipse cx="2134.6" cy="1576.2" rx="45.4" ry="47.8" fill="#ff0000" transform="rotate(15 2134.6 1576.2)"/><rect x="2117.9" y="1559.5" width="33.4" height="33.4" rx="7.5" fill="#ff6000" transform="rotate(40 2134.6 1576.2)"/><rect x="2121.1" y="1562.8" width="26.9" height="26.9" rx="6.0" fill="#ffe000" transform="rotate(40 2134.6 1576.2)"/><rect x="2124.4" y="1566.0" width="20.4" height="20.4" rx="4.6" fill="#40ff00" transform="rotate(40 2134.6 1576.2)"/><rect x="2129.5" y="1571.1" width="10.2" height="10.2" rx="2.3" fill="#00ff80" transform="rotate(40 2134.6 1576.2)"/><ellipse cx="2251.9" cy="1356.8" rx="62.2" ry="62.2" fill="#00c8ff"/><ellipse cx="2251.9" cy="1356.8" rx="58.1" ry="58.1" fill="#00ffe0"/><ellipse cx="2251.9" cy="1356.8" rx="54.4" ry="54.4" fill="#20ff00"/><ellipse cx="2251.9" cy="1356.8" rx="50.3" ry="50.3" fill="#ffff00"/><ellipse cx="2251.9" cy="1356.8" rx="47.5" ry="47.5" fill="#ff8000"/><ellipse cx="2251.9" cy="1356.8" rx="44.8" ry="44.8" fill="#ff0000"/><rect x="2235.4" y="1340.3" width="32.9" height="32.9" rx="7.4" fill="#ff6000" transform="rotate(40 2251.9 1356.8)"/><rect x="2238.6" y="1343.5" width="26.5" height="26.5" rx="6.0" fill="#ffe000" transform="rotate(40 2251.9 1356.8)"/><rect x="2241.8" y="1346.7" width="20.1" height="20.1" rx="4.5" fill="#40ff00" transform="rotate(40 2251.9 1356.8)"/><rect x="2246.9" y="1351.7" width="10.1" height="10.1" rx="2.3" fill="#00ff80" transform="rotate(40 2251.9 1356.8)"/><ellipse cx="1738.4" cy="1864.2" rx="89.1" ry="70.5" fill="#00c8ff"/><ellipse cx="1738.4" cy="1864.2" rx="83.2" ry="65.8" fill="#00ffe0"/><ellipse cx="1738.4" cy="1864.2" rx="78.0" ry="61.7" fill="#20ff00"/><ellipse cx="1738.4" cy="1864.2" rx="72.1" ry="57.0" fill="#ffff00"/><ellipse cx="1738.4" cy="1864.2" rx="68.1" ry="53.9" fill="#ff8000"/><ellipse cx="1738.4" cy="1864.2" rx="64.2" ry="50.8" fill="#ff0000"/><ellipse cx="1999.6" cy="1858.1" rx="68.4" ry="76.7" fill="#00c8ff"/><ellipse cx="1999.6" cy="1858.1" rx="63.9" ry="71.6" fill="#00ffe0"/><ellipse cx="1999.6" cy="1858.1" rx="59.8" ry="67.1" fill="#20ff00"/><ellipse cx="1999.6" cy="1858.1" rx="55.3" ry="62.0" fill="#ffff00"/><ellipse cx="1999.6" cy="1858.1" rx="52.3" ry="58.6" fill="#ff8000"/><ellipse cx="1999.6" cy="1858.1" rx="49.3" ry="55.3" fill="#ff0000"/></g><line x1="1598.2" y1="1856.6" x2="2201.6" y2="1328.3" stroke="#fff" stroke-width="9" stroke-dasharray="30.5 20.3" stroke-dashoffset="-26.8"/><line x1="2046.2" y1="1869.6" x2="2303.1" y2="1644.6" stroke="#fff" stroke-width="9" stroke-dasharray="30.5 20.3" stroke-dashoffset="-12.0"/><text transform="translate(1915,1818) rotate(-44)" font-size="58" fill="#fff" stroke="#707070" stroke-width="1.4" paint-order="stroke">Interface</text></g>
<text x="1684.3" y="98.9" font-size="44.2" text-anchor="start" font-weight="normal" fill="#fff" stroke="#8890a8" stroke-width="1.3" paint-order="stroke">Pd/Cl-GDY</text>
<text x="1684.3" y="752.9" font-size="44.2" text-anchor="start" font-weight="normal" fill="#fff" stroke="#8890a8" stroke-width="1.3" paint-order="stroke">Cu<tspan dy="14.8" font-size="26.078">2</tspan><tspan dy="-14.8">O/GDY</tspan></text>
<text x="1684.3" y="1402.9" font-size="44.2" text-anchor="start" font-weight="normal" fill="#fff" stroke="#8890a8" stroke-width="1.3" paint-order="stroke">Pd/Cu<tspan dy="14.8" font-size="26.078">2</tspan><tspan dy="-14.8">O/Cl-GDY</tspan></text>
</g>
<g id="pd">
<clipPath id="cpd"><rect x="95.7" y="696" width="664.8" height="494"/></clipPath>
<g clip-path="url(#cpd)" fill="none" stroke-linejoin="round" stroke-linecap="round">
<path d="M95.2 949.2C98.4 948.9 107.9 947.3 114.3 947.3C120.6 947.3 123.8 949.1 133.3 949.2C142.9 949.4 163.2 949.2 171.4 948.1C179.7 947.0 178.4 943.7 182.9 942.4C187.3 941.1 193.3 940.3 198.1 940.5C202.9 940.7 207.6 944.5 211.4 943.5C215.2 942.6 218.2 937.0 221.0 934.8C223.7 932.5 225.3 929.5 227.8 929.8C230.3 930.1 232.9 934.3 236.2 936.7C239.5 939.1 242.5 942.5 247.6 944.3C252.7 946.1 261.6 947.1 266.7 947.3C271.7 947.6 274.9 946.3 278.1 945.8C281.3 945.3 283.2 944.2 285.7 944.3C288.3 944.4 288.3 946.1 293.3 946.6C298.4 947.1 301.6 947.0 316.2 947.3C330.8 947.7 344.8 948.3 381.0 948.5C417.1 948.6 503.5 948.5 533.3 948.1C563.2 947.7 552.4 946.6 560.0 945.8C567.6 945.0 573.3 943.7 579.0 943.5C584.8 943.4 589.2 944.4 594.3 945.0C599.4 945.7 600.6 947.3 609.5 947.3C618.4 947.3 634.9 945.2 647.6 945.0C660.3 944.9 673.0 946.6 685.7 946.6C698.4 946.6 711.3 944.8 723.8 945.0C736.3 945.3 754.6 947.6 760.8 948.1" stroke="#ff0000" stroke-width="3.2"/>
<path d="M95.2 950.0C98.4 950.3 107.9 951.9 114.3 951.9C120.6 951.9 123.8 950.1 133.3 950.0C142.9 949.9 163.2 950.2 171.4 951.1C179.7 952.1 178.4 954.5 182.9 955.7C187.3 956.9 193.3 958.5 198.1 958.4C202.9 958.3 207.6 954.3 211.4 955.0C215.2 955.7 218.1 960.2 221.0 962.6C223.8 964.9 225.9 969.2 228.6 969.0C231.2 968.9 233.8 964.0 237.0 961.4C240.1 958.9 242.7 955.5 247.6 953.8C252.6 952.1 261.6 951.3 266.7 951.1C271.7 951.0 274.8 952.2 278.1 952.7C281.4 953.2 283.8 954.3 286.5 954.2C289.1 954.1 289.1 952.4 294.1 951.9C299.0 951.4 301.7 951.4 316.2 951.1C330.7 950.9 344.8 950.4 381.0 950.4C417.1 950.3 503.5 950.4 533.3 950.8C563.2 951.1 552.4 952.0 560.0 952.7C567.6 953.3 573.3 954.4 579.0 954.6C584.8 954.7 589.2 954.0 594.3 953.4C599.4 952.9 600.6 951.3 609.5 951.1C618.4 951.0 634.9 952.7 647.6 952.7C660.3 952.7 673.0 951.1 685.7 951.1C698.4 951.1 711.3 952.8 723.8 952.7C736.3 952.5 754.6 950.8 760.8 950.4" stroke="#ff0000" stroke-width="3.2"/>
<path d="M144.8 949.2C149.2 949.1 157.5 948.9 171.4 948.5C185.4 948.1 212.7 947.1 228.6 947.0C244.4 946.8 254.0 947.8 266.7 947.7C279.4 947.7 295.6 947.0 304.8 946.6C314.0 946.1 317.8 946.1 321.9 945.0C326.0 944.0 327.0 941.8 329.5 940.5C332.1 939.1 334.6 937.2 337.1 937.0C339.7 936.9 341.9 938.5 344.8 939.7C347.6 940.9 350.2 943.1 354.3 944.3C358.4 945.4 358.7 945.9 369.5 946.6C380.3 947.2 398.1 948.0 419.0 948.1C440.0 948.2 476.2 947.4 495.2 947.3C514.3 947.3 514.3 947.8 533.3 947.7C552.4 947.6 584.1 947.0 609.5 946.6C634.9 946.1 669.8 945.2 685.7 945.0C701.6 944.9 698.4 946.3 704.8 945.8C711.1 945.3 718.7 942.1 723.8 942.0C728.9 941.9 729.1 944.2 735.2 945.0C741.4 945.9 756.5 947.0 760.8 947.3" stroke="#0000ff" stroke-width="3.2"/>
<path d="M144.8 950.0C149.2 950.1 157.5 950.4 171.4 950.8C185.4 951.1 212.7 952.2 228.6 952.3C244.4 952.4 254.0 951.5 266.7 951.5C279.4 951.6 294.6 952.2 304.8 952.7C314.9 953.1 322.5 953.2 327.6 954.2C332.7 955.1 332.7 957.2 335.2 958.4C337.8 959.6 340.3 961.4 342.9 961.4C345.4 961.4 347.6 959.7 350.5 958.4C353.3 957.1 355.9 954.9 360.0 953.8C364.1 952.7 365.4 952.4 375.2 951.9C385.1 951.4 399.0 950.8 419.0 950.8C439.0 950.7 476.2 951.5 495.2 951.5C514.3 951.6 514.3 951.0 533.3 951.1C552.4 951.3 584.1 951.8 609.5 952.3C634.9 952.7 669.8 953.7 685.7 953.8C701.6 953.9 698.4 952.7 704.8 953.0C711.1 953.4 718.7 955.7 723.8 955.7C728.9 955.8 729.1 954.1 735.2 953.4C741.4 952.8 756.5 952.2 760.8 951.9" stroke="#0000ff" stroke-width="3.2"/>
<path d="M95.2 949.2C101.6 949.0 124.8 948.8 133.3 948.1C141.9 947.4 143.5 946.2 146.7 945.0C149.8 943.9 150.5 941.4 152.4 941.2C154.3 941.1 156.2 943.1 158.1 944.3C160.0 945.4 161.6 947.5 163.8 948.1C166.0 948.7 167.6 950.0 171.4 948.1C175.2 946.2 182.2 941.1 186.7 936.7C191.1 932.2 194.6 925.9 198.1 921.4C201.6 917.0 205.1 915.1 207.6 910.0C210.2 904.9 211.4 905.6 213.3 891.0C215.2 876.3 217.5 839.5 219.0 822.4C220.6 805.2 221.5 796.3 222.9 788.1C224.2 779.8 225.8 774.1 227.0 772.9C228.3 771.6 229.1 775.4 230.5 780.5C231.9 785.6 233.7 800.8 235.4 803.3C237.1 805.9 239.0 794.4 240.8 795.7C242.5 797.0 243.9 803.3 245.7 811.0C247.5 818.6 249.4 831.6 251.4 841.4C253.5 851.3 256.0 867.5 257.9 870.0C259.8 872.5 261.0 863.5 262.9 856.7C264.8 849.9 267.1 829.4 269.3 829.2C271.6 829.0 274.1 854.8 276.2 855.5C278.3 856.3 280.2 840.9 281.9 833.8C283.6 826.7 284.9 813.5 286.5 812.9C288.1 812.2 289.8 824.3 291.4 830.0C293.1 835.7 294.5 845.0 296.4 847.1C298.3 849.2 300.7 843.0 302.9 842.6C305.0 842.1 306.8 846.6 309.3 844.5C311.9 842.4 315.7 829.2 318.1 830.0C320.5 830.8 321.9 842.8 323.8 849.0C325.7 855.3 327.6 866.7 329.5 867.3C331.4 868.0 333.7 856.2 335.2 852.9C336.8 849.5 337.1 846.8 339.0 847.1C341.0 847.5 344.3 853.9 346.7 854.8C349.1 855.6 351.3 849.9 353.5 852.1C355.7 854.3 357.7 862.9 360.0 868.1C362.3 873.3 364.1 878.6 367.6 883.3C371.1 888.1 377.5 894.9 381.0 896.7C384.4 898.4 386.2 894.4 388.6 894.0C391.0 893.6 392.9 898.3 395.4 894.0C398.0 889.7 400.8 875.7 403.8 868.1C406.8 860.5 410.3 850.2 413.3 848.3C416.4 846.4 419.6 859.1 422.1 856.7C424.6 854.3 426.3 842.1 428.6 833.8C430.8 825.6 433.0 810.0 435.4 807.1C437.8 804.3 441.0 817.9 443.0 816.7C445.1 815.4 445.8 808.4 447.6 799.5C449.5 790.6 452.2 770.6 454.1 763.3C456.0 756.0 457.6 761.7 459.0 755.7C460.5 749.7 461.5 736.5 462.9 727.1C464.3 717.8 465.8 699.7 467.4 699.7C469.0 699.7 470.6 709.9 472.4 727.1C474.2 744.4 476.2 781.1 478.1 803.3C480.0 825.6 481.9 844.6 483.8 860.5C485.7 876.3 487.6 888.7 489.5 898.6C491.4 908.4 493.7 917.9 495.2 919.5C496.8 921.1 497.6 911.1 499.0 908.1C500.5 905.0 502.1 897.7 504.0 901.2C505.9 904.7 508.1 921.9 510.5 929.0C512.8 936.2 515.6 942.4 518.1 944.3C520.6 946.2 523.2 944.3 525.7 940.5C528.3 936.7 531.2 926.1 533.3 921.4C535.4 916.8 536.4 912.7 538.3 912.7C540.2 912.7 541.8 917.4 544.8 921.4C547.7 925.4 551.7 933.5 556.2 936.7C560.6 939.8 567.3 940.9 571.4 940.5C575.6 940.0 578.1 934.8 581.0 934.0C583.8 933.2 586.0 936.2 588.6 935.9C591.1 935.6 593.3 931.0 596.2 932.1C599.0 933.2 601.0 940.9 605.7 942.4C610.5 943.9 619.0 942.2 624.8 941.2C630.5 940.3 634.9 936.5 640.0 936.7C645.1 936.9 649.5 942.7 655.2 942.4C661.0 942.1 669.2 934.8 674.3 934.8C679.4 934.8 680.6 940.5 685.7 942.4C690.8 944.3 698.4 945.7 704.8 946.2C711.1 946.6 717.5 944.9 723.8 945.0C730.2 945.2 736.7 947.8 742.9 947.3C749.0 946.9 757.8 943.2 760.8 942.4" stroke="#000" stroke-width="3.2"/>
<path d="M95.2 950.0C103.5 950.2 134.9 949.9 144.8 951.1C154.6 952.4 151.1 957.5 154.3 957.6C157.5 957.7 161.0 953.2 163.8 951.9C166.7 950.6 167.6 948.4 171.4 950.0C175.2 951.6 182.2 957.6 186.7 961.4C191.1 965.2 194.6 969.0 198.1 972.9C201.6 976.7 205.1 980.8 207.6 984.3C210.2 987.8 211.4 985.9 213.3 993.8C215.2 1001.7 217.5 1017.3 219.0 1031.9C220.6 1046.5 221.3 1066.8 222.9 1081.4C224.4 1096.0 226.9 1112.9 228.6 1119.5C230.3 1126.2 231.7 1122.4 233.1 1121.4C234.5 1120.5 235.5 1113.5 237.0 1113.8C238.4 1114.1 240.1 1126.2 241.9 1123.3C243.7 1120.5 245.7 1108.7 247.6 1096.7C249.5 1084.6 251.3 1062.1 253.3 1051.0C255.4 1039.8 257.9 1031.0 259.8 1030.0C261.7 1029.0 262.9 1039.5 264.8 1045.2C266.7 1051.0 268.9 1063.5 271.2 1064.3C273.6 1065.0 276.8 1049.5 278.9 1049.8C281.0 1050.1 282.0 1059.7 283.8 1066.2C285.6 1072.7 287.6 1089.7 289.5 1089.0C291.4 1088.4 293.5 1068.4 295.2 1062.4C297.0 1056.3 298.3 1052.9 300.2 1052.9C302.1 1052.9 304.3 1061.7 306.7 1062.4C309.0 1063.0 311.7 1057.6 314.3 1056.7C316.8 1055.7 319.4 1059.8 321.9 1056.7C324.4 1053.5 327.6 1041.7 329.5 1037.6C331.4 1033.5 331.4 1030.0 333.3 1031.9C335.2 1033.8 338.4 1048.3 341.0 1049.0C343.5 1049.8 346.3 1038.2 348.6 1036.5C350.8 1034.8 351.4 1041.4 354.3 1038.8C357.1 1036.1 362.2 1025.4 365.7 1020.5C369.2 1015.5 372.1 1011.4 375.2 1009.0C378.4 1006.7 381.3 1006.9 384.8 1006.4C388.3 1005.9 393.0 1003.0 396.2 1006.0C399.4 1009.0 401.0 1016.5 403.8 1024.3C406.7 1032.1 410.8 1048.1 413.3 1052.9C415.9 1057.6 416.8 1055.1 419.0 1052.9C421.3 1050.6 424.4 1039.2 426.7 1039.5C428.9 1039.8 430.2 1045.9 432.4 1054.8C434.6 1063.7 437.5 1089.0 440.0 1092.9C442.5 1096.7 445.1 1076.3 447.6 1077.6C450.2 1078.9 453.0 1093.5 455.2 1100.5C457.5 1107.5 459.0 1109.4 461.0 1119.5C462.9 1129.7 465.0 1151.4 466.7 1161.4C468.4 1171.5 469.7 1182.3 471.2 1179.7C472.8 1177.2 474.4 1162.6 476.2 1146.2C478.0 1129.8 480.0 1100.5 481.9 1081.4C483.8 1062.4 485.7 1045.2 487.6 1031.9C489.5 1018.6 491.4 1009.0 493.3 1001.4C495.2 993.8 496.8 986.8 499.0 986.2C501.3 985.6 504.1 1000.8 506.7 997.6C509.2 994.4 511.4 974.4 514.3 967.1C517.1 959.8 521.0 954.8 523.8 953.8C526.7 952.9 528.6 956.7 531.4 961.4C534.3 966.2 538.1 980.2 541.0 982.4C543.8 984.6 544.8 978.3 548.6 974.8C552.4 971.3 559.4 964.6 563.8 961.4C568.3 958.3 572.1 955.4 575.2 955.7C578.4 956.0 580.3 962.4 582.9 963.3C585.4 964.3 587.6 960.8 590.5 961.4C593.3 962.1 596.8 967.8 600.0 967.1C603.2 966.5 604.8 959.5 609.5 957.6C614.3 955.7 622.9 955.1 628.6 955.7C634.3 956.3 638.1 961.4 643.8 961.4C649.5 961.4 657.1 955.4 662.9 955.7C668.6 956.0 673.7 963.3 678.1 963.3C682.5 963.3 684.4 957.6 689.5 955.7C694.6 953.8 701.6 952.2 708.6 951.9C715.6 951.6 725.1 953.9 731.4 953.8C737.8 953.7 741.8 950.8 746.7 951.1C751.6 951.5 758.4 955.0 760.8 955.7" stroke="#000" stroke-width="3.2"/>
</g>
<line x1="493.7" y1="696.3" x2="493.7" y2="1190" stroke="#000" stroke-width="3.5" stroke-dasharray="16.5 17"/>
<rect x="95.7" y="696" width="664.8" height="494" fill="none" stroke="#000" stroke-width="3.4"/>
<line x1="94.7" y1="1190" x2="94.7" y2="1199.5" stroke="#000" stroke-width="3.4"/>
<text x="94.2" y="1239.5" font-size="41" text-anchor="middle" font-weight="normal" fill="#000" >-6</text>
<line x1="294.2" y1="1190" x2="294.2" y2="1199.5" stroke="#000" stroke-width="3.4"/>
<text x="293.7" y="1239.5" font-size="41" text-anchor="middle" font-weight="normal" fill="#000" >-3</text>
<line x1="493.7" y1="1190" x2="493.7" y2="1199.5" stroke="#000" stroke-width="3.4"/>
<text x="493.2" y="1239.5" font-size="41" text-anchor="middle" font-weight="normal" fill="#000" >0</text>
<line x1="693.2" y1="1190" x2="693.2" y2="1199.5" stroke="#000" stroke-width="3.4"/>
<text x="692.7" y="1239.5" font-size="41" text-anchor="middle" font-weight="normal" fill="#000" >3</text>
<line x1="194.45" y1="1190" x2="194.45" y2="1194.8" stroke="#000" stroke-width="3.4"/>
<line x1="393.95" y1="1190" x2="393.95" y2="1194.8" stroke="#000" stroke-width="3.4"/>
<line x1="593.45" y1="1190" x2="593.45" y2="1194.8" stroke="#000" stroke-width="3.4"/>
<text x="428.0" y="1287.0" font-size="41.6" text-anchor="middle" font-weight="normal" fill="#000" >Energy (eV)</text>
<text transform="translate(50,932) rotate(-90)" font-size="41.8" text-anchor="middle">PDOS (eV)</text>
<line x1="552" y1="723.3" x2="648" y2="723.3" stroke="#ff0000" stroke-width="3.6" stroke-linecap="round"/>
<text x="659.0" y="737.5" font-size="40.8" text-anchor="start" font-weight="normal" fill="#000" >Pd s</text>
<line x1="552" y1="774.8" x2="648" y2="774.8" stroke="#0000ff" stroke-width="3.6" stroke-linecap="round"/>
<text x="659.0" y="789.0" font-size="40.8" text-anchor="start" font-weight="normal" fill="#000" >Pd p</text>
<line x1="552" y1="826.2" x2="648" y2="826.2" stroke="#000" stroke-width="3.6" stroke-linecap="round"/>
<text x="659.0" y="840.4" font-size="40.8" text-anchor="start" font-weight="normal" fill="#000" >Pd d</text>
<text x="503.5" y="730.8" font-size="26">E</text><text x="521.5" y="737" font-size="26">F</text>
<text x="102.8" y="1173.3" font-size="42" text-anchor="start" font-weight="normal" fill="#000" >Pd/Cu<tspan dy="10.9" font-size="26.04">2</tspan><tspan dy="-10.9">O/Cl-GDY</tspan></text>
</g>
<g id="pe">
<path d="M1191.6 750.0C1193.1 751.2 1197.2 754.8 1200.4 757.0C1203.7 759.2 1206.0 760.9 1211.0 763.4C1216.0 766.0 1220.6 769.0 1230.3 772.3C1240.0 775.6 1255.8 780.0 1269.0 783.3C1282.1 786.5 1297.7 788.9 1309.4 791.8C1321.1 794.8 1331.6 798.4 1339.2 800.8C1346.9 803.2 1350.8 804.3 1355.1 806.3C1359.3 808.3 1362.7 810.8 1364.7 813.0C1366.8 815.2 1367.7 817.4 1367.4 819.7C1367.1 822.0 1366.2 824.4 1363.0 826.7C1359.7 828.9 1353.7 831.3 1348.0 833.1C1342.3 834.9 1338.7 834.9 1328.7 837.4C1318.7 839.8 1301.5 844.6 1288.3 847.8C1275.1 851.0 1260.5 853.8 1249.6 856.5C1238.8 859.2 1230.3 861.5 1223.3 863.9C1216.2 866.2 1211.9 868.4 1207.5 870.6C1203.1 872.8 1199.6 875.1 1196.9 877.3C1194.3 879.5 1192.5 882.9 1191.6 884.0Z" fill="#8FAADC" stroke="none"/>
<path d="M1191.6 750.0C1193.1 751.2 1197.2 754.8 1200.4 757.0C1203.7 759.2 1206.0 760.9 1211.0 763.4C1216.0 766.0 1220.6 769.0 1230.3 772.3C1240.0 775.6 1255.8 780.0 1269.0 783.3C1282.1 786.5 1297.7 788.9 1309.4 791.8C1321.1 794.8 1331.6 798.4 1339.2 800.8C1346.9 803.2 1350.8 804.3 1355.1 806.3C1359.3 808.3 1362.7 810.8 1364.7 813.0C1366.8 815.2 1367.7 817.4 1367.4 819.7C1367.1 822.0 1366.2 824.4 1363.0 826.7C1359.7 828.9 1353.7 831.3 1348.0 833.1C1342.3 834.9 1338.7 834.9 1328.7 837.4C1318.7 839.8 1301.5 844.6 1288.3 847.8C1275.1 851.0 1260.5 853.8 1249.6 856.5C1238.8 859.2 1230.3 861.5 1223.3 863.9C1216.2 866.2 1211.9 868.4 1207.5 870.6C1203.1 872.8 1199.6 875.1 1196.9 877.3C1194.3 879.5 1192.5 882.9 1191.6 884.0" fill="none" stroke="#767171" stroke-width="3.2"/>
<path d="M1191.6 789.1C1193.1 790.3 1197.2 794.0 1200.4 796.3C1203.7 798.7 1206.0 800.4 1211.0 803.0C1216.0 805.7 1220.6 808.8 1230.3 812.2C1240.0 815.7 1255.8 820.3 1269.0 823.7C1282.1 827.1 1297.7 829.5 1309.4 832.6C1321.1 835.6 1331.6 839.4 1339.2 841.9C1346.9 844.4 1350.8 845.5 1355.1 847.6C1359.3 849.8 1362.7 852.3 1364.7 854.6C1366.8 856.9 1367.7 859.2 1367.4 861.6C1367.1 864.0 1366.2 866.5 1363.0 868.8C1359.7 871.2 1353.7 873.7 1348.0 875.5C1342.3 877.4 1338.7 877.4 1328.7 880.0C1318.7 882.5 1301.5 887.5 1288.3 890.9C1275.1 894.2 1260.5 897.1 1249.6 899.9C1238.8 902.7 1230.3 905.1 1223.3 907.6C1216.2 910.0 1211.9 912.2 1207.5 914.6C1203.1 916.9 1199.6 919.2 1196.9 921.5C1194.3 923.8 1192.5 927.3 1191.6 928.5Z" fill="#ff6363" fill-opacity="0.77" stroke="none"/>
<path d="M1191.6 789.1C1193.1 790.3 1197.2 794.0 1200.4 796.3C1203.7 798.7 1206.0 800.4 1211.0 803.0C1216.0 805.7 1220.6 808.8 1230.3 812.2C1240.0 815.7 1255.8 820.3 1269.0 823.7C1282.1 827.1 1297.7 829.5 1309.4 832.6C1321.1 835.6 1331.6 839.4 1339.2 841.9C1346.9 844.4 1350.8 845.5 1355.1 847.6C1359.3 849.8 1362.7 852.3 1364.7 854.6C1366.8 856.9 1367.7 859.2 1367.4 861.6C1367.1 864.0 1366.2 866.5 1363.0 868.8C1359.7 871.2 1353.7 873.7 1348.0 875.5C1342.3 877.4 1338.7 877.4 1328.7 880.0C1318.7 882.5 1301.5 887.5 1288.3 890.9C1275.1 894.2 1260.5 897.1 1249.6 899.9C1238.8 902.7 1230.3 905.1 1223.3 907.6C1216.2 910.0 1211.9 912.2 1207.5 914.6C1203.1 916.9 1199.6 919.2 1196.9 921.5C1194.3 923.8 1192.5 927.3 1191.6 928.5" fill="none" stroke="#767171" stroke-width="3.2"/>
<path d="M1191.6 1037.0C1193.1 1038.2 1197.2 1041.9 1200.4 1044.2C1203.7 1046.4 1206.0 1048.1 1211.0 1050.7C1216.0 1053.3 1220.6 1056.4 1230.3 1059.7C1240.0 1063.1 1255.8 1067.6 1269.0 1070.9C1282.1 1074.3 1297.7 1076.7 1309.4 1079.7C1321.1 1082.7 1331.6 1086.4 1339.2 1088.8C1346.9 1091.3 1350.8 1092.4 1355.1 1094.4C1359.3 1096.5 1362.7 1099.0 1364.7 1101.3C1366.8 1103.6 1367.7 1105.8 1367.4 1108.1C1367.1 1110.4 1366.2 1112.9 1363.0 1115.2C1359.7 1117.5 1353.7 1120.0 1348.0 1121.8C1342.3 1123.6 1338.7 1123.6 1328.7 1126.2C1318.7 1128.7 1301.5 1133.6 1288.3 1136.8C1275.1 1140.1 1260.5 1143.0 1249.6 1145.7C1238.8 1148.4 1230.3 1150.8 1223.3 1153.2C1216.2 1155.6 1211.9 1157.8 1207.5 1160.0C1203.1 1162.3 1199.6 1164.6 1196.9 1166.9C1194.3 1169.2 1192.5 1172.6 1191.6 1173.7Z" fill="#EBF0FA" stroke="none"/>
<path d="M1191.6 1037.0C1193.1 1038.2 1197.2 1041.9 1200.4 1044.2C1203.7 1046.4 1206.0 1048.1 1211.0 1050.7C1216.0 1053.3 1220.6 1056.4 1230.3 1059.7C1240.0 1063.1 1255.8 1067.6 1269.0 1070.9C1282.1 1074.3 1297.7 1076.7 1309.4 1079.7C1321.1 1082.7 1331.6 1086.4 1339.2 1088.8C1346.9 1091.3 1350.8 1092.4 1355.1 1094.4C1359.3 1096.5 1362.7 1099.0 1364.7 1101.3C1366.8 1103.6 1367.7 1105.8 1367.4 1108.1C1367.1 1110.4 1366.2 1112.9 1363.0 1115.2C1359.7 1117.5 1353.7 1120.0 1348.0 1121.8C1342.3 1123.6 1338.7 1123.6 1328.7 1126.2C1318.7 1128.7 1301.5 1133.6 1288.3 1136.8C1275.1 1140.1 1260.5 1143.0 1249.6 1145.7C1238.8 1148.4 1230.3 1150.8 1223.3 1153.2C1216.2 1155.6 1211.9 1157.8 1207.5 1160.0C1203.1 1162.3 1199.6 1164.6 1196.9 1166.9C1194.3 1169.2 1192.5 1172.6 1191.6 1173.7" fill="none" stroke="#767171" stroke-width="3.2"/>
<path d="M1191.6 1083.9C1193.1 1085.1 1197.2 1088.6 1200.4 1090.8C1203.7 1093.1 1206.0 1094.7 1211.0 1097.3C1216.0 1099.8 1220.6 1102.8 1230.3 1106.1C1240.0 1109.4 1255.8 1113.8 1269.0 1117.0C1282.1 1120.3 1297.7 1122.7 1309.4 1125.6C1321.1 1128.5 1331.6 1132.1 1339.2 1134.5C1346.9 1136.9 1350.8 1138.0 1355.1 1140.0C1359.3 1142.0 1362.7 1144.4 1364.7 1146.7C1366.8 1148.9 1367.7 1151.1 1367.4 1153.3C1367.1 1155.6 1366.2 1158.1 1363.0 1160.3C1359.7 1162.5 1353.7 1164.9 1348.0 1166.7C1342.3 1168.5 1338.7 1168.5 1328.7 1171.0C1318.7 1173.4 1301.5 1178.2 1288.3 1181.4C1275.1 1184.6 1260.5 1187.4 1249.6 1190.1C1238.8 1192.7 1230.3 1195.1 1223.3 1197.4C1216.2 1199.8 1211.9 1201.9 1207.5 1204.1C1203.1 1206.3 1199.6 1208.5 1196.9 1210.8C1194.3 1213.0 1192.5 1216.3 1191.6 1217.4Z" fill="#FDE1E1" fill-opacity="0.77" stroke="none"/>
<path d="M1191.6 1083.9C1193.1 1085.1 1197.2 1088.6 1200.4 1090.8C1203.7 1093.1 1206.0 1094.7 1211.0 1097.3C1216.0 1099.8 1220.6 1102.8 1230.3 1106.1C1240.0 1109.4 1255.8 1113.8 1269.0 1117.0C1282.1 1120.3 1297.7 1122.7 1309.4 1125.6C1321.1 1128.5 1331.6 1132.1 1339.2 1134.5C1346.9 1136.9 1350.8 1138.0 1355.1 1140.0C1359.3 1142.0 1362.7 1144.4 1364.7 1146.7C1366.8 1148.9 1367.7 1151.1 1367.4 1153.3C1367.1 1155.6 1366.2 1158.1 1363.0 1160.3C1359.7 1162.5 1353.7 1164.9 1348.0 1166.7C1342.3 1168.5 1338.7 1168.5 1328.7 1171.0C1318.7 1173.4 1301.5 1178.2 1288.3 1181.4C1275.1 1184.6 1260.5 1187.4 1249.6 1190.1C1238.8 1192.7 1230.3 1195.1 1223.3 1197.4C1216.2 1199.8 1211.9 1201.9 1207.5 1204.1C1203.1 1206.3 1199.6 1208.5 1196.9 1210.8C1194.3 1213.0 1192.5 1216.3 1191.6 1217.4" fill="none" stroke="#767171" stroke-width="3.2"/>
<path d="M915.2 1000.0C916.1 1001.1 918.6 1004.6 920.5 1006.8C922.5 1009.0 923.9 1010.6 926.9 1013.1C929.9 1015.6 932.8 1018.6 938.6 1021.8C944.5 1025.0 954.1 1029.4 962.1 1032.6C970.1 1035.8 979.5 1038.1 986.6 1041.0C993.7 1043.9 1000.1 1047.5 1004.7 1049.8C1009.4 1052.2 1011.8 1053.2 1014.3 1055.2C1016.9 1057.2 1018.9 1059.6 1020.2 1061.8C1021.4 1064.0 1022.0 1066.1 1021.8 1068.4C1021.6 1070.6 1021.1 1073.0 1019.1 1075.2C1017.2 1077.4 1013.5 1079.8 1010.1 1081.5C1006.6 1083.3 1004.4 1083.3 998.3 1085.7C992.3 1088.2 981.8 1092.9 973.8 1096.0C965.8 1099.1 956.9 1101.9 950.4 1104.6C943.8 1107.2 938.6 1109.5 934.4 1111.8C930.1 1114.1 927.4 1116.2 924.8 1118.4C922.1 1120.6 920.0 1122.8 918.4 1125.0C916.8 1127.2 915.7 1130.4 915.2 1131.5Z" fill="#B4C7E7" stroke="none"/>
<path d="M915.2 1000.0C916.1 1001.1 918.6 1004.6 920.5 1006.8C922.5 1009.0 923.9 1010.6 926.9 1013.1C929.9 1015.6 932.8 1018.6 938.6 1021.8C944.5 1025.0 954.1 1029.4 962.1 1032.6C970.1 1035.8 979.5 1038.1 986.6 1041.0C993.7 1043.9 1000.1 1047.5 1004.7 1049.8C1009.4 1052.2 1011.8 1053.2 1014.3 1055.2C1016.9 1057.2 1018.9 1059.6 1020.2 1061.8C1021.4 1064.0 1022.0 1066.1 1021.8 1068.4C1021.6 1070.6 1021.1 1073.0 1019.1 1075.2C1017.2 1077.4 1013.5 1079.8 1010.1 1081.5C1006.6 1083.3 1004.4 1083.3 998.3 1085.7C992.3 1088.2 981.8 1092.9 973.8 1096.0C965.8 1099.1 956.9 1101.9 950.4 1104.6C943.8 1107.2 938.6 1109.5 934.4 1111.8C930.1 1114.1 927.4 1116.2 924.8 1118.4C922.1 1120.6 920.0 1122.8 918.4 1125.0C916.8 1127.2 915.7 1130.4 915.2 1131.5" fill="none" stroke="#767171" stroke-width="3.2"/>
<path d="M915.2 1042.9C916.1 1044.0 918.6 1047.6 920.5 1049.7C922.5 1051.9 923.9 1053.6 926.9 1056.1C929.9 1058.6 932.8 1061.5 938.6 1064.7C944.5 1068.0 954.1 1072.3 962.1 1075.5C970.1 1078.7 979.5 1081.1 986.6 1084.0C993.7 1086.8 1000.1 1090.4 1004.7 1092.8C1009.4 1095.1 1011.8 1096.2 1014.3 1098.2C1016.9 1100.2 1018.9 1102.6 1020.2 1104.8C1021.4 1106.9 1022.0 1109.1 1021.8 1111.3C1021.6 1113.6 1021.1 1116.0 1019.1 1118.2C1017.2 1120.4 1013.5 1122.7 1010.1 1124.5C1006.6 1126.2 1004.4 1126.3 998.3 1128.7C992.3 1131.1 981.8 1135.8 973.8 1139.0C965.8 1142.1 956.9 1144.9 950.4 1147.5C943.8 1150.2 938.6 1152.5 934.4 1154.8C930.1 1157.1 927.4 1159.1 924.8 1161.3C922.1 1163.5 920.0 1165.7 918.4 1167.9C916.8 1170.1 915.7 1173.4 915.2 1174.5Z" fill="#ff9191" fill-opacity="0.77" stroke="none"/>
<path d="M915.2 1042.9C916.1 1044.0 918.6 1047.6 920.5 1049.7C922.5 1051.9 923.9 1053.6 926.9 1056.1C929.9 1058.6 932.8 1061.5 938.6 1064.7C944.5 1068.0 954.1 1072.3 962.1 1075.5C970.1 1078.7 979.5 1081.1 986.6 1084.0C993.7 1086.8 1000.1 1090.4 1004.7 1092.8C1009.4 1095.1 1011.8 1096.2 1014.3 1098.2C1016.9 1100.2 1018.9 1102.6 1020.2 1104.8C1021.4 1106.9 1022.0 1109.1 1021.8 1111.3C1021.6 1113.6 1021.1 1116.0 1019.1 1118.2C1017.2 1120.4 1013.5 1122.7 1010.1 1124.5C1006.6 1126.2 1004.4 1126.3 998.3 1128.7C992.3 1131.1 981.8 1135.8 973.8 1139.0C965.8 1142.1 956.9 1144.9 950.4 1147.5C943.8 1150.2 938.6 1152.5 934.4 1154.8C930.1 1157.1 927.4 1159.1 924.8 1161.3C922.1 1163.5 920.0 1165.7 918.4 1167.9C916.8 1170.1 915.7 1173.4 915.2 1174.5" fill="none" stroke="#767171" stroke-width="3.2"/>
<line x1="1021.8" y1="1064.4" x2="1187.7" y2="815.3" stroke="#000" stroke-width="4" fill="none" stroke-linejoin="miter"/>
<line x1="1021.8" y1="1106.6" x2="1187.7" y2="856.6" stroke="#000" stroke-width="4" fill="none" stroke-linejoin="miter"/>
<line x1="1021.8" y1="1065.2" x2="1187.7" y2="1106.6" stroke="#000" stroke-width="4" fill="none" stroke-linejoin="miter"/>
<line x1="1021.8" y1="1107.3" x2="1187.7" y2="1148.3" stroke="#000" stroke-width="4" fill="none" stroke-linejoin="miter"/>
<polyline points="1368.1,856.6 1486.1,1012.8 1368.1,1148.3" stroke="#000" stroke-width="4" fill="none" stroke-linejoin="miter"/>
<line x1="1486.1" y1="1012.8" x2="1580.2" y2="1012.8" stroke="#000" stroke-width="4" fill="none" stroke-linejoin="miter"/>
<line x1="1187.7" y1="697.3" x2="1187.7" y2="1239.3" stroke="#000" stroke-width="4.2"/>
<polyline points="1177.6,713.7 1187.7,696.6 1198.3,713.7" fill="none" stroke="#000" stroke-width="4" stroke-linejoin="miter" stroke-linecap="round"/>
<line x1="1187.7" y1="745.0" x2="1390.4" y2="748.1" stroke="#000" stroke-width="4"/>
<rect x="1377.9" y="816.8" width="9.8" height="3.9" fill="#1E9BE0"/>
<rect x="1377.9" y="824.2" width="9.8" height="4.7" fill="#1E9BE0"/>
<rect x="1377.9" y="832.4" width="9.8" height="4.7" fill="#1E9BE0"/>
<rect x="1377.9" y="839.5" width="9.8" height="7.0" fill="#1E9BE0"/>
<polygon points="1372.8,845.7 1392.7,845.7 1382.6,862.1" fill="#1E9BE0"/>
<text x="962.8" y="756.7" font-size="42" text-anchor="start" font-weight="normal" fill="#000" >Fermi level</text>
<text x="1327.9" y="789.1" font-size="42" text-anchor="start" font-weight="normal" fill="#000" >Antibonding</text>
<text x="1394.3" y="851.6" font-size="42" text-anchor="start" font-weight="normal" fill="#000" >Downshift</text>
<text x="1493.5" y="1009.3" font-size="42" text-anchor="start" font-weight="normal" fill="#000" >Ads.</text>
<text x="1261.5" y="1229.2" font-size="42" text-anchor="start" font-weight="normal" fill="#000" >Bonding</text>
<text x="852.3" y="975.4" font-size="42" text-anchor="start" font-weight="normal" fill="#000" >Pd/Cl-GDY</text>
<text x="852.7" y="1224.5" font-size="42" text-anchor="start" font-weight="normal" fill="#000" >Pd/Cu<tspan dy="14.1" font-size="24.78">2</tspan><tspan dy="-14.1">O/Cl-GDY</tspan></text>
</g>
<g id="pf">
<line x1="219.0" y1="1450.3" x2="312.4" y2="1506.3" stroke="#404040" stroke-width="2.9" fill="none" stroke-dasharray="23 13.5"/>
<line x1="412.4" y1="1506.3" x2="507.6" y2="1506.3" stroke="#404040" stroke-width="2.9" fill="none" stroke-dasharray="23 13.5"/>
<line x1="607.6" y1="1506.3" x2="702.3" y2="1550.6" stroke="#404040" stroke-width="2.9" fill="none" stroke-dasharray="23 13.5"/>
<line x1="607.6" y1="1506.3" x2="702.3" y2="1563.6" stroke="#404040" stroke-width="2.9" fill="none" stroke-dasharray="23 13.5"/>
<line x1="802.3" y1="1563.6" x2="897.0" y2="1579.2" stroke="#404040" stroke-width="2.9" fill="none" stroke-dasharray="23 13.5"/>
<line x1="802.3" y1="1550.6" x2="897.0" y2="1704.2" stroke="#404040" stroke-width="2.9" fill="none" stroke-dasharray="23 13.5"/>
<line x1="997.0" y1="1579.2" x2="1091.3" y2="1726.3" stroke="#404040" stroke-width="2.9" fill="none" stroke-dasharray="23 13.5"/>
<line x1="997.0" y1="1704.2" x2="1091.3" y2="1553.2" stroke="#404040" stroke-width="2.9" fill="none" stroke-dasharray="23 13.5"/>
<line x1="1191.3" y1="1726.3" x2="1286.5" y2="1738.0" stroke="#404040" stroke-width="2.9" fill="none" stroke-dasharray="23 13.5"/>
<line x1="1386.5" y1="1738.0" x2="1481.7" y2="1719.8" stroke="#404040" stroke-width="2.9" fill="none" stroke-dasharray="23 13.5"/>
<line x1="121.0" y1="1450.3" x2="217.0" y2="1450.3" stroke="#EE3338" stroke-width="5.5" stroke-linecap="round"/>
<line x1="314.4" y1="1506.3" x2="410.4" y2="1506.3" stroke="#EE3338" stroke-width="5.5" stroke-linecap="round"/>
<line x1="509.6" y1="1506.3" x2="605.6" y2="1506.3" stroke="#EE3338" stroke-width="5.5" stroke-linecap="round"/>
<line x1="704.3" y1="1550.6" x2="800.3" y2="1550.6" stroke="#0A0AFA" stroke-width="5.5" stroke-linecap="round"/>
<line x1="704.3" y1="1563.6" x2="800.3" y2="1563.6" stroke="#EE3338" stroke-width="5.5" stroke-linecap="round"/>
<line x1="899.0" y1="1579.2" x2="995.0" y2="1579.2" stroke="#EE3338" stroke-width="5.5" stroke-linecap="round"/>
<line x1="899.0" y1="1704.2" x2="995.0" y2="1704.2" stroke="#0A0AFA" stroke-width="5.5" stroke-linecap="round"/>
<line x1="1093.3" y1="1553.2" x2="1189.3" y2="1553.2" stroke="#0A0AFA" stroke-width="5.5" stroke-linecap="round"/>
<line x1="1093.3" y1="1726.3" x2="1189.3" y2="1726.3" stroke="#EE3338" stroke-width="5.5" stroke-linecap="round"/>
<line x1="1288.5" y1="1738.0" x2="1384.5" y2="1738.0" stroke="#EE3338" stroke-width="5.5" stroke-linecap="round"/>
<line x1="1483.7" y1="1719.8" x2="1579.7" y2="1719.8" stroke="#EE3338" stroke-width="5.5" stroke-linecap="round"/>
<rect x="119" y="1346.9" width="1462.3" height="493.9" fill="none" stroke="#000" stroke-width="3.4"/>
<line x1="110" y1="1450.3" x2="119" y2="1450.3" stroke="#000" stroke-width="3"/>
<text x="103.5" y="1464.3" font-size="42" text-anchor="end" font-weight="normal" fill="#000" >0</text>
<line x1="110" y1="1580.5" x2="119" y2="1580.5" stroke="#000" stroke-width="3"/>
<text x="103.5" y="1594.5" font-size="42" text-anchor="end" font-weight="normal" fill="#000" >-1</text>
<line x1="110" y1="1710.7" x2="119" y2="1710.7" stroke="#000" stroke-width="3"/>
<text x="103.5" y="1724.7" font-size="42" text-anchor="end" font-weight="normal" fill="#000" >-2</text>
<line x1="110" y1="1840.9" x2="119" y2="1840.9" stroke="#000" stroke-width="3"/>
<text x="103.5" y="1854.9" font-size="42" text-anchor="end" font-weight="normal" fill="#000" >-3</text>
<line x1="114" y1="1385.2" x2="119" y2="1385.2" stroke="#000" stroke-width="3"/>
<line x1="114" y1="1515.4" x2="119" y2="1515.4" stroke="#000" stroke-width="3"/>
<line x1="114" y1="1645.6" x2="119" y2="1645.6" stroke="#000" stroke-width="3"/>
<line x1="114" y1="1775.8" x2="119" y2="1775.8" stroke="#000" stroke-width="3"/>
<text transform="translate(49,1577) rotate(-90)" font-size="42" text-anchor="middle">Free energy (eV)</text>
<text x="849.5" y="1905.0" font-size="41.6" text-anchor="middle" font-weight="normal" fill="#000" >Reaction Coordinates</text>
<text x="1241.4" y="1402.3" font-size="42" text-anchor="start" font-weight="normal" fill="#000" >Pd/Cu<tspan dy="10.9" font-size="26.04">2</tspan><tspan dy="-10.9">O/Cl-GDY</tspan></text>
<text x="156.0" y="1431.0" font-size="33" text-anchor="middle" font-weight="normal" fill="#000" >0.0</text>
<text x="125.0" y="1512.0" font-size="33" text-anchor="start" font-weight="normal" fill="#000" >*+CH<tspan dy="8.6" font-size="20.46">3</tspan><tspan dy="-8.6">OH</tspan></text>
<text x="362.4" y="1493.0" font-size="33" text-anchor="middle" font-weight="normal" fill="#000" >&#8211;0.43</text>
<text x="349.0" y="1545.0" font-size="33" text-anchor="middle" font-weight="normal" fill="#000" >*CH<tspan dy="8.6" font-size="20.46">2</tspan><tspan dy="-8.6">OH</tspan></text>
<text x="557.6" y="1493.0" font-size="33" text-anchor="middle" font-weight="normal" fill="#000" >&#8211;0.43</text>
<text x="557.6" y="1545.0" font-size="33" text-anchor="middle" font-weight="normal" fill="#000" >*CHOH</text>
<text x="752.3" y="1492.0" font-size="33" text-anchor="middle" font-weight="normal" fill="#000" >&#8211;0.77</text>
<text x="752.3" y="1533.0" font-size="33" text-anchor="middle" font-weight="normal" fill="#000" >*COH</text>
<text x="685.0" y="1604.0" font-size="33" text-anchor="start" font-weight="normal" fill="#000" >*CH(OH)<tspan dy="8.6" font-size="20.46">2</tspan></text>
<text x="752.3" y="1645.0" font-size="33" text-anchor="middle" font-weight="normal" fill="#000" >&#8211;0.87</text>
<text x="950.0" y="1564.0" font-size="33" text-anchor="middle" font-weight="normal" fill="#000" >&#8211;0.99</text>
<text x="892.0" y="1622.0" font-size="33" text-anchor="start" font-weight="normal" fill="#000" >*C(OH)<tspan dy="8.6" font-size="20.46">2</tspan></text>
<text x="947.0" y="1691.0" font-size="33" text-anchor="middle" font-weight="normal" fill="#000" >&#8211;1.95</text>
<text x="950.5" y="1741.0" font-size="33" text-anchor="middle" font-weight="normal" fill="#000" >*CO</text>
<text x="1141.3" y="1537.0" font-size="33" text-anchor="middle" font-weight="normal" fill="#000" >&#8211;0.79</text>
<text x="1141.3" y="1592.0" font-size="33" text-anchor="middle" font-weight="normal" fill="#000" >*+CO</text>
<text x="1141.3" y="1711.0" font-size="33" text-anchor="middle" font-weight="normal" fill="#000" >&#8211;2.12</text>
<text x="1146.0" y="1766.0" font-size="33" text-anchor="middle" font-weight="normal" fill="#000" >*COOH</text>
<text x="1333.5" y="1724.0" font-size="33" text-anchor="middle" font-weight="normal" fill="#000" >&#8211;2.21</text>
<text x="1302.0" y="1778.0" font-size="33" text-anchor="start" font-weight="normal" fill="#000" >*CO<tspan dy="8.6" font-size="20.46">2</tspan></text>
<text x="1528.7" y="1705.0" font-size="33" text-anchor="middle" font-weight="normal" fill="#000" >&#8211;2.07</text>
<text x="1484.0" y="1760.0" font-size="33" text-anchor="start" font-weight="normal" fill="#000" >*+CO<tspan dy="8.6" font-size="20.46">2</tspan></text>
<line x1="136" y1="1745" x2="229" y2="1745" stroke="#EE3338" stroke-width="5.5" stroke-linecap="round"/>
<line x1="136" y1="1806" x2="229" y2="1806" stroke="#0A0AFA" stroke-width="5.5" stroke-linecap="round"/>
<text x="242.0" y="1757.0" font-size="41.5" text-anchor="start" font-weight="normal" fill="#000" >CH<tspan dy="10.8" font-size="25.73">3</tspan><tspan dy="-10.8">OH oxidation pathway</tspan></text>
<text x="242.0" y="1817.5" font-size="41.5" text-anchor="start" font-weight="normal" fill="#000" >CO poisoning pathway</text>
</g>
</svg>
</body></html>
